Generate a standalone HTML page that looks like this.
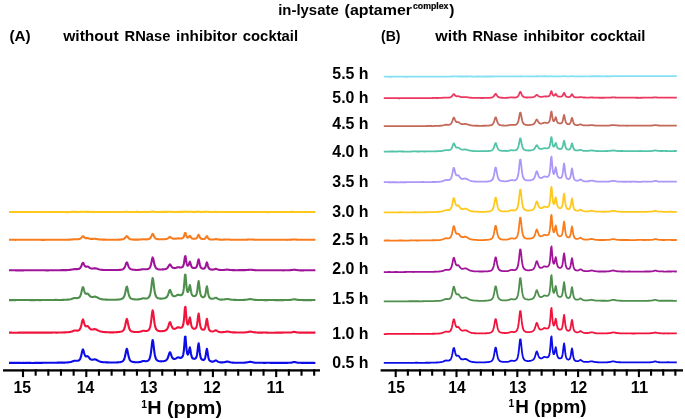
<!DOCTYPE html>
<html lang="en"><head><meta charset="utf-8"><title>in-lysate NMR</title>
<style>html,body{margin:0;padding:0;background:#fff}svg{display:block}</style></head>
<body>
<svg width="685" height="419" viewBox="0 0 685 419">
<rect width="685" height="419" fill="#fff"/>
<g fill="none" stroke-linejoin="round" stroke-linecap="butt">
<path stroke="#0c0ce6" stroke-width="2.1" d="M9.00,362.90 L9.55,362.89 L10.10,362.89 L10.64,362.87 L11.19,362.86 L11.74,362.84 L12.29,362.83 L12.84,362.83 L13.38,362.83 L13.93,362.84 L14.48,362.86 L15.03,362.87 L15.58,362.88 L16.13,362.88 L16.67,362.88 L17.22,362.88 L17.77,362.88 L18.32,362.88 L18.87,362.89 L19.41,362.90 L19.96,362.91 L20.51,362.92 L21.06,362.93 L21.61,362.93 L22.15,362.92 L22.70,362.92 L23.25,362.92 L23.80,362.92 L24.35,362.92 L24.90,362.93 L25.44,362.92 L25.99,362.92 L26.54,362.91 L27.09,362.90 L27.64,362.89 L28.18,362.88 L28.73,362.88 L29.28,362.89 L29.83,362.90 L30.38,362.91 L30.92,362.92 L31.47,362.93 L32.02,362.94 L32.57,362.94 L33.12,362.94 L33.67,362.93 L34.21,362.91 L34.76,362.89 L35.31,362.88 L35.86,362.86 L36.41,362.85 L36.95,362.85 L37.50,362.85 L38.05,362.86 L38.60,362.87 L39.15,362.88 L39.69,362.89 L40.24,362.89 L40.79,362.88 L41.34,362.87 L41.89,362.85 L42.44,362.83 L42.98,362.81 L43.53,362.79 L44.08,362.78 L44.63,362.77 L45.18,362.77 L45.72,362.77 L46.27,362.77 L46.82,362.77 L47.37,362.77 L47.92,362.76 L48.46,362.75 L49.01,362.74 L49.56,362.73 L50.11,362.73 L50.66,362.72 L51.21,362.73 L51.75,362.74 L52.30,362.75 L52.85,362.76 L53.40,362.77 L53.95,362.77 L54.49,362.77 L55.04,362.76 L55.59,362.74 L56.14,362.71 L56.69,362.68 L57.23,362.66 L57.78,362.64 L58.33,362.63 L58.88,362.63 L59.43,362.63 L59.98,362.63 L60.52,362.63 L61.07,362.63 L61.62,362.63 L62.17,362.62 L62.72,362.61 L63.26,362.61 L63.81,362.60 L64.36,362.59 L64.91,362.58 L65.46,362.55 L66.00,362.52 L66.55,362.49 L67.10,362.45 L67.65,362.41 L68.20,362.36 L68.75,362.30 L69.29,362.23 L69.84,362.15 L70.39,362.04 L70.94,361.91 L71.49,361.75 L72.03,361.56 L72.58,361.36 L73.13,361.16 L73.68,360.97 L74.23,360.82 L74.77,360.73 L75.32,360.71 L75.87,360.74 L76.42,360.78 L76.97,360.81 L77.52,360.80 L78.06,360.72 L78.61,360.55 L79.16,360.21 L79.71,359.63 L80.26,358.68 L80.80,357.21 L81.35,355.14 L81.90,352.59 L82.45,350.25 L83.00,349.44 L83.54,350.66 L84.09,352.78 L84.64,354.65 L85.19,355.84 L85.74,356.36 L86.29,356.39 L86.83,356.20 L87.38,356.11 L87.93,356.36 L88.48,356.96 L89.03,357.70 L89.57,358.40 L90.12,358.97 L90.67,359.37 L91.22,359.61 L91.77,359.72 L92.31,359.73 L92.86,359.66 L93.41,359.55 L93.96,359.44 L94.51,359.37 L95.06,359.37 L95.60,359.48 L96.15,359.68 L96.70,359.95 L97.25,360.26 L97.80,360.57 L98.34,360.87 L98.89,361.13 L99.44,361.36 L99.99,361.56 L100.54,361.72 L101.08,361.86 L101.63,361.97 L102.18,362.07 L102.73,362.15 L103.28,362.21 L103.83,362.25 L104.37,362.28 L104.92,362.30 L105.47,362.32 L106.02,362.33 L106.57,362.34 L107.11,362.36 L107.66,362.39 L108.21,362.42 L108.76,362.45 L109.31,362.48 L109.85,362.51 L110.40,362.52 L110.95,362.53 L111.50,362.53 L112.05,362.53 L112.59,362.52 L113.14,362.51 L113.69,362.50 L114.24,362.50 L114.79,362.49 L115.34,362.47 L115.88,362.45 L116.43,362.43 L116.98,362.40 L117.53,362.37 L118.08,362.33 L118.62,362.30 L119.17,362.25 L119.72,362.19 L120.27,362.11 L120.82,362.00 L121.36,361.85 L121.91,361.65 L122.46,361.38 L123.01,360.97 L123.56,360.35 L124.11,359.35 L124.65,357.82 L125.20,355.60 L125.75,352.75 L126.30,349.93 L126.85,348.76 L127.39,350.21 L127.94,353.08 L128.49,355.86 L129.04,357.99 L129.59,359.44 L130.13,360.38 L130.68,360.97 L131.23,361.35 L131.78,361.61 L132.33,361.79 L132.88,361.92 L133.42,362.02 L133.97,362.10 L134.52,362.15 L135.07,362.19 L135.62,362.21 L136.16,362.23 L136.71,362.24 L137.26,362.23 L137.81,362.22 L138.36,362.20 L138.90,362.15 L139.45,362.09 L140.00,361.99 L140.55,361.86 L141.10,361.69 L141.65,361.49 L142.19,361.28 L142.74,361.11 L143.29,361.01 L143.84,361.00 L144.39,361.05 L144.93,361.13 L145.48,361.19 L146.03,361.21 L146.58,361.17 L147.13,361.06 L147.67,360.86 L148.22,360.54 L148.77,360.04 L149.32,359.24 L149.87,357.93 L150.42,355.82 L150.96,352.57 L151.51,348.06 L152.06,343.01 L152.61,339.96 L153.16,341.54 L153.70,346.25 L154.25,351.08 L154.80,354.74 L155.35,357.18 L155.90,358.70 L156.44,359.64 L156.99,360.22 L157.54,360.60 L158.09,360.86 L158.64,361.05 L159.19,361.17 L159.73,361.26 L160.28,361.31 L160.83,361.34 L161.38,361.34 L161.93,361.32 L162.47,361.29 L163.02,361.23 L163.57,361.16 L164.12,361.05 L164.67,360.92 L165.21,360.74 L165.76,360.48 L166.31,360.11 L166.86,359.57 L167.41,358.75 L167.96,357.56 L168.50,355.95 L169.05,354.07 L169.60,352.53 L170.15,352.31 L170.70,353.51 L171.24,355.21 L171.79,356.70 L172.34,357.76 L172.89,358.44 L173.44,358.81 L173.98,358.98 L174.53,358.98 L175.08,358.86 L175.63,358.64 L176.18,358.34 L176.73,357.97 L177.27,357.62 L177.82,357.39 L178.37,357.36 L178.92,357.50 L179.47,357.69 L180.01,357.85 L180.56,357.90 L181.11,357.82 L181.66,357.56 L182.21,357.06 L182.75,356.12 L183.30,354.26 L183.85,350.57 L184.40,344.22 L184.95,336.89 L185.50,336.50 L186.04,343.53 L186.59,349.82 L187.14,353.30 L187.69,354.59 L188.24,354.27 L188.78,352.39 L189.33,349.18 L189.88,347.36 L190.43,349.97 L190.98,353.69 L191.52,356.20 L192.07,357.56 L192.62,358.25 L193.17,358.61 L193.72,358.79 L194.27,358.83 L194.81,358.76 L195.36,358.52 L195.91,358.00 L196.46,356.91 L197.01,354.74 L197.55,350.87 L198.10,345.72 L198.65,343.26 L199.20,346.96 L199.75,352.20 L200.29,355.86 L200.84,357.92 L201.39,358.98 L201.94,359.54 L202.49,359.84 L203.04,359.97 L203.58,359.94 L204.13,359.68 L204.68,359.02 L205.23,357.58 L205.78,354.91 L206.32,351.09 L206.87,348.75 L207.42,351.07 L207.97,355.09 L208.52,358.02 L209.06,359.69 L209.61,360.57 L210.16,361.04 L210.71,361.32 L211.26,361.50 L211.81,361.61 L212.35,361.65 L212.90,361.62 L213.45,361.51 L214.00,361.30 L214.55,360.99 L215.09,360.65 L215.64,360.42 L216.19,360.48 L216.74,360.79 L217.29,361.21 L217.83,361.58 L218.38,361.87 L218.93,362.07 L219.48,362.21 L220.03,362.30 L220.57,362.36 L221.12,362.40 L221.67,362.41 L222.22,362.41 L222.77,362.38 L223.32,362.33 L223.86,362.26 L224.41,362.16 L224.96,362.03 L225.51,361.90 L226.06,361.76 L226.60,361.65 L227.15,361.60 L227.70,361.61 L228.25,361.70 L228.80,361.84 L229.34,362.00 L229.89,362.16 L230.44,362.30 L230.99,362.41 L231.54,362.51 L232.09,362.58 L232.63,362.63 L233.18,362.66 L233.73,362.69 L234.28,362.70 L234.83,362.71 L235.37,362.70 L235.92,362.70 L236.47,362.70 L237.02,362.71 L237.57,362.71 L238.11,362.72 L238.66,362.73 L239.21,362.74 L239.76,362.74 L240.31,362.74 L240.86,362.74 L241.40,362.74 L241.95,362.74 L242.50,362.73 L243.05,362.72 L243.60,362.71 L244.14,362.68 L244.69,362.64 L245.24,362.59 L245.79,362.53 L246.34,362.45 L246.88,362.37 L247.43,362.28 L247.98,362.18 L248.53,362.07 L249.08,361.96 L249.63,361.86 L250.17,361.82 L250.72,361.84 L251.27,361.92 L251.82,362.04 L252.37,362.18 L252.91,362.31 L253.46,362.44 L254.01,362.54 L254.56,362.63 L255.11,362.70 L255.65,362.73 L256.20,362.75 L256.75,362.75 L257.30,362.73 L257.85,362.72 L258.40,362.71 L258.94,362.71 L259.49,362.71 L260.04,362.72 L260.59,362.74 L261.14,362.77 L261.68,362.79 L262.23,362.80 L262.78,362.82 L263.33,362.83 L263.88,362.84 L264.42,362.84 L264.97,362.84 L265.52,362.83 L266.07,362.82 L266.62,362.80 L267.17,362.79 L267.71,362.78 L268.26,362.79 L268.81,362.79 L269.36,362.81 L269.91,362.82 L270.45,362.84 L271.00,362.85 L271.55,362.86 L272.10,362.86 L272.65,362.87 L273.19,362.87 L273.74,362.89 L274.29,362.90 L274.84,362.91 L275.39,362.92 L275.94,362.91 L276.48,362.90 L277.03,362.90 L277.58,362.89 L278.13,362.88 L278.68,362.88 L279.22,362.87 L279.77,362.87 L280.32,362.85 L280.87,362.84 L281.42,362.83 L281.96,362.83 L282.51,362.84 L283.06,362.85 L283.61,362.87 L284.16,362.88 L284.71,362.88 L285.25,362.88 L285.80,362.87 L286.35,362.86 L286.90,362.85 L287.45,362.83 L287.99,362.82 L288.54,362.81 L289.09,362.79 L289.64,362.77 L290.19,362.73 L290.73,362.68 L291.28,362.60 L291.83,362.51 L292.38,362.39 L292.93,362.24 L293.48,362.10 L294.02,362.01 L294.57,362.01 L295.12,362.11 L295.67,362.25 L296.22,362.39 L296.76,362.51 L297.31,362.60 L297.86,362.67 L298.41,362.72 L298.96,362.76 L299.50,362.78 L300.05,362.79 L300.60,362.81 L301.15,362.83 L301.70,362.85 L302.25,362.87 L302.79,362.88 L303.34,362.89 L303.89,362.89 L304.44,362.89 L304.99,362.89 L305.53,362.89 L306.08,362.88 L306.63,362.88 L307.18,362.88 L307.73,362.88 L308.27,362.87 L308.82,362.87 L309.37,362.86 L309.92,362.86 L310.47,362.87 L311.02,362.87 L311.56,362.88 L312.11,362.89 L312.66,362.90 L313.21,362.90 L313.76,362.91 L314.30,362.92 L314.85,362.93 L315.40,362.94"/>
<path stroke="#f0143c" stroke-width="2.1" d="M9.00,332.66 L9.55,332.65 L10.10,332.64 L10.64,332.65 L11.19,332.65 L11.74,332.67 L12.29,332.68 L12.84,332.70 L13.38,332.71 L13.93,332.72 L14.48,332.73 L15.03,332.73 L15.58,332.73 L16.13,332.73 L16.67,332.72 L17.22,332.70 L17.77,332.69 L18.32,332.67 L18.87,332.66 L19.41,332.65 L19.96,332.65 L20.51,332.65 L21.06,332.65 L21.61,332.64 L22.15,332.64 L22.70,332.63 L23.25,332.62 L23.80,332.62 L24.35,332.62 L24.90,332.64 L25.44,332.65 L25.99,332.66 L26.54,332.66 L27.09,332.66 L27.64,332.65 L28.18,332.64 L28.73,332.62 L29.28,332.61 L29.83,332.60 L30.38,332.60 L30.92,332.60 L31.47,332.61 L32.02,332.60 L32.57,332.60 L33.12,332.59 L33.67,332.59 L34.21,332.59 L34.76,332.60 L35.31,332.61 L35.86,332.63 L36.41,332.64 L36.95,332.66 L37.50,332.67 L38.05,332.67 L38.60,332.67 L39.15,332.66 L39.69,332.65 L40.24,332.64 L40.79,332.63 L41.34,332.63 L41.89,332.62 L42.44,332.62 L42.98,332.62 L43.53,332.62 L44.08,332.62 L44.63,332.61 L45.18,332.60 L45.72,332.59 L46.27,332.59 L46.82,332.58 L47.37,332.58 L47.92,332.59 L48.46,332.59 L49.01,332.60 L49.56,332.61 L50.11,332.62 L50.66,332.61 L51.21,332.60 L51.75,332.59 L52.30,332.58 L52.85,332.57 L53.40,332.57 L53.95,332.56 L54.49,332.56 L55.04,332.57 L55.59,332.58 L56.14,332.58 L56.69,332.59 L57.23,332.59 L57.78,332.58 L58.33,332.57 L58.88,332.57 L59.43,332.56 L59.98,332.56 L60.52,332.55 L61.07,332.54 L61.62,332.53 L62.17,332.51 L62.72,332.48 L63.26,332.45 L63.81,332.42 L64.36,332.39 L64.91,332.36 L65.46,332.33 L66.00,332.30 L66.55,332.27 L67.10,332.25 L67.65,332.22 L68.20,332.19 L68.75,332.14 L69.29,332.07 L69.84,331.99 L70.39,331.88 L70.94,331.74 L71.49,331.58 L72.03,331.39 L72.58,331.19 L73.13,330.98 L73.68,330.79 L74.23,330.64 L74.77,330.55 L75.32,330.54 L75.87,330.57 L76.42,330.62 L76.97,330.65 L77.52,330.64 L78.06,330.57 L78.61,330.40 L79.16,330.06 L79.71,329.48 L80.26,328.53 L80.80,327.09 L81.35,325.05 L81.90,322.55 L82.45,320.25 L83.00,319.46 L83.54,320.66 L84.09,322.77 L84.64,324.62 L85.19,325.81 L85.74,326.33 L86.29,326.36 L86.83,326.16 L87.38,326.06 L87.93,326.28 L88.48,326.85 L89.03,327.57 L89.57,328.25 L90.12,328.81 L90.67,329.21 L91.22,329.45 L91.77,329.56 L92.31,329.55 L92.86,329.47 L93.41,329.35 L93.96,329.23 L94.51,329.16 L95.06,329.17 L95.60,329.27 L96.15,329.45 L96.70,329.71 L97.25,330.00 L97.80,330.30 L98.34,330.58 L98.89,330.84 L99.44,331.07 L99.99,331.27 L100.54,331.44 L101.08,331.58 L101.63,331.69 L102.18,331.78 L102.73,331.86 L103.28,331.93 L103.83,332.00 L104.37,332.05 L104.92,332.10 L105.47,332.14 L106.02,332.17 L106.57,332.20 L107.11,332.22 L107.66,332.24 L108.21,332.27 L108.76,332.31 L109.31,332.35 L109.85,332.38 L110.40,332.40 L110.95,332.41 L111.50,332.41 L112.05,332.40 L112.59,332.38 L113.14,332.36 L113.69,332.34 L114.24,332.33 L114.79,332.31 L115.34,332.28 L115.88,332.25 L116.43,332.21 L116.98,332.17 L117.53,332.12 L118.08,332.07 L118.62,332.02 L119.17,331.96 L119.72,331.90 L120.27,331.83 L120.82,331.73 L121.36,331.60 L121.91,331.42 L122.46,331.16 L123.01,330.76 L123.56,330.13 L124.11,329.15 L124.65,327.65 L125.20,325.49 L125.75,322.71 L126.30,319.99 L126.85,318.87 L127.39,320.31 L127.94,323.14 L128.49,325.87 L129.04,327.94 L129.59,329.35 L130.13,330.26 L130.68,330.83 L131.23,331.19 L131.78,331.43 L132.33,331.60 L132.88,331.73 L133.42,331.82 L133.97,331.90 L134.52,331.96 L135.07,332.01 L135.62,332.04 L136.16,332.05 L136.71,332.04 L137.26,332.01 L137.81,331.98 L138.36,331.93 L138.90,331.88 L139.45,331.81 L140.00,331.72 L140.55,331.59 L141.10,331.43 L141.65,331.24 L142.19,331.05 L142.74,330.88 L143.29,330.78 L143.84,330.77 L144.39,330.82 L144.93,330.90 L145.48,330.95 L146.03,330.98 L146.58,330.94 L147.13,330.85 L147.67,330.66 L148.22,330.36 L148.77,329.89 L149.32,329.11 L149.87,327.84 L150.42,325.78 L150.96,322.60 L151.51,318.18 L152.06,313.23 L152.61,310.25 L153.16,311.80 L153.70,316.43 L154.25,321.16 L154.80,324.75 L155.35,327.15 L155.90,328.65 L156.44,329.57 L156.99,330.14 L157.54,330.51 L158.09,330.76 L158.64,330.93 L159.19,331.04 L159.73,331.12 L160.28,331.16 L160.83,331.18 L161.38,331.18 L161.93,331.16 L162.47,331.13 L163.02,331.07 L163.57,330.99 L164.12,330.88 L164.67,330.74 L165.21,330.55 L165.76,330.28 L166.31,329.91 L166.86,329.36 L167.41,328.55 L167.96,327.38 L168.50,325.79 L169.05,323.93 L169.60,322.42 L170.15,322.20 L170.70,323.39 L171.24,325.08 L171.79,326.57 L172.34,327.63 L172.89,328.31 L173.44,328.68 L173.98,328.83 L174.53,328.83 L175.08,328.71 L175.63,328.49 L176.18,328.19 L176.73,327.84 L177.27,327.50 L177.82,327.27 L178.37,327.24 L178.92,327.36 L179.47,327.54 L180.01,327.69 L180.56,327.76 L181.11,327.71 L181.66,327.50 L182.21,327.05 L182.75,326.17 L183.30,324.35 L183.85,320.74 L184.40,314.49 L184.95,307.26 L185.50,306.85 L186.04,313.70 L186.59,319.86 L187.14,323.26 L187.69,324.53 L188.24,324.22 L188.78,322.37 L189.33,319.23 L189.88,317.44 L190.43,319.98 L190.98,323.62 L191.52,326.07 L192.07,327.40 L192.62,328.09 L193.17,328.46 L193.72,328.66 L194.27,328.73 L194.81,328.68 L195.36,328.46 L195.91,327.96 L196.46,326.90 L197.01,324.76 L197.55,320.96 L198.10,315.89 L198.65,313.46 L199.20,317.08 L199.75,322.20 L200.29,325.78 L200.84,327.78 L201.39,328.81 L201.94,329.35 L202.49,329.64 L203.04,329.76 L203.58,329.73 L204.13,329.48 L204.68,328.84 L205.23,327.43 L205.78,324.81 L206.32,321.07 L206.87,318.76 L207.42,321.03 L207.97,324.96 L208.52,327.84 L209.06,329.50 L209.61,330.39 L210.16,330.87 L210.71,331.16 L211.26,331.34 L211.81,331.44 L212.35,331.48 L212.90,331.45 L213.45,331.33 L214.00,331.13 L214.55,330.84 L215.09,330.52 L215.64,330.30 L216.19,330.35 L216.74,330.65 L217.29,331.04 L217.83,331.40 L218.38,331.68 L218.93,331.88 L219.48,332.03 L220.03,332.12 L220.57,332.17 L221.12,332.19 L221.67,332.18 L222.22,332.17 L222.77,332.14 L223.32,332.11 L223.86,332.06 L224.41,332.01 L224.96,331.94 L225.51,331.84 L226.06,331.74 L226.60,331.63 L227.15,331.56 L227.70,331.54 L228.25,331.59 L228.80,331.69 L229.34,331.82 L229.89,331.94 L230.44,332.05 L230.99,332.15 L231.54,332.23 L232.09,332.29 L232.63,332.33 L233.18,332.36 L233.73,332.39 L234.28,332.40 L234.83,332.41 L235.37,332.42 L235.92,332.43 L236.47,332.43 L237.02,332.44 L237.57,332.46 L238.11,332.47 L238.66,332.49 L239.21,332.51 L239.76,332.52 L240.31,332.53 L240.86,332.54 L241.40,332.53 L241.95,332.52 L242.50,332.50 L243.05,332.48 L243.60,332.45 L244.14,332.43 L244.69,332.40 L245.24,332.36 L245.79,332.32 L246.34,332.27 L246.88,332.20 L247.43,332.12 L247.98,332.01 L248.53,331.89 L249.08,331.77 L249.63,331.67 L250.17,331.62 L250.72,331.63 L251.27,331.71 L251.82,331.81 L252.37,331.93 L252.91,332.04 L253.46,332.14 L254.01,332.22 L254.56,332.30 L255.11,332.36 L255.65,332.41 L256.20,332.46 L256.75,332.50 L257.30,332.55 L257.85,332.58 L258.40,332.61 L258.94,332.64 L259.49,332.66 L260.04,332.66 L260.59,332.66 L261.14,332.65 L261.68,332.63 L262.23,332.60 L262.78,332.58 L263.33,332.56 L263.88,332.55 L264.42,332.54 L264.97,332.55 L265.52,332.57 L266.07,332.59 L266.62,332.62 L267.17,332.64 L267.71,332.67 L268.26,332.69 L268.81,332.71 L269.36,332.73 L269.91,332.74 L270.45,332.75 L271.00,332.76 L271.55,332.75 L272.10,332.74 L272.65,332.73 L273.19,332.72 L273.74,332.71 L274.29,332.70 L274.84,332.68 L275.39,332.67 L275.94,332.65 L276.48,332.64 L277.03,332.63 L277.58,332.63 L278.13,332.64 L278.68,332.64 L279.22,332.65 L279.77,332.66 L280.32,332.66 L280.87,332.65 L281.42,332.63 L281.96,332.61 L282.51,332.60 L283.06,332.58 L283.61,332.56 L284.16,332.55 L284.71,332.55 L285.25,332.54 L285.80,332.53 L286.35,332.53 L286.90,332.53 L287.45,332.53 L287.99,332.53 L288.54,332.53 L289.09,332.53 L289.64,332.51 L290.19,332.49 L290.73,332.46 L291.28,332.40 L291.83,332.31 L292.38,332.20 L292.93,332.07 L293.48,331.95 L294.02,331.89 L294.57,331.91 L295.12,332.00 L295.67,332.14 L296.22,332.26 L296.76,332.37 L297.31,332.44 L297.86,332.50 L298.41,332.54 L298.96,332.58 L299.50,332.60 L300.05,332.62 L300.60,332.63 L301.15,332.64 L301.70,332.64 L302.25,332.63 L302.79,332.62 L303.34,332.61 L303.89,332.61 L304.44,332.61 L304.99,332.60 L305.53,332.60 L306.08,332.59 L306.63,332.59 L307.18,332.59 L307.73,332.60 L308.27,332.61 L308.82,332.63 L309.37,332.64 L309.92,332.64 L310.47,332.64 L311.02,332.64 L311.56,332.63 L312.11,332.62 L312.66,332.62 L313.21,332.62 L313.76,332.62 L314.30,332.64 L314.85,332.65 L315.40,332.66"/>
<path stroke="#4e8f4e" stroke-width="2.1" d="M9.00,300.11 L9.55,300.11 L10.10,300.12 L10.64,300.13 L11.19,300.14 L11.74,300.15 L12.29,300.15 L12.84,300.14 L13.38,300.14 L13.93,300.13 L14.48,300.11 L15.03,300.09 L15.58,300.08 L16.13,300.06 L16.67,300.06 L17.22,300.05 L17.77,300.05 L18.32,300.05 L18.87,300.05 L19.41,300.05 L19.96,300.05 L20.51,300.05 L21.06,300.04 L21.61,300.03 L22.15,300.03 L22.70,300.03 L23.25,300.04 L23.80,300.04 L24.35,300.05 L24.90,300.06 L25.44,300.06 L25.99,300.06 L26.54,300.05 L27.09,300.05 L27.64,300.05 L28.18,300.05 L28.73,300.06 L29.28,300.07 L29.83,300.08 L30.38,300.09 L30.92,300.10 L31.47,300.11 L32.02,300.12 L32.57,300.12 L33.12,300.12 L33.67,300.11 L34.21,300.11 L34.76,300.09 L35.31,300.08 L35.86,300.07 L36.41,300.06 L36.95,300.06 L37.50,300.06 L38.05,300.07 L38.60,300.08 L39.15,300.09 L39.69,300.10 L40.24,300.10 L40.79,300.09 L41.34,300.08 L41.89,300.07 L42.44,300.05 L42.98,300.03 L43.53,300.02 L44.08,300.01 L44.63,300.00 L45.18,299.99 L45.72,299.99 L46.27,299.98 L46.82,299.98 L47.37,299.98 L47.92,299.98 L48.46,299.98 L49.01,299.98 L49.56,299.98 L50.11,299.99 L50.66,299.99 L51.21,300.00 L51.75,300.00 L52.30,300.00 L52.85,299.99 L53.40,299.98 L53.95,299.96 L54.49,299.94 L55.04,299.92 L55.59,299.91 L56.14,299.91 L56.69,299.92 L57.23,299.94 L57.78,299.96 L58.33,299.98 L58.88,300.00 L59.43,300.00 L59.98,299.99 L60.52,299.98 L61.07,299.96 L61.62,299.94 L62.17,299.92 L62.72,299.90 L63.26,299.88 L63.81,299.85 L64.36,299.82 L64.91,299.79 L65.46,299.76 L66.00,299.73 L66.55,299.70 L67.10,299.67 L67.65,299.65 L68.20,299.62 L68.75,299.57 L69.29,299.51 L69.84,299.42 L70.39,299.31 L70.94,299.16 L71.49,299.00 L72.03,298.81 L72.58,298.61 L73.13,298.42 L73.68,298.25 L74.23,298.12 L74.77,298.05 L75.32,298.03 L75.87,298.06 L76.42,298.09 L76.97,298.10 L77.52,298.06 L78.06,297.96 L78.61,297.78 L79.16,297.45 L79.71,296.90 L80.26,295.99 L80.80,294.58 L81.35,292.59 L81.90,290.13 L82.45,287.86 L83.00,287.06 L83.54,288.23 L84.09,290.28 L84.64,292.09 L85.19,293.26 L85.74,293.79 L86.29,293.83 L86.83,293.65 L87.38,293.55 L87.93,293.76 L88.48,294.30 L89.03,294.99 L89.57,295.65 L90.12,296.20 L90.67,296.60 L91.22,296.86 L91.77,296.99 L92.31,297.02 L92.86,296.96 L93.41,296.86 L93.96,296.74 L94.51,296.65 L95.06,296.63 L95.60,296.71 L96.15,296.88 L96.70,297.12 L97.25,297.41 L97.80,297.71 L98.34,298.00 L98.89,298.27 L99.44,298.51 L99.99,298.71 L100.54,298.89 L101.08,299.03 L101.63,299.16 L102.18,299.26 L102.73,299.35 L103.28,299.42 L103.83,299.47 L104.37,299.52 L104.92,299.55 L105.47,299.58 L106.02,299.61 L106.57,299.63 L107.11,299.66 L107.66,299.68 L108.21,299.69 L108.76,299.70 L109.31,299.71 L109.85,299.71 L110.40,299.72 L110.95,299.73 L111.50,299.75 L112.05,299.77 L112.59,299.79 L113.14,299.79 L113.69,299.79 L114.24,299.79 L114.79,299.77 L115.34,299.75 L115.88,299.72 L116.43,299.68 L116.98,299.64 L117.53,299.60 L118.08,299.55 L118.62,299.50 L119.17,299.45 L119.72,299.38 L120.27,299.29 L120.82,299.18 L121.36,299.02 L121.91,298.82 L122.46,298.54 L123.01,298.14 L123.56,297.53 L124.11,296.58 L124.65,295.12 L125.20,293.01 L125.75,290.29 L126.30,287.61 L126.85,286.51 L127.39,287.93 L127.94,290.71 L128.49,293.40 L129.04,295.44 L129.59,296.83 L130.13,297.72 L130.68,298.28 L131.23,298.63 L131.78,298.86 L132.33,299.02 L132.88,299.14 L133.42,299.23 L133.97,299.30 L134.52,299.35 L135.07,299.40 L135.62,299.44 L136.16,299.46 L136.71,299.47 L137.26,299.46 L137.81,299.42 L138.36,299.37 L138.90,299.31 L139.45,299.22 L140.00,299.11 L140.55,298.99 L141.10,298.85 L141.65,298.68 L142.19,298.52 L142.74,298.38 L143.29,298.31 L143.84,298.32 L144.39,298.40 L144.93,298.48 L145.48,298.55 L146.03,298.57 L146.58,298.52 L147.13,298.40 L147.67,298.18 L148.22,297.84 L148.77,297.33 L149.32,296.54 L149.87,295.28 L150.42,293.25 L150.96,290.14 L151.51,285.82 L152.06,280.97 L152.61,278.05 L153.16,279.59 L153.70,284.15 L154.25,288.80 L154.80,292.32 L155.35,294.66 L155.90,296.11 L156.44,297.00 L156.99,297.55 L157.54,297.92 L158.09,298.17 L158.64,298.35 L159.19,298.49 L159.73,298.58 L160.28,298.63 L160.83,298.65 L161.38,298.64 L161.93,298.62 L162.47,298.57 L163.02,298.51 L163.57,298.43 L164.12,298.32 L164.67,298.18 L165.21,297.99 L165.76,297.74 L166.31,297.39 L166.86,296.87 L167.41,296.09 L167.96,294.96 L168.50,293.43 L169.05,291.62 L169.60,290.14 L170.15,289.93 L170.70,291.08 L171.24,292.71 L171.79,294.13 L172.34,295.14 L172.89,295.77 L173.44,296.11 L173.98,296.24 L174.53,296.24 L175.08,296.13 L175.63,295.92 L176.18,295.64 L176.73,295.31 L177.27,294.99 L177.82,294.77 L178.37,294.74 L178.92,294.86 L179.47,295.03 L180.01,295.16 L180.56,295.19 L181.11,295.10 L181.66,294.86 L182.21,294.39 L182.75,293.49 L183.30,291.71 L183.85,288.17 L184.40,282.03 L184.95,274.94 L185.50,274.54 L186.04,281.30 L186.59,287.36 L187.14,290.71 L187.69,291.96 L188.24,291.66 L188.78,289.86 L189.33,286.77 L189.88,285.02 L190.43,287.54 L190.98,291.13 L191.52,293.55 L192.07,294.86 L192.62,295.53 L193.17,295.89 L193.72,296.08 L194.27,296.14 L194.81,296.09 L195.36,295.87 L195.91,295.38 L196.46,294.33 L197.01,292.23 L197.55,288.49 L198.10,283.50 L198.65,281.11 L199.20,284.66 L199.75,289.72 L200.29,293.25 L200.84,295.23 L201.39,296.27 L201.94,296.82 L202.49,297.11 L203.04,297.23 L203.58,297.18 L204.13,296.92 L204.68,296.27 L205.23,294.86 L205.78,292.26 L206.32,288.57 L206.87,286.29 L207.42,288.54 L207.97,292.42 L208.52,295.27 L209.06,296.90 L209.61,297.76 L210.16,298.22 L210.71,298.49 L211.26,298.64 L211.81,298.73 L212.35,298.75 L212.90,298.71 L213.45,298.61 L214.00,298.42 L214.55,298.16 L215.09,297.87 L215.64,297.68 L216.19,297.76 L216.74,298.07 L217.29,298.47 L217.83,298.83 L218.38,299.10 L218.93,299.31 L219.48,299.45 L220.03,299.54 L220.57,299.60 L221.12,299.62 L221.67,299.62 L222.22,299.60 L222.77,299.57 L223.32,299.52 L223.86,299.47 L224.41,299.40 L224.96,299.31 L225.51,299.21 L226.06,299.10 L226.60,299.01 L227.15,298.96 L227.70,298.97 L228.25,299.05 L228.80,299.17 L229.34,299.30 L229.89,299.42 L230.44,299.54 L230.99,299.62 L231.54,299.69 L232.09,299.74 L232.63,299.77 L233.18,299.80 L233.73,299.83 L234.28,299.85 L234.83,299.88 L235.37,299.90 L235.92,299.92 L236.47,299.94 L237.02,299.94 L237.57,299.94 L238.11,299.94 L238.66,299.93 L239.21,299.93 L239.76,299.94 L240.31,299.96 L240.86,299.97 L241.40,299.99 L241.95,299.99 L242.50,299.97 L243.05,299.95 L243.60,299.91 L244.14,299.87 L244.69,299.83 L245.24,299.79 L245.79,299.74 L246.34,299.69 L246.88,299.63 L247.43,299.55 L247.98,299.46 L248.53,299.34 L249.08,299.23 L249.63,299.13 L250.17,299.08 L250.72,299.10 L251.27,299.17 L251.82,299.28 L252.37,299.41 L252.91,299.52 L253.46,299.62 L254.01,299.71 L254.56,299.78 L255.11,299.83 L255.65,299.87 L256.20,299.90 L256.75,299.93 L257.30,299.97 L257.85,300.00 L258.40,300.02 L258.94,300.04 L259.49,300.06 L260.04,300.07 L260.59,300.07 L261.14,300.07 L261.68,300.07 L262.23,300.06 L262.78,300.07 L263.33,300.07 L263.88,300.08 L264.42,300.09 L264.97,300.10 L265.52,300.11 L266.07,300.11 L266.62,300.11 L267.17,300.09 L267.71,300.08 L268.26,300.06 L268.81,300.04 L269.36,300.02 L269.91,300.01 L270.45,300.00 L271.00,300.00 L271.55,300.01 L272.10,300.03 L272.65,300.04 L273.19,300.05 L273.74,300.06 L274.29,300.07 L274.84,300.08 L275.39,300.08 L275.94,300.08 L276.48,300.08 L277.03,300.08 L277.58,300.09 L278.13,300.09 L278.68,300.10 L279.22,300.12 L279.77,300.13 L280.32,300.14 L280.87,300.15 L281.42,300.16 L281.96,300.16 L282.51,300.14 L283.06,300.12 L283.61,300.09 L284.16,300.06 L284.71,300.04 L285.25,300.02 L285.80,300.02 L286.35,300.02 L286.90,300.02 L287.45,300.03 L287.99,300.04 L288.54,300.03 L289.09,300.01 L289.64,299.97 L290.19,299.92 L290.73,299.86 L291.28,299.79 L291.83,299.70 L292.38,299.59 L292.93,299.47 L293.48,299.36 L294.02,299.29 L294.57,299.30 L295.12,299.38 L295.67,299.49 L296.22,299.60 L296.76,299.70 L297.31,299.78 L297.86,299.85 L298.41,299.91 L298.96,299.96 L299.50,300.00 L300.05,300.02 L300.60,300.04 L301.15,300.05 L301.70,300.06 L302.25,300.07 L302.79,300.08 L303.34,300.09 L303.89,300.10 L304.44,300.10 L304.99,300.10 L305.53,300.10 L306.08,300.09 L306.63,300.09 L307.18,300.09 L307.73,300.09 L308.27,300.10 L308.82,300.10 L309.37,300.11 L309.92,300.11 L310.47,300.10 L311.02,300.09 L311.56,300.08 L312.11,300.07 L312.66,300.06 L313.21,300.06 L313.76,300.06 L314.30,300.06 L314.85,300.06 L315.40,300.07"/>
<path stroke="#a0149a" stroke-width="2.1" d="M9.00,270.32 L9.55,270.32 L10.10,270.31 L10.64,270.30 L11.19,270.30 L11.74,270.30 L12.29,270.30 L12.84,270.29 L13.38,270.29 L13.93,270.29 L14.48,270.29 L15.03,270.31 L15.58,270.33 L16.13,270.35 L16.67,270.36 L17.22,270.37 L17.77,270.38 L18.32,270.37 L18.87,270.36 L19.41,270.35 L19.96,270.35 L20.51,270.35 L21.06,270.35 L21.61,270.36 L22.15,270.37 L22.70,270.37 L23.25,270.36 L23.80,270.35 L24.35,270.32 L24.90,270.29 L25.44,270.26 L25.99,270.23 L26.54,270.22 L27.09,270.22 L27.64,270.24 L28.18,270.26 L28.73,270.29 L29.28,270.30 L29.83,270.30 L30.38,270.30 L30.92,270.28 L31.47,270.26 L32.02,270.25 L32.57,270.24 L33.12,270.24 L33.67,270.24 L34.21,270.25 L34.76,270.25 L35.31,270.24 L35.86,270.23 L36.41,270.22 L36.95,270.21 L37.50,270.20 L38.05,270.20 L38.60,270.20 L39.15,270.21 L39.69,270.22 L40.24,270.24 L40.79,270.25 L41.34,270.26 L41.89,270.27 L42.44,270.27 L42.98,270.27 L43.53,270.27 L44.08,270.28 L44.63,270.30 L45.18,270.32 L45.72,270.34 L46.27,270.35 L46.82,270.36 L47.37,270.36 L47.92,270.34 L48.46,270.33 L49.01,270.30 L49.56,270.28 L50.11,270.26 L50.66,270.24 L51.21,270.23 L51.75,270.22 L52.30,270.21 L52.85,270.20 L53.40,270.20 L53.95,270.20 L54.49,270.20 L55.04,270.21 L55.59,270.21 L56.14,270.22 L56.69,270.22 L57.23,270.22 L57.78,270.22 L58.33,270.22 L58.88,270.21 L59.43,270.20 L59.98,270.19 L60.52,270.18 L61.07,270.17 L61.62,270.16 L62.17,270.15 L62.72,270.15 L63.26,270.16 L63.81,270.16 L64.36,270.16 L64.91,270.16 L65.46,270.15 L66.00,270.14 L66.55,270.12 L67.10,270.09 L67.65,270.06 L68.20,270.02 L68.75,269.97 L69.29,269.92 L69.84,269.86 L70.39,269.79 L70.94,269.72 L71.49,269.64 L72.03,269.55 L72.58,269.45 L73.13,269.35 L73.68,269.25 L74.23,269.17 L74.77,269.12 L75.32,269.11 L75.87,269.11 L76.42,269.13 L76.97,269.14 L77.52,269.12 L78.06,269.07 L78.61,268.97 L79.16,268.78 L79.71,268.45 L80.26,267.92 L80.80,267.10 L81.35,265.95 L81.90,264.52 L82.45,263.21 L83.00,262.75 L83.54,263.43 L84.09,264.62 L84.64,265.67 L85.19,266.34 L85.74,266.64 L86.29,266.66 L86.83,266.55 L87.38,266.49 L87.93,266.63 L88.48,266.96 L89.03,267.37 L89.57,267.77 L90.12,268.10 L90.67,268.34 L91.22,268.49 L91.77,268.57 L92.31,268.58 L92.86,268.54 L93.41,268.47 L93.96,268.39 L94.51,268.33 L95.06,268.30 L95.60,268.33 L96.15,268.42 L96.70,268.57 L97.25,268.75 L97.80,268.94 L98.34,269.13 L98.89,269.30 L99.44,269.45 L99.99,269.57 L100.54,269.67 L101.08,269.75 L101.63,269.81 L102.18,269.86 L102.73,269.90 L103.28,269.93 L103.83,269.94 L104.37,269.95 L104.92,269.96 L105.47,269.97 L106.02,269.99 L106.57,270.01 L107.11,270.02 L107.66,270.03 L108.21,270.04 L108.76,270.03 L109.31,270.03 L109.85,270.02 L110.40,270.02 L110.95,270.03 L111.50,270.03 L112.05,270.04 L112.59,270.04 L113.14,270.04 L113.69,270.03 L114.24,270.02 L114.79,270.01 L115.34,270.00 L115.88,270.00 L116.43,270.00 L116.98,270.00 L117.53,269.99 L118.08,269.98 L118.62,269.95 L119.17,269.92 L119.72,269.88 L120.27,269.83 L120.82,269.77 L121.36,269.69 L121.91,269.57 L122.46,269.42 L123.01,269.18 L123.56,268.81 L124.11,268.24 L124.65,267.37 L125.20,266.11 L125.75,264.52 L126.30,262.96 L126.85,262.32 L127.39,263.14 L127.94,264.76 L128.49,266.32 L129.04,267.50 L129.59,268.29 L130.13,268.79 L130.68,269.10 L131.23,269.29 L131.78,269.42 L132.33,269.51 L132.88,269.60 L133.42,269.67 L133.97,269.74 L134.52,269.80 L135.07,269.86 L135.62,269.91 L136.16,269.94 L136.71,269.95 L137.26,269.94 L137.81,269.92 L138.36,269.88 L138.90,269.82 L139.45,269.76 L140.00,269.68 L140.55,269.59 L141.10,269.50 L141.65,269.40 L142.19,269.30 L142.74,269.22 L143.29,269.18 L143.84,269.19 L144.39,269.23 L144.93,269.28 L145.48,269.31 L146.03,269.32 L146.58,269.29 L147.13,269.22 L147.67,269.11 L148.22,268.94 L148.77,268.67 L149.32,268.24 L149.87,267.52 L150.42,266.35 L150.96,264.54 L151.51,262.01 L152.06,259.17 L152.61,257.44 L153.16,258.31 L153.70,260.94 L154.25,263.63 L154.80,265.67 L155.35,267.04 L155.90,267.91 L156.44,268.46 L156.99,268.81 L157.54,269.06 L158.09,269.23 L158.64,269.34 L159.19,269.42 L159.73,269.47 L160.28,269.48 L160.83,269.48 L161.38,269.47 L161.93,269.45 L162.47,269.42 L163.02,269.39 L163.57,269.35 L164.12,269.29 L164.67,269.21 L165.21,269.10 L165.76,268.94 L166.31,268.72 L166.86,268.41 L167.41,267.95 L167.96,267.29 L168.50,266.40 L169.05,265.37 L169.60,264.53 L170.15,264.42 L170.70,265.10 L171.24,266.06 L171.79,266.87 L172.34,267.45 L172.89,267.80 L173.44,267.99 L173.98,268.07 L174.53,268.08 L175.08,268.03 L175.63,267.92 L176.18,267.76 L176.73,267.57 L177.27,267.38 L177.82,267.24 L178.37,267.21 L178.92,267.27 L179.47,267.37 L180.01,267.46 L180.56,267.50 L181.11,267.47 L181.66,267.35 L182.21,267.11 L182.75,266.62 L183.30,265.64 L183.85,263.67 L184.40,260.28 L184.95,256.36 L185.50,256.14 L186.04,259.87 L186.59,263.22 L187.14,265.07 L187.69,265.76 L188.24,265.56 L188.78,264.50 L189.33,262.69 L189.88,261.65 L190.43,263.08 L190.98,265.15 L191.52,266.54 L192.07,267.31 L192.62,267.70 L193.17,267.91 L193.72,268.02 L194.27,268.05 L194.81,268.01 L195.36,267.87 L195.91,267.58 L196.46,266.97 L197.01,265.74 L197.55,263.57 L198.10,260.67 L198.65,259.27 L199.20,261.33 L199.75,264.26 L200.29,266.30 L200.84,267.45 L201.39,268.06 L201.94,268.38 L202.49,268.56 L203.04,268.65 L203.58,268.64 L204.13,268.51 L204.68,268.15 L205.23,267.35 L205.78,265.86 L206.32,263.73 L206.87,262.42 L207.42,263.72 L207.97,265.96 L208.52,267.60 L209.06,268.53 L209.61,269.03 L210.16,269.30 L210.71,269.47 L211.26,269.57 L211.81,269.63 L212.35,269.65 L212.90,269.61 L213.45,269.53 L214.00,269.39 L214.55,269.21 L215.09,269.01 L215.64,268.88 L216.19,268.91 L216.74,269.10 L217.29,269.33 L217.83,269.53 L218.38,269.68 L218.93,269.78 L219.48,269.86 L220.03,269.91 L220.57,269.95 L221.12,269.98 L221.67,270.00 L222.22,270.00 L222.77,269.99 L223.32,269.96 L223.86,269.92 L224.41,269.86 L224.96,269.80 L225.51,269.73 L226.06,269.67 L226.60,269.62 L227.15,269.60 L227.70,269.62 L228.25,269.68 L228.80,269.77 L229.34,269.86 L229.89,269.94 L230.44,270.00 L230.99,270.04 L231.54,270.07 L232.09,270.08 L232.63,270.09 L233.18,270.10 L233.73,270.12 L234.28,270.14 L234.83,270.16 L235.37,270.19 L235.92,270.20 L236.47,270.20 L237.02,270.19 L237.57,270.18 L238.11,270.16 L238.66,270.14 L239.21,270.13 L239.76,270.13 L240.31,270.13 L240.86,270.15 L241.40,270.16 L241.95,270.16 L242.50,270.17 L243.05,270.16 L243.60,270.15 L244.14,270.13 L244.69,270.11 L245.24,270.09 L245.79,270.06 L246.34,270.04 L246.88,270.00 L247.43,269.96 L247.98,269.91 L248.53,269.85 L249.08,269.78 L249.63,269.73 L250.17,269.71 L250.72,269.72 L251.27,269.76 L251.82,269.82 L252.37,269.89 L252.91,269.95 L253.46,270.02 L254.01,270.07 L254.56,270.12 L255.11,270.17 L255.65,270.20 L256.20,270.23 L256.75,270.24 L257.30,270.25 L257.85,270.25 L258.40,270.25 L258.94,270.25 L259.49,270.26 L260.04,270.26 L260.59,270.26 L261.14,270.26 L261.68,270.26 L262.23,270.26 L262.78,270.25 L263.33,270.25 L263.88,270.26 L264.42,270.26 L264.97,270.26 L265.52,270.26 L266.07,270.25 L266.62,270.25 L267.17,270.25 L267.71,270.25 L268.26,270.25 L268.81,270.25 L269.36,270.26 L269.91,270.26 L270.45,270.27 L271.00,270.27 L271.55,270.27 L272.10,270.27 L272.65,270.27 L273.19,270.27 L273.74,270.26 L274.29,270.26 L274.84,270.27 L275.39,270.28 L275.94,270.29 L276.48,270.30 L277.03,270.30 L277.58,270.31 L278.13,270.30 L278.68,270.29 L279.22,270.29 L279.77,270.29 L280.32,270.29 L280.87,270.30 L281.42,270.31 L281.96,270.32 L282.51,270.32 L283.06,270.33 L283.61,270.33 L284.16,270.32 L284.71,270.30 L285.25,270.29 L285.80,270.27 L286.35,270.26 L286.90,270.24 L287.45,270.22 L287.99,270.21 L288.54,270.20 L289.09,270.19 L289.64,270.18 L290.19,270.15 L290.73,270.12 L291.28,270.07 L291.83,270.01 L292.38,269.94 L292.93,269.86 L293.48,269.79 L294.02,269.75 L294.57,269.77 L295.12,269.83 L295.67,269.91 L296.22,269.99 L296.76,270.07 L297.31,270.14 L297.86,270.20 L298.41,270.25 L298.96,270.30 L299.50,270.32 L300.05,270.34 L300.60,270.34 L301.15,270.34 L301.70,270.34 L302.25,270.34 L302.79,270.33 L303.34,270.33 L303.89,270.33 L304.44,270.32 L304.99,270.31 L305.53,270.30 L306.08,270.29 L306.63,270.28 L307.18,270.27 L307.73,270.27 L308.27,270.27 L308.82,270.27 L309.37,270.27 L309.92,270.27 L310.47,270.26 L311.02,270.26 L311.56,270.26 L312.11,270.26 L312.66,270.27 L313.21,270.28 L313.76,270.29 L314.30,270.30 L314.85,270.30 L315.40,270.30"/>
<path stroke="#f87c1c" stroke-width="2.1" d="M9.00,239.78 L9.55,239.77 L10.10,239.77 L10.64,239.76 L11.19,239.75 L11.74,239.75 L12.29,239.75 L12.84,239.76 L13.38,239.78 L13.93,239.80 L14.48,239.82 L15.03,239.83 L15.58,239.83 L16.13,239.82 L16.67,239.80 L17.22,239.78 L17.77,239.77 L18.32,239.76 L18.87,239.76 L19.41,239.77 L19.96,239.79 L20.51,239.80 L21.06,239.80 L21.61,239.80 L22.15,239.79 L22.70,239.78 L23.25,239.77 L23.80,239.76 L24.35,239.77 L24.90,239.77 L25.44,239.79 L25.99,239.80 L26.54,239.82 L27.09,239.82 L27.64,239.82 L28.18,239.81 L28.73,239.79 L29.28,239.77 L29.83,239.75 L30.38,239.74 L30.92,239.74 L31.47,239.74 L32.02,239.75 L32.57,239.76 L33.12,239.77 L33.67,239.77 L34.21,239.76 L34.76,239.74 L35.31,239.72 L35.86,239.71 L36.41,239.70 L36.95,239.70 L37.50,239.71 L38.05,239.72 L38.60,239.74 L39.15,239.75 L39.69,239.77 L40.24,239.79 L40.79,239.81 L41.34,239.84 L41.89,239.85 L42.44,239.86 L42.98,239.86 L43.53,239.86 L44.08,239.85 L44.63,239.83 L45.18,239.81 L45.72,239.80 L46.27,239.79 L46.82,239.78 L47.37,239.77 L47.92,239.77 L48.46,239.76 L49.01,239.76 L49.56,239.76 L50.11,239.77 L50.66,239.77 L51.21,239.77 L51.75,239.76 L52.30,239.75 L52.85,239.74 L53.40,239.73 L53.95,239.72 L54.49,239.72 L55.04,239.72 L55.59,239.73 L56.14,239.73 L56.69,239.74 L57.23,239.74 L57.78,239.75 L58.33,239.76 L58.88,239.76 L59.43,239.76 L59.98,239.76 L60.52,239.76 L61.07,239.75 L61.62,239.73 L62.17,239.72 L62.72,239.70 L63.26,239.70 L63.81,239.69 L64.36,239.69 L64.91,239.69 L65.46,239.68 L66.00,239.68 L66.55,239.68 L67.10,239.68 L67.65,239.68 L68.20,239.68 L68.75,239.68 L69.29,239.67 L69.84,239.65 L70.39,239.61 L70.94,239.57 L71.49,239.51 L72.03,239.46 L72.58,239.41 L73.13,239.37 L73.68,239.33 L74.23,239.31 L74.77,239.30 L75.32,239.31 L75.87,239.32 L76.42,239.31 L76.97,239.30 L77.52,239.27 L78.06,239.22 L78.61,239.15 L79.16,239.04 L79.71,238.88 L80.26,238.63 L80.80,238.25 L81.35,237.71 L81.90,237.06 L82.45,236.46 L83.00,236.26 L83.54,236.58 L84.09,237.14 L84.64,237.64 L85.19,237.97 L85.74,238.12 L86.29,238.14 L86.83,238.11 L87.38,238.09 L87.93,238.16 L88.48,238.32 L89.03,238.52 L89.57,238.69 L90.12,238.82 L90.67,238.90 L91.22,238.93 L91.77,238.92 L92.31,238.89 L92.86,238.85 L93.41,238.82 L93.96,238.80 L94.51,238.79 L95.06,238.82 L95.60,238.87 L96.15,238.93 L96.70,239.02 L97.25,239.11 L97.80,239.20 L98.34,239.28 L98.89,239.36 L99.44,239.43 L99.99,239.49 L100.54,239.54 L101.08,239.57 L101.63,239.60 L102.18,239.61 L102.73,239.62 L103.28,239.63 L103.83,239.64 L104.37,239.65 L104.92,239.66 L105.47,239.67 L106.02,239.68 L106.57,239.69 L107.11,239.69 L107.66,239.69 L108.21,239.69 L108.76,239.69 L109.31,239.69 L109.85,239.69 L110.40,239.69 L110.95,239.69 L111.50,239.68 L112.05,239.68 L112.59,239.68 L113.14,239.68 L113.69,239.68 L114.24,239.69 L114.79,239.70 L115.34,239.70 L115.88,239.70 L116.43,239.69 L116.98,239.68 L117.53,239.68 L118.08,239.67 L118.62,239.66 L119.17,239.64 L119.72,239.61 L120.27,239.58 L120.82,239.53 L121.36,239.48 L121.91,239.41 L122.46,239.33 L123.01,239.20 L123.56,239.03 L124.11,238.77 L124.65,238.38 L125.20,237.81 L125.75,237.09 L126.30,236.38 L126.85,236.10 L127.39,236.49 L127.94,237.25 L128.49,237.97 L129.04,238.51 L129.59,238.88 L130.13,239.12 L130.68,239.27 L131.23,239.38 L131.78,239.46 L132.33,239.52 L132.88,239.56 L133.42,239.58 L133.97,239.60 L134.52,239.60 L135.07,239.61 L135.62,239.61 L136.16,239.62 L136.71,239.62 L137.26,239.62 L137.81,239.62 L138.36,239.61 L138.90,239.60 L139.45,239.57 L140.00,239.54 L140.55,239.49 L141.10,239.45 L141.65,239.40 L142.19,239.34 L142.74,239.30 L143.29,239.27 L143.84,239.28 L144.39,239.30 L144.93,239.32 L145.48,239.34 L146.03,239.35 L146.58,239.34 L147.13,239.32 L147.67,239.27 L148.22,239.18 L148.77,239.05 L149.32,238.84 L149.87,238.51 L150.42,237.96 L150.96,237.12 L151.51,235.95 L152.06,234.64 L152.61,233.85 L153.16,234.25 L153.70,235.47 L154.25,236.72 L154.80,237.65 L155.35,238.27 L155.90,238.65 L156.44,238.87 L156.99,239.01 L157.54,239.10 L158.09,239.17 L158.64,239.22 L159.19,239.26 L159.73,239.29 L160.28,239.31 L160.83,239.32 L161.38,239.32 L161.93,239.31 L162.47,239.30 L163.02,239.28 L163.57,239.25 L164.12,239.22 L164.67,239.18 L165.21,239.13 L165.76,239.07 L166.31,238.98 L166.86,238.85 L167.41,238.65 L167.96,238.36 L168.50,237.96 L169.05,237.48 L169.60,237.09 L170.15,237.03 L170.70,237.33 L171.24,237.75 L171.79,238.12 L172.34,238.37 L172.89,238.53 L173.44,238.62 L173.98,238.67 L174.53,238.68 L175.08,238.67 L175.63,238.64 L176.18,238.59 L176.73,238.52 L177.27,238.44 L177.82,238.39 L178.37,238.39 L178.92,238.42 L179.47,238.46 L180.01,238.50 L180.56,238.51 L181.11,238.48 L181.66,238.41 L182.21,238.28 L182.75,238.03 L183.30,237.55 L183.85,236.59 L184.40,234.93 L184.95,233.02 L185.50,232.91 L186.04,234.73 L186.59,236.36 L187.14,237.26 L187.69,237.59 L188.24,237.52 L188.78,237.04 L189.33,236.22 L189.88,235.76 L190.43,236.45 L190.98,237.41 L191.52,238.06 L192.07,238.41 L192.62,238.59 L193.17,238.68 L193.72,238.73 L194.27,238.75 L194.81,238.74 L195.36,238.68 L195.91,238.54 L196.46,238.26 L197.01,237.69 L197.55,236.68 L198.10,235.33 L198.65,234.68 L199.20,235.64 L199.75,236.99 L200.29,237.93 L200.84,238.46 L201.39,238.73 L201.94,238.88 L202.49,238.95 L203.04,238.99 L203.58,238.98 L204.13,238.92 L204.68,238.76 L205.23,238.40 L205.78,237.72 L206.32,236.74 L206.87,236.14 L207.42,236.75 L207.97,237.81 L208.52,238.58 L209.06,239.03 L209.61,239.27 L210.16,239.41 L210.71,239.49 L211.26,239.53 L211.81,239.55 L212.35,239.54 L212.90,239.51 L213.45,239.45 L214.00,239.38 L214.55,239.29 L215.09,239.19 L215.64,239.13 L216.19,239.14 L216.74,239.22 L217.29,239.32 L217.83,239.42 L218.38,239.50 L218.93,239.55 L219.48,239.60 L220.03,239.63 L220.57,239.66 L221.12,239.68 L221.67,239.69 L222.22,239.69 L222.77,239.68 L223.32,239.66 L223.86,239.63 L224.41,239.60 L224.96,239.56 L225.51,239.53 L226.06,239.49 L226.60,239.47 L227.15,239.45 L227.70,239.46 L228.25,239.48 L228.80,239.52 L229.34,239.57 L229.89,239.61 L230.44,239.66 L230.99,239.69 L231.54,239.72 L232.09,239.74 L232.63,239.75 L233.18,239.75 L233.73,239.75 L234.28,239.75 L234.83,239.75 L235.37,239.75 L235.92,239.75 L236.47,239.75 L237.02,239.75 L237.57,239.75 L238.11,239.75 L238.66,239.75 L239.21,239.75 L239.76,239.74 L240.31,239.74 L240.86,239.73 L241.40,239.72 L241.95,239.72 L242.50,239.71 L243.05,239.72 L243.60,239.72 L244.14,239.73 L244.69,239.73 L245.24,239.72 L245.79,239.70 L246.34,239.68 L246.88,239.64 L247.43,239.61 L247.98,239.57 L248.53,239.53 L249.08,239.49 L249.63,239.46 L250.17,239.44 L250.72,239.44 L251.27,239.45 L251.82,239.48 L252.37,239.51 L252.91,239.56 L253.46,239.60 L254.01,239.65 L254.56,239.69 L255.11,239.73 L255.65,239.75 L256.20,239.77 L256.75,239.78 L257.30,239.78 L257.85,239.78 L258.40,239.78 L258.94,239.79 L259.49,239.79 L260.04,239.80 L260.59,239.81 L261.14,239.81 L261.68,239.81 L262.23,239.81 L262.78,239.80 L263.33,239.80 L263.88,239.79 L264.42,239.78 L264.97,239.78 L265.52,239.79 L266.07,239.79 L266.62,239.80 L267.17,239.81 L267.71,239.81 L268.26,239.81 L268.81,239.81 L269.36,239.82 L269.91,239.82 L270.45,239.81 L271.00,239.81 L271.55,239.80 L272.10,239.79 L272.65,239.79 L273.19,239.78 L273.74,239.79 L274.29,239.79 L274.84,239.80 L275.39,239.80 L275.94,239.80 L276.48,239.79 L277.03,239.78 L277.58,239.76 L278.13,239.74 L278.68,239.72 L279.22,239.71 L279.77,239.71 L280.32,239.72 L280.87,239.73 L281.42,239.74 L281.96,239.74 L282.51,239.75 L283.06,239.75 L283.61,239.75 L284.16,239.75 L284.71,239.76 L285.25,239.77 L285.80,239.79 L286.35,239.81 L286.90,239.82 L287.45,239.83 L287.99,239.82 L288.54,239.80 L289.09,239.77 L289.64,239.73 L290.19,239.69 L290.73,239.66 L291.28,239.63 L291.83,239.60 L292.38,239.57 L292.93,239.54 L293.48,239.52 L294.02,239.50 L294.57,239.51 L295.12,239.54 L295.67,239.57 L296.22,239.62 L296.76,239.65 L297.31,239.69 L297.86,239.72 L298.41,239.74 L298.96,239.76 L299.50,239.78 L300.05,239.78 L300.60,239.78 L301.15,239.78 L301.70,239.77 L302.25,239.76 L302.79,239.75 L303.34,239.74 L303.89,239.74 L304.44,239.74 L304.99,239.75 L305.53,239.76 L306.08,239.76 L306.63,239.76 L307.18,239.75 L307.73,239.75 L308.27,239.75 L308.82,239.75 L309.37,239.75 L309.92,239.75 L310.47,239.75 L311.02,239.75 L311.56,239.74 L312.11,239.74 L312.66,239.73 L313.21,239.73 L313.76,239.75 L314.30,239.77 L314.85,239.79 L315.40,239.81"/>
<path stroke="#ffc81e" stroke-width="2.1" d="M9.00,212.03 L9.55,212.03 L10.10,212.03 L10.64,212.02 L11.19,212.01 L11.74,212.00 L12.29,211.99 L12.84,211.99 L13.38,211.99 L13.93,211.99 L14.48,212.00 L15.03,212.00 L15.58,211.99 L16.13,211.99 L16.67,211.98 L17.22,211.97 L17.77,211.96 L18.32,211.95 L18.87,211.95 L19.41,211.95 L19.96,211.96 L20.51,211.96 L21.06,211.95 L21.61,211.95 L22.15,211.94 L22.70,211.94 L23.25,211.94 L23.80,211.94 L24.35,211.95 L24.90,211.97 L25.44,211.99 L25.99,212.00 L26.54,212.00 L27.09,211.99 L27.64,211.98 L28.18,211.97 L28.73,211.95 L29.28,211.94 L29.83,211.94 L30.38,211.95 L30.92,211.96 L31.47,211.97 L32.02,211.98 L32.57,211.99 L33.12,212.00 L33.67,212.01 L34.21,212.02 L34.76,212.02 L35.31,212.02 L35.86,212.02 L36.41,212.02 L36.95,212.02 L37.50,212.01 L38.05,212.01 L38.60,212.01 L39.15,212.01 L39.69,212.01 L40.24,212.00 L40.79,211.98 L41.34,211.96 L41.89,211.94 L42.44,211.92 L42.98,211.92 L43.53,211.93 L44.08,211.94 L44.63,211.96 L45.18,211.98 L45.72,211.99 L46.27,212.01 L46.82,212.02 L47.37,212.02 L47.92,212.02 L48.46,212.02 L49.01,212.02 L49.56,212.02 L50.11,212.01 L50.66,212.00 L51.21,211.99 L51.75,211.99 L52.30,211.99 L52.85,211.98 L53.40,211.98 L53.95,211.98 L54.49,211.97 L55.04,211.97 L55.59,211.96 L56.14,211.96 L56.69,211.96 L57.23,211.96 L57.78,211.98 L58.33,212.00 L58.88,212.01 L59.43,212.03 L59.98,212.03 L60.52,212.03 L61.07,212.03 L61.62,212.01 L62.17,212.00 L62.72,211.99 L63.26,211.99 L63.81,211.99 L64.36,212.01 L64.91,212.04 L65.46,212.07 L66.00,212.10 L66.55,212.11 L67.10,212.12 L67.65,212.12 L68.20,212.11 L68.75,212.09 L69.29,212.06 L69.84,212.03 L70.39,211.99 L70.94,211.95 L71.49,211.91 L72.03,211.88 L72.58,211.84 L73.13,211.82 L73.68,211.81 L74.23,211.81 L74.77,211.83 L75.32,211.85 L75.87,211.88 L76.42,211.91 L76.97,211.94 L77.52,211.97 L78.06,211.98 L78.61,211.98 L79.16,211.97 L79.71,211.95 L80.26,211.92 L80.80,211.88 L81.35,211.82 L81.90,211.76 L82.45,211.71 L83.00,211.69 L83.54,211.72 L84.09,211.77 L84.64,211.82 L85.19,211.85 L85.74,211.87 L86.29,211.87 L86.83,211.87 L87.38,211.87 L87.93,211.87 L88.48,211.89 L89.03,211.91 L89.57,211.92 L90.12,211.93 L90.67,211.93 L91.22,211.93 L91.77,211.92 L92.31,211.92 L92.86,211.92 L93.41,211.92 L93.96,211.93 L94.51,211.94 L95.06,211.94 L95.60,211.95 L96.15,211.96 L96.70,211.97 L97.25,211.97 L97.80,211.98 L98.34,211.99 L98.89,212.00 L99.44,212.01 L99.99,212.01 L100.54,212.01 L101.08,212.00 L101.63,211.99 L102.18,211.98 L102.73,211.97 L103.28,211.96 L103.83,211.96 L104.37,211.95 L104.92,211.95 L105.47,211.96 L106.02,211.97 L106.57,211.98 L107.11,211.99 L107.66,212.00 L108.21,212.02 L108.76,212.02 L109.31,212.02 L109.85,212.01 L110.40,212.00 L110.95,211.99 L111.50,211.98 L112.05,211.98 L112.59,211.99 L113.14,212.00 L113.69,212.02 L114.24,212.02 L114.79,212.03 L115.34,212.03 L115.88,212.03 L116.43,212.03 L116.98,212.03 L117.53,212.03 L118.08,212.02 L118.62,212.02 L119.17,212.01 L119.72,212.00 L120.27,212.00 L120.82,211.98 L121.36,211.98 L121.91,211.97 L122.46,211.96 L123.01,211.96 L123.56,211.95 L124.11,211.93 L124.65,211.90 L125.20,211.86 L125.75,211.82 L126.30,211.77 L126.85,211.76 L127.39,211.80 L127.94,211.86 L128.49,211.93 L129.04,211.97 L129.59,212.00 L130.13,212.02 L130.68,212.03 L131.23,212.04 L131.78,212.04 L132.33,212.05 L132.88,212.04 L133.42,212.03 L133.97,212.01 L134.52,211.99 L135.07,211.96 L135.62,211.94 L136.16,211.92 L136.71,211.91 L137.26,211.91 L137.81,211.91 L138.36,211.92 L138.90,211.94 L139.45,211.95 L140.00,211.96 L140.55,211.96 L141.10,211.96 L141.65,211.96 L142.19,211.95 L142.74,211.94 L143.29,211.93 L143.84,211.92 L144.39,211.92 L144.93,211.92 L145.48,211.93 L146.03,211.94 L146.58,211.95 L147.13,211.96 L147.67,211.96 L148.22,211.96 L148.77,211.95 L149.32,211.94 L149.87,211.92 L150.42,211.88 L150.96,211.82 L151.51,211.74 L152.06,211.64 L152.61,211.58 L153.16,211.61 L153.70,211.71 L154.25,211.81 L154.80,211.89 L155.35,211.95 L155.90,211.99 L156.44,212.01 L156.99,212.02 L157.54,212.02 L158.09,212.02 L158.64,212.00 L159.19,211.99 L159.73,211.98 L160.28,211.96 L160.83,211.94 L161.38,211.92 L161.93,211.91 L162.47,211.90 L163.02,211.89 L163.57,211.89 L164.12,211.89 L164.67,211.90 L165.21,211.91 L165.76,211.92 L166.31,211.92 L166.86,211.90 L167.41,211.88 L167.96,211.84 L168.50,211.80 L169.05,211.75 L169.60,211.72 L170.15,211.72 L170.70,211.75 L171.24,211.80 L171.79,211.85 L172.34,211.89 L172.89,211.93 L173.44,211.96 L173.98,211.98 L174.53,211.99 L175.08,211.99 L175.63,211.98 L176.18,211.97 L176.73,211.95 L177.27,211.93 L177.82,211.90 L178.37,211.89 L178.92,211.88 L179.47,211.87 L180.01,211.87 L180.56,211.87 L181.11,211.87 L181.66,211.88 L182.21,211.88 L182.75,211.87 L183.30,211.84 L183.85,211.78 L184.40,211.66 L184.95,211.52 L185.50,211.52 L186.04,211.66 L186.59,211.78 L187.14,211.84 L187.69,211.85 L188.24,211.83 L188.78,211.77 L189.33,211.69 L189.88,211.64 L190.43,211.68 L190.98,211.75 L191.52,211.81 L192.07,211.85 L192.62,211.88 L193.17,211.90 L193.72,211.92 L194.27,211.93 L194.81,211.93 L195.36,211.92 L195.91,211.90 L196.46,211.87 L197.01,211.82 L197.55,211.73 L198.10,211.63 L198.65,211.59 L199.20,211.67 L199.75,211.79 L200.29,211.87 L200.84,211.92 L201.39,211.93 L201.94,211.94 L202.49,211.93 L203.04,211.93 L203.58,211.92 L204.13,211.92 L204.68,211.90 L205.23,211.87 L205.78,211.80 L206.32,211.71 L206.87,211.65 L207.42,211.69 L207.97,211.77 L208.52,211.83 L209.06,211.88 L209.61,211.92 L210.16,211.94 L210.71,211.96 L211.26,211.97 L211.81,211.98 L212.35,211.97 L212.90,211.96 L213.45,211.95 L214.00,211.94 L214.55,211.93 L215.09,211.92 L215.64,211.91 L216.19,211.91 L216.74,211.92 L217.29,211.93 L217.83,211.95 L218.38,211.96 L218.93,211.98 L219.48,212.00 L220.03,212.01 L220.57,212.03 L221.12,212.04 L221.67,212.05 L222.22,212.06 L222.77,212.07 L223.32,212.06 L223.86,212.05 L224.41,212.03 L224.96,212.01 L225.51,211.99 L226.06,211.97 L226.60,211.96 L227.15,211.95 L227.70,211.95 L228.25,211.95 L228.80,211.95 L229.34,211.95 L229.89,211.95 L230.44,211.95 L230.99,211.95 L231.54,211.95 L232.09,211.96 L232.63,211.97 L233.18,211.98 L233.73,211.99 L234.28,212.00 L234.83,212.01 L235.37,212.01 L235.92,212.00 L236.47,212.00 L237.02,212.00 L237.57,212.00 L238.11,212.01 L238.66,212.01 L239.21,212.01 L239.76,212.01 L240.31,212.00 L240.86,211.99 L241.40,211.98 L241.95,211.97 L242.50,211.96 L243.05,211.96 L243.60,211.96 L244.14,211.96 L244.69,211.96 L245.24,211.97 L245.79,211.98 L246.34,211.99 L246.88,212.01 L247.43,212.02 L247.98,212.03 L248.53,212.03 L249.08,212.03 L249.63,212.02 L250.17,212.01 L250.72,212.00 L251.27,211.99 L251.82,211.99 L252.37,212.00 L252.91,212.00 L253.46,212.01 L254.01,212.01 L254.56,212.01 L255.11,212.00 L255.65,212.00 L256.20,211.99 L256.75,211.98 L257.30,211.97 L257.85,211.96 L258.40,211.96 L258.94,211.97 L259.49,211.97 L260.04,211.97 L260.59,211.97 L261.14,211.97 L261.68,211.97 L262.23,211.97 L262.78,211.98 L263.33,211.98 L263.88,211.99 L264.42,212.01 L264.97,212.03 L265.52,212.05 L266.07,212.06 L266.62,212.08 L267.17,212.08 L267.71,212.08 L268.26,212.08 L268.81,212.06 L269.36,212.04 L269.91,212.01 L270.45,211.98 L271.00,211.96 L271.55,211.94 L272.10,211.94 L272.65,211.95 L273.19,211.96 L273.74,211.98 L274.29,212.00 L274.84,212.01 L275.39,212.02 L275.94,212.02 L276.48,212.01 L277.03,212.00 L277.58,212.00 L278.13,212.00 L278.68,212.00 L279.22,212.01 L279.77,212.02 L280.32,212.03 L280.87,212.03 L281.42,212.04 L281.96,212.04 L282.51,212.03 L283.06,212.03 L283.61,212.03 L284.16,212.03 L284.71,212.02 L285.25,212.02 L285.80,212.02 L286.35,212.01 L286.90,212.01 L287.45,212.00 L287.99,211.98 L288.54,211.97 L289.09,211.95 L289.64,211.93 L290.19,211.92 L290.73,211.91 L291.28,211.90 L291.83,211.90 L292.38,211.91 L292.93,211.92 L293.48,211.93 L294.02,211.94 L294.57,211.95 L295.12,211.96 L295.67,211.96 L296.22,211.96 L296.76,211.96 L297.31,211.96 L297.86,211.97 L298.41,211.98 L298.96,212.00 L299.50,212.02 L300.05,212.04 L300.60,212.05 L301.15,212.05 L301.70,212.05 L302.25,212.04 L302.79,212.04 L303.34,212.03 L303.89,212.03 L304.44,212.02 L304.99,212.02 L305.53,212.01 L306.08,212.00 L306.63,211.99 L307.18,211.98 L307.73,211.97 L308.27,211.97 L308.82,211.97 L309.37,211.96 L309.92,211.96 L310.47,211.97 L311.02,211.98 L311.56,211.99 L312.11,211.99 L312.66,212.00 L313.21,212.00 L313.76,211.99 L314.30,211.98 L314.85,211.97 L315.40,211.96"/>
<path stroke="#0c0ce6" stroke-width="1.8" d="M383.80,362.91 L384.32,362.92 L384.85,362.92 L385.37,362.92 L385.90,362.91 L386.42,362.91 L386.94,362.92 L387.47,362.92 L387.99,362.93 L388.52,362.94 L389.04,362.94 L389.57,362.94 L390.09,362.94 L390.61,362.94 L391.14,362.94 L391.66,362.94 L392.19,362.95 L392.71,362.95 L393.23,362.95 L393.76,362.94 L394.28,362.92 L394.81,362.89 L395.33,362.87 L395.86,362.84 L396.38,362.81 L396.90,362.80 L397.43,362.79 L397.95,362.80 L398.48,362.82 L399.00,362.84 L399.52,362.85 L400.05,362.86 L400.57,362.87 L401.10,362.86 L401.62,362.86 L402.15,362.86 L402.67,362.86 L403.19,362.86 L403.72,362.87 L404.24,362.87 L404.77,362.87 L405.29,362.86 L405.81,362.85 L406.34,362.83 L406.86,362.81 L407.39,362.80 L407.91,362.80 L408.44,362.82 L408.96,362.83 L409.48,362.85 L410.01,362.87 L410.53,362.88 L411.06,362.89 L411.58,362.89 L412.10,362.88 L412.63,362.86 L413.15,362.84 L413.68,362.82 L414.20,362.80 L414.72,362.78 L415.25,362.77 L415.77,362.76 L416.30,362.76 L416.82,362.76 L417.35,362.76 L417.87,362.77 L418.39,362.78 L418.92,362.80 L419.44,362.82 L419.97,362.84 L420.49,362.86 L421.01,362.88 L421.54,362.90 L422.06,362.90 L422.59,362.90 L423.11,362.88 L423.64,362.86 L424.16,362.83 L424.68,362.80 L425.21,362.77 L425.73,362.75 L426.26,362.74 L426.78,362.74 L427.30,362.75 L427.83,362.75 L428.35,362.76 L428.88,362.76 L429.40,362.76 L429.93,362.74 L430.45,362.72 L430.97,362.69 L431.50,362.66 L432.02,362.64 L432.55,362.62 L433.07,362.60 L433.59,362.59 L434.12,362.58 L434.64,362.56 L435.17,362.55 L435.69,362.53 L436.22,362.52 L436.74,362.50 L437.26,362.48 L437.79,362.46 L438.31,362.43 L438.84,362.38 L439.36,362.33 L439.88,362.28 L440.41,362.21 L440.93,362.13 L441.46,362.03 L441.98,361.91 L442.50,361.75 L443.03,361.56 L443.55,361.34 L444.08,361.11 L444.60,360.87 L445.13,360.67 L445.65,360.53 L446.17,360.48 L446.70,360.50 L447.22,360.55 L447.75,360.61 L448.27,360.63 L448.79,360.58 L449.32,360.44 L449.84,360.17 L450.37,359.71 L450.89,358.95 L451.42,357.74 L451.94,355.92 L452.46,353.43 L452.99,350.52 L453.51,348.22 L454.04,347.97 L454.56,349.80 L455.08,352.22 L455.61,354.15 L456.13,355.31 L456.66,355.77 L457.18,355.75 L457.71,355.59 L458.23,355.61 L458.75,356.02 L459.28,356.73 L459.80,357.53 L460.33,358.25 L460.85,358.81 L461.37,359.19 L461.90,359.39 L462.42,359.46 L462.95,359.42 L463.47,359.31 L463.99,359.16 L464.52,359.03 L465.04,358.96 L465.57,358.98 L466.09,359.11 L466.62,359.34 L467.14,359.64 L467.66,359.96 L468.19,360.30 L468.71,360.61 L469.24,360.90 L469.76,361.15 L470.28,361.36 L470.81,361.54 L471.33,361.70 L471.86,361.82 L472.38,361.92 L472.91,362.01 L473.43,362.08 L473.95,362.15 L474.48,362.20 L475.00,362.25 L475.53,362.30 L476.05,362.33 L476.57,362.35 L477.10,362.36 L477.62,362.36 L478.15,362.34 L478.67,362.33 L479.20,362.31 L479.72,362.30 L480.24,362.29 L480.77,362.29 L481.29,362.29 L481.82,362.31 L482.34,362.32 L482.86,362.34 L483.39,362.35 L483.91,362.35 L484.44,362.34 L484.96,362.32 L485.49,362.28 L486.01,362.24 L486.53,362.20 L487.06,362.16 L487.58,362.11 L488.11,362.06 L488.63,362.00 L489.15,361.92 L489.68,361.82 L490.20,361.68 L490.73,361.49 L491.25,361.23 L491.77,360.86 L492.30,360.30 L492.82,359.43 L493.35,358.06 L493.87,356.02 L494.40,353.21 L494.92,349.97 L495.44,347.61 L495.97,347.88 L496.49,350.54 L497.02,353.76 L497.54,356.43 L498.06,358.33 L498.59,359.59 L499.11,360.38 L499.64,360.88 L500.16,361.21 L500.69,361.43 L501.21,361.58 L501.73,361.68 L502.26,361.75 L502.78,361.80 L503.31,361.83 L503.83,361.86 L504.35,361.88 L504.88,361.90 L505.40,361.92 L505.93,361.93 L506.45,361.93 L506.98,361.91 L507.50,361.85 L508.02,361.77 L508.55,361.64 L509.07,361.47 L509.60,361.28 L510.12,361.06 L510.64,360.87 L511.17,360.73 L511.69,360.68 L512.22,360.71 L512.74,360.78 L513.27,360.84 L513.79,360.87 L514.31,360.85 L514.84,360.76 L515.36,360.59 L515.89,360.31 L516.41,359.87 L516.93,359.17 L517.46,358.02 L517.98,356.14 L518.51,353.18 L519.03,348.89 L519.55,343.60 L520.08,339.33 L520.60,339.37 L521.13,343.67 L521.65,348.93 L522.18,353.19 L522.70,356.12 L523.22,357.97 L523.75,359.10 L524.27,359.79 L524.80,360.23 L525.32,360.51 L525.84,360.71 L526.37,360.84 L526.89,360.94 L527.42,361.00 L527.94,361.03 L528.47,361.03 L528.99,361.00 L529.51,360.95 L530.04,360.87 L530.56,360.76 L531.09,360.63 L531.61,360.48 L532.13,360.28 L532.66,360.03 L533.18,359.69 L533.71,359.19 L534.23,358.44 L534.76,357.32 L535.28,355.75 L535.80,353.81 L536.33,352.03 L536.85,351.41 L537.38,352.39 L537.90,354.13 L538.42,355.75 L538.95,356.95 L539.47,357.73 L540.00,358.18 L540.52,358.39 L541.05,358.43 L541.57,358.34 L542.09,358.14 L542.62,357.86 L543.14,357.51 L543.67,357.17 L544.19,356.92 L544.71,356.87 L545.24,357.00 L545.76,357.21 L546.29,357.39 L546.81,357.47 L547.33,357.42 L547.86,357.21 L548.38,356.78 L548.91,355.97 L549.43,354.35 L549.96,351.10 L550.48,345.33 L551.00,338.03 L551.53,336.34 L552.05,342.68 L552.58,349.07 L553.10,352.74 L553.62,354.21 L554.15,354.08 L554.67,352.43 L555.20,349.39 L555.72,347.24 L556.25,349.40 L556.77,353.07 L557.29,355.64 L557.82,357.04 L558.34,357.77 L558.87,358.16 L559.39,358.38 L559.91,358.47 L560.44,358.43 L560.96,358.24 L561.49,357.78 L562.01,356.78 L562.54,354.74 L563.06,351.07 L563.58,346.04 L564.11,343.33 L564.63,346.69 L565.16,351.84 L565.68,355.50 L566.20,357.56 L566.73,358.63 L567.25,359.18 L567.78,359.47 L568.30,359.58 L568.83,359.54 L569.35,359.29 L569.87,358.64 L570.40,357.23 L570.92,354.59 L571.45,350.81 L571.97,348.44 L572.49,350.74 L573.02,354.73 L573.54,357.65 L574.07,359.31 L574.59,360.18 L575.11,360.65 L575.64,360.92 L576.16,361.08 L576.69,361.17 L577.21,361.20 L577.74,361.17 L578.26,361.05 L578.78,360.84 L579.31,360.54 L579.83,360.21 L580.36,360.00 L580.88,360.08 L581.40,360.42 L581.93,360.85 L582.45,361.22 L582.98,361.50 L583.50,361.70 L584.03,361.82 L584.55,361.89 L585.07,361.92 L585.60,361.94 L586.12,361.94 L586.65,361.94 L587.17,361.93 L587.69,361.91 L588.22,361.87 L588.74,361.81 L589.27,361.72 L589.79,361.61 L590.32,361.49 L590.84,361.39 L591.36,361.33 L591.89,361.34 L592.41,361.42 L592.94,361.54 L593.46,361.68 L593.98,361.81 L594.51,361.92 L595.03,362.01 L595.56,362.09 L596.08,362.15 L596.61,362.20 L597.13,362.23 L597.65,362.25 L598.18,362.27 L598.70,362.28 L599.23,362.30 L599.75,362.31 L600.27,362.33 L600.80,362.34 L601.32,362.34 L601.85,362.35 L602.37,362.35 L602.89,362.34 L603.42,362.33 L603.94,362.32 L604.47,362.32 L604.99,362.32 L605.52,362.32 L606.04,362.32 L606.56,362.32 L607.09,362.30 L607.61,362.27 L608.14,362.23 L608.66,362.17 L609.18,362.10 L609.71,362.01 L610.23,361.92 L610.76,361.80 L611.28,361.68 L611.81,361.55 L612.33,361.44 L612.85,361.36 L613.38,361.34 L613.90,361.40 L614.43,361.51 L614.95,361.65 L615.47,361.79 L616.00,361.92 L616.52,362.02 L617.05,362.10 L617.57,362.17 L618.10,362.21 L618.62,362.24 L619.14,362.26 L619.67,362.27 L620.19,362.27 L620.72,362.28 L621.24,362.30 L621.76,362.31 L622.29,362.33 L622.81,362.34 L623.34,362.35 L623.86,362.36 L624.38,362.37 L624.91,362.37 L625.43,362.38 L625.96,362.39 L626.48,362.40 L627.01,362.42 L627.53,362.42 L628.05,362.42 L628.58,362.41 L629.10,362.39 L629.63,362.37 L630.15,362.36 L630.67,362.35 L631.20,362.35 L631.72,362.36 L632.25,362.36 L632.77,362.36 L633.30,362.36 L633.82,362.36 L634.34,362.37 L634.87,362.37 L635.39,362.39 L635.92,362.40 L636.44,362.40 L636.96,362.41 L637.49,362.40 L638.01,362.39 L638.54,362.38 L639.06,362.37 L639.59,362.36 L640.11,362.36 L640.63,362.37 L641.16,362.38 L641.68,362.38 L642.21,362.38 L642.73,362.38 L643.25,362.37 L643.78,362.36 L644.30,362.35 L644.83,362.34 L645.35,362.33 L645.88,362.32 L646.40,362.32 L646.92,362.32 L647.45,362.33 L647.97,362.33 L648.50,362.33 L649.02,362.32 L649.54,362.31 L650.07,362.30 L650.59,362.27 L651.12,362.24 L651.64,362.18 L652.16,362.11 L652.69,362.01 L653.21,361.88 L653.74,361.73 L654.26,361.57 L654.79,361.46 L655.31,361.43 L655.83,361.52 L656.36,361.68 L656.88,361.85 L657.41,362.01 L657.93,362.13 L658.45,362.20 L658.98,362.25 L659.50,362.27 L660.03,362.28 L660.55,362.28 L661.08,362.29 L661.60,362.30 L662.12,362.32 L662.65,362.34 L663.17,362.35 L663.70,362.35 L664.22,362.35 L664.74,362.34 L665.27,362.33 L665.79,362.31 L666.32,362.29 L666.84,362.28 L667.37,362.27 L667.89,362.27 L668.41,362.27 L668.94,362.27 L669.46,362.28 L669.99,362.29 L670.51,362.30 L671.03,362.31 L671.56,362.31 L672.08,362.32 L672.61,362.32 L673.13,362.32 L673.66,362.33 L674.18,362.33 L674.70,362.33 L675.23,362.32 L675.75,362.32 L676.28,362.32 L676.80,362.32"/>
<path stroke="#f0143c" stroke-width="1.8" d="M383.80,334.07 L384.32,334.07 L384.85,334.07 L385.37,334.06 L385.90,334.03 L386.42,334.01 L386.94,333.97 L387.47,333.95 L387.99,333.93 L388.52,333.92 L389.04,333.93 L389.57,333.93 L390.09,333.94 L390.61,333.94 L391.14,333.94 L391.66,333.93 L392.19,333.92 L392.71,333.91 L393.23,333.90 L393.76,333.90 L394.28,333.89 L394.81,333.90 L395.33,333.90 L395.86,333.91 L396.38,333.92 L396.90,333.93 L397.43,333.95 L397.95,333.95 L398.48,333.96 L399.00,333.96 L399.52,333.95 L400.05,333.93 L400.57,333.92 L401.10,333.91 L401.62,333.89 L402.15,333.88 L402.67,333.87 L403.19,333.86 L403.72,333.86 L404.24,333.86 L404.77,333.86 L405.29,333.87 L405.81,333.88 L406.34,333.89 L406.86,333.89 L407.39,333.89 L407.91,333.88 L408.44,333.88 L408.96,333.88 L409.48,333.89 L410.01,333.89 L410.53,333.88 L411.06,333.86 L411.58,333.84 L412.10,333.81 L412.63,333.78 L413.15,333.77 L413.68,333.77 L414.20,333.79 L414.72,333.81 L415.25,333.84 L415.77,333.86 L416.30,333.87 L416.82,333.86 L417.35,333.84 L417.87,333.82 L418.39,333.81 L418.92,333.81 L419.44,333.82 L419.97,333.83 L420.49,333.83 L421.01,333.83 L421.54,333.82 L422.06,333.81 L422.59,333.80 L423.11,333.79 L423.64,333.80 L424.16,333.80 L424.68,333.81 L425.21,333.82 L425.73,333.81 L426.26,333.80 L426.78,333.79 L427.30,333.78 L427.83,333.78 L428.35,333.77 L428.88,333.78 L429.40,333.78 L429.93,333.79 L430.45,333.79 L430.97,333.79 L431.50,333.79 L432.02,333.78 L432.55,333.77 L433.07,333.76 L433.59,333.75 L434.12,333.74 L434.64,333.73 L435.17,333.71 L435.69,333.70 L436.22,333.68 L436.74,333.66 L437.26,333.64 L437.79,333.61 L438.31,333.57 L438.84,333.53 L439.36,333.48 L439.88,333.42 L440.41,333.34 L440.93,333.25 L441.46,333.13 L441.98,333.00 L442.50,332.83 L443.03,332.65 L443.55,332.44 L444.08,332.22 L444.60,332.00 L445.13,331.81 L445.65,331.69 L446.17,331.63 L446.70,331.64 L447.22,331.69 L447.75,331.73 L448.27,331.75 L448.79,331.70 L449.32,331.57 L449.84,331.32 L450.37,330.87 L450.89,330.12 L451.42,328.93 L451.94,327.14 L452.46,324.69 L452.99,321.85 L453.51,319.60 L454.04,319.37 L454.56,321.17 L455.08,323.55 L455.61,325.47 L456.13,326.63 L456.66,327.10 L457.18,327.10 L457.71,326.94 L458.23,326.96 L458.75,327.33 L459.28,328.00 L459.80,328.76 L460.33,329.43 L460.85,329.96 L461.37,330.32 L461.90,330.53 L462.42,330.62 L462.95,330.61 L463.47,330.53 L463.99,330.42 L464.52,330.31 L465.04,330.26 L465.57,330.29 L466.09,330.42 L466.62,330.63 L467.14,330.90 L467.66,331.20 L468.19,331.50 L468.71,331.78 L469.24,332.03 L469.76,332.26 L470.28,332.45 L470.81,332.62 L471.33,332.76 L471.86,332.88 L472.38,332.98 L472.91,333.06 L473.43,333.13 L473.95,333.19 L474.48,333.23 L475.00,333.26 L475.53,333.27 L476.05,333.28 L476.57,333.29 L477.10,333.30 L477.62,333.31 L478.15,333.34 L478.67,333.36 L479.20,333.39 L479.72,333.41 L480.24,333.41 L480.77,333.41 L481.29,333.41 L481.82,333.40 L482.34,333.38 L482.86,333.37 L483.39,333.35 L483.91,333.33 L484.44,333.31 L484.96,333.29 L485.49,333.28 L486.01,333.26 L486.53,333.24 L487.06,333.21 L487.58,333.18 L488.11,333.13 L488.63,333.06 L489.15,332.97 L489.68,332.85 L490.20,332.70 L490.73,332.52 L491.25,332.28 L491.77,331.94 L492.30,331.42 L492.82,330.59 L493.35,329.28 L493.87,327.31 L494.40,324.58 L494.92,321.44 L495.44,319.14 L495.97,319.40 L496.49,321.97 L497.02,325.08 L497.54,327.66 L498.06,329.49 L498.59,330.69 L499.11,331.46 L499.64,331.94 L500.16,332.26 L500.69,332.47 L501.21,332.63 L501.73,332.73 L502.26,332.82 L502.78,332.87 L503.31,332.92 L503.83,332.95 L504.35,332.99 L504.88,333.01 L505.40,333.03 L505.93,333.03 L506.45,333.02 L506.98,332.98 L507.50,332.92 L508.02,332.83 L508.55,332.70 L509.07,332.55 L509.60,332.36 L510.12,332.16 L510.64,331.98 L511.17,331.86 L511.69,331.83 L512.22,331.87 L512.74,331.94 L513.27,332.01 L513.79,332.04 L514.31,332.00 L514.84,331.91 L515.36,331.73 L515.89,331.45 L516.41,331.02 L516.93,330.34 L517.46,329.22 L517.98,327.40 L518.51,324.51 L519.03,320.34 L519.55,315.21 L520.08,311.07 L520.60,311.10 L521.13,315.27 L521.65,320.38 L522.18,324.51 L522.70,327.35 L523.22,329.15 L523.75,330.24 L524.27,330.90 L524.80,331.33 L525.32,331.61 L525.84,331.81 L526.37,331.94 L526.89,332.02 L527.42,332.08 L527.94,332.10 L528.47,332.11 L528.99,332.11 L529.51,332.08 L530.04,332.04 L530.56,331.97 L531.09,331.88 L531.61,331.74 L532.13,331.56 L532.66,331.31 L533.18,330.96 L533.71,330.45 L534.23,329.69 L534.76,328.57 L535.28,327.03 L535.80,325.14 L536.33,323.41 L536.85,322.82 L537.38,323.78 L537.90,325.47 L538.42,327.04 L538.95,328.20 L539.47,328.94 L540.00,329.35 L540.52,329.54 L541.05,329.57 L541.57,329.48 L542.09,329.29 L542.62,329.02 L543.14,328.68 L543.67,328.33 L544.19,328.08 L544.71,328.01 L545.24,328.12 L545.76,328.30 L546.29,328.46 L546.81,328.53 L547.33,328.50 L547.86,328.32 L548.38,327.92 L548.91,327.16 L549.43,325.60 L549.96,322.44 L550.48,316.79 L551.00,309.63 L551.53,307.97 L552.05,314.19 L552.58,320.45 L553.10,324.04 L553.62,325.47 L554.15,325.34 L554.67,323.74 L555.20,320.79 L555.72,318.72 L556.25,320.82 L556.77,324.40 L557.29,326.90 L557.82,328.28 L558.34,329.00 L558.87,329.40 L559.39,329.62 L559.91,329.72 L560.44,329.69 L560.96,329.50 L561.49,329.05 L562.01,328.07 L562.54,326.08 L563.06,322.51 L563.58,317.63 L564.11,315.00 L564.63,318.26 L565.16,323.26 L565.68,326.80 L566.20,328.80 L566.73,329.84 L567.25,330.37 L567.78,330.65 L568.30,330.76 L568.83,330.72 L569.35,330.47 L569.87,329.83 L570.40,328.45 L570.92,325.87 L571.45,322.18 L571.97,319.86 L572.49,322.08 L573.02,325.95 L573.54,328.78 L574.07,330.39 L574.59,331.24 L575.11,331.70 L575.64,331.98 L576.16,332.16 L576.69,332.27 L577.21,332.31 L577.74,332.29 L578.26,332.18 L578.78,331.98 L579.31,331.68 L579.83,331.35 L580.36,331.13 L580.88,331.18 L581.40,331.49 L581.93,331.88 L582.45,332.22 L582.98,332.49 L583.50,332.69 L584.03,332.82 L584.55,332.92 L585.07,332.98 L585.60,333.02 L586.12,333.04 L586.65,333.04 L587.17,333.02 L587.69,332.99 L588.22,332.93 L588.74,332.86 L589.27,332.75 L589.79,332.63 L590.32,332.49 L590.84,332.37 L591.36,332.29 L591.89,332.28 L592.41,332.35 L592.94,332.46 L593.46,332.60 L593.98,332.75 L594.51,332.88 L595.03,333.00 L595.56,333.11 L596.08,333.20 L596.61,333.27 L597.13,333.33 L597.65,333.36 L598.18,333.38 L598.70,333.39 L599.23,333.39 L599.75,333.39 L600.27,333.38 L600.80,333.37 L601.32,333.37 L601.85,333.36 L602.37,333.36 L602.89,333.36 L603.42,333.35 L603.94,333.35 L604.47,333.35 L604.99,333.35 L605.52,333.34 L606.04,333.33 L606.56,333.32 L607.09,333.30 L607.61,333.27 L608.14,333.24 L608.66,333.20 L609.18,333.15 L609.71,333.08 L610.23,333.00 L610.76,332.90 L611.28,332.79 L611.81,332.66 L612.33,332.54 L612.85,332.46 L613.38,332.43 L613.90,332.46 L614.43,332.55 L614.95,332.65 L615.47,332.75 L616.00,332.84 L616.52,332.92 L617.05,332.99 L617.57,333.06 L618.10,333.13 L618.62,333.20 L619.14,333.26 L619.67,333.31 L620.19,333.34 L620.72,333.36 L621.24,333.37 L621.76,333.37 L622.29,333.38 L622.81,333.39 L623.34,333.39 L623.86,333.40 L624.38,333.41 L624.91,333.42 L625.43,333.43 L625.96,333.44 L626.48,333.44 L627.01,333.45 L627.53,333.45 L628.05,333.45 L628.58,333.45 L629.10,333.45 L629.63,333.45 L630.15,333.45 L630.67,333.46 L631.20,333.47 L631.72,333.48 L632.25,333.49 L632.77,333.50 L633.30,333.50 L633.82,333.50 L634.34,333.49 L634.87,333.48 L635.39,333.47 L635.92,333.46 L636.44,333.45 L636.96,333.45 L637.49,333.45 L638.01,333.45 L638.54,333.45 L639.06,333.44 L639.59,333.44 L640.11,333.45 L640.63,333.45 L641.16,333.45 L641.68,333.45 L642.21,333.45 L642.73,333.46 L643.25,333.45 L643.78,333.45 L644.30,333.45 L644.83,333.44 L645.35,333.44 L645.88,333.44 L646.40,333.44 L646.92,333.43 L647.45,333.42 L647.97,333.39 L648.50,333.37 L649.02,333.34 L649.54,333.31 L650.07,333.27 L650.59,333.23 L651.12,333.19 L651.64,333.15 L652.16,333.09 L652.69,333.02 L653.21,332.91 L653.74,332.79 L654.26,332.65 L654.79,332.55 L655.31,332.51 L655.83,332.58 L656.36,332.70 L656.88,332.83 L657.41,332.95 L657.93,333.04 L658.45,333.12 L658.98,333.17 L659.50,333.22 L660.03,333.26 L660.55,333.31 L661.08,333.35 L661.60,333.39 L662.12,333.43 L662.65,333.46 L663.17,333.47 L663.70,333.48 L664.22,333.48 L664.74,333.47 L665.27,333.46 L665.79,333.46 L666.32,333.46 L666.84,333.47 L667.37,333.47 L667.89,333.48 L668.41,333.48 L668.94,333.47 L669.46,333.46 L669.99,333.45 L670.51,333.43 L671.03,333.42 L671.56,333.41 L672.08,333.40 L672.61,333.40 L673.13,333.41 L673.66,333.43 L674.18,333.45 L674.70,333.47 L675.23,333.47 L675.75,333.47 L676.28,333.46 L676.80,333.45"/>
<path stroke="#4e8f4e" stroke-width="1.8" d="M383.80,301.35 L384.32,301.35 L384.85,301.35 L385.37,301.35 L385.90,301.34 L386.42,301.34 L386.94,301.33 L387.47,301.34 L387.99,301.35 L388.52,301.36 L389.04,301.37 L389.57,301.38 L390.09,301.39 L390.61,301.39 L391.14,301.40 L391.66,301.39 L392.19,301.39 L392.71,301.39 L393.23,301.38 L393.76,301.37 L394.28,301.37 L394.81,301.37 L395.33,301.37 L395.86,301.37 L396.38,301.38 L396.90,301.38 L397.43,301.39 L397.95,301.38 L398.48,301.38 L399.00,301.36 L399.52,301.35 L400.05,301.34 L400.57,301.33 L401.10,301.33 L401.62,301.33 L402.15,301.34 L402.67,301.34 L403.19,301.35 L403.72,301.35 L404.24,301.36 L404.77,301.35 L405.29,301.35 L405.81,301.34 L406.34,301.33 L406.86,301.32 L407.39,301.30 L407.91,301.29 L408.44,301.28 L408.96,301.27 L409.48,301.27 L410.01,301.27 L410.53,301.27 L411.06,301.27 L411.58,301.27 L412.10,301.27 L412.63,301.27 L413.15,301.27 L413.68,301.27 L414.20,301.26 L414.72,301.25 L415.25,301.25 L415.77,301.25 L416.30,301.24 L416.82,301.24 L417.35,301.23 L417.87,301.24 L418.39,301.25 L418.92,301.26 L419.44,301.27 L419.97,301.28 L420.49,301.29 L421.01,301.29 L421.54,301.28 L422.06,301.27 L422.59,301.25 L423.11,301.23 L423.64,301.21 L424.16,301.20 L424.68,301.18 L425.21,301.18 L425.73,301.17 L426.26,301.17 L426.78,301.17 L427.30,301.16 L427.83,301.15 L428.35,301.15 L428.88,301.14 L429.40,301.12 L429.93,301.11 L430.45,301.10 L430.97,301.09 L431.50,301.09 L432.02,301.08 L432.55,301.08 L433.07,301.07 L433.59,301.06 L434.12,301.05 L434.64,301.03 L435.17,301.00 L435.69,300.97 L436.22,300.95 L436.74,300.93 L437.26,300.92 L437.79,300.91 L438.31,300.89 L438.84,300.88 L439.36,300.85 L439.88,300.80 L440.41,300.73 L440.93,300.64 L441.46,300.52 L441.98,300.38 L442.50,300.21 L443.03,300.02 L443.55,299.82 L444.08,299.60 L444.60,299.38 L445.13,299.20 L445.65,299.06 L446.17,298.99 L446.70,298.99 L447.22,299.02 L447.75,299.06 L448.27,299.07 L448.79,299.04 L449.32,298.92 L449.84,298.67 L450.37,298.22 L450.89,297.47 L451.42,296.27 L451.94,294.47 L452.46,292.01 L452.99,289.14 L453.51,286.87 L454.04,286.64 L454.56,288.44 L455.08,290.83 L455.61,292.74 L456.13,293.89 L456.66,294.35 L457.18,294.34 L457.71,294.17 L458.23,294.19 L458.75,294.58 L459.28,295.27 L459.80,296.05 L460.33,296.76 L460.85,297.31 L461.37,297.69 L461.90,297.91 L462.42,297.98 L462.95,297.95 L463.47,297.83 L463.99,297.69 L464.52,297.55 L465.04,297.48 L465.57,297.50 L466.09,297.64 L466.62,297.87 L467.14,298.17 L467.66,298.49 L468.19,298.81 L468.71,299.11 L469.24,299.37 L469.76,299.59 L470.28,299.78 L470.81,299.94 L471.33,300.07 L471.86,300.19 L472.38,300.30 L472.91,300.39 L473.43,300.47 L473.95,300.54 L474.48,300.59 L475.00,300.62 L475.53,300.65 L476.05,300.67 L476.57,300.70 L477.10,300.72 L477.62,300.75 L478.15,300.78 L478.67,300.81 L479.20,300.83 L479.72,300.84 L480.24,300.85 L480.77,300.85 L481.29,300.85 L481.82,300.85 L482.34,300.85 L482.86,300.84 L483.39,300.83 L483.91,300.82 L484.44,300.80 L484.96,300.77 L485.49,300.74 L486.01,300.69 L486.53,300.64 L487.06,300.59 L487.58,300.53 L488.11,300.48 L488.63,300.41 L489.15,300.33 L489.68,300.22 L490.20,300.08 L490.73,299.89 L491.25,299.63 L491.77,299.27 L492.30,298.73 L492.82,297.88 L493.35,296.55 L493.87,294.55 L494.40,291.80 L494.92,288.62 L495.44,286.29 L495.97,286.55 L496.49,289.15 L497.02,292.30 L497.54,294.92 L498.06,296.79 L498.59,298.03 L499.11,298.83 L499.64,299.34 L500.16,299.69 L500.69,299.93 L501.21,300.11 L501.73,300.24 L502.26,300.32 L502.78,300.38 L503.31,300.41 L503.83,300.42 L504.35,300.42 L504.88,300.42 L505.40,300.40 L505.93,300.37 L506.45,300.33 L506.98,300.28 L507.50,300.20 L508.02,300.10 L508.55,299.96 L509.07,299.79 L509.60,299.59 L510.12,299.38 L510.64,299.20 L511.17,299.08 L511.69,299.07 L512.22,299.14 L512.74,299.26 L513.27,299.38 L513.79,299.45 L514.31,299.46 L514.84,299.39 L515.36,299.22 L515.89,298.93 L516.41,298.48 L516.93,297.77 L517.46,296.62 L517.98,294.76 L518.51,291.83 L519.03,287.59 L519.55,282.40 L520.08,278.21 L520.60,278.25 L521.13,282.47 L521.65,287.64 L522.18,291.83 L522.70,294.70 L523.22,296.52 L523.75,297.63 L524.27,298.30 L524.80,298.73 L525.32,299.01 L525.84,299.19 L526.37,299.32 L526.89,299.41 L527.42,299.47 L527.94,299.51 L528.47,299.53 L528.99,299.53 L529.51,299.50 L530.04,299.44 L530.56,299.35 L531.09,299.23 L531.61,299.07 L532.13,298.87 L532.66,298.62 L533.18,298.27 L533.71,297.77 L534.23,297.01 L534.76,295.89 L535.28,294.35 L535.80,292.45 L536.33,290.71 L536.85,290.12 L537.38,291.10 L537.90,292.83 L538.42,294.44 L538.95,295.63 L539.47,296.40 L540.00,296.84 L540.52,297.05 L541.05,297.10 L541.57,297.01 L542.09,296.82 L542.62,296.53 L543.14,296.16 L543.67,295.79 L544.19,295.51 L544.71,295.41 L545.24,295.51 L545.76,295.68 L546.29,295.84 L546.81,295.92 L547.33,295.88 L547.86,295.70 L548.38,295.30 L548.91,294.51 L549.43,292.92 L549.96,289.72 L550.48,283.99 L551.00,276.76 L551.53,275.09 L552.05,281.37 L552.58,287.70 L553.10,291.34 L553.62,292.79 L554.15,292.67 L554.67,291.06 L555.20,288.09 L555.72,285.99 L556.25,288.11 L556.77,291.71 L557.29,294.22 L557.82,295.59 L558.34,296.28 L558.87,296.65 L559.39,296.84 L559.91,296.92 L560.44,296.89 L560.96,296.71 L561.49,296.27 L562.01,295.31 L562.54,293.33 L563.06,289.74 L563.58,284.81 L564.11,282.13 L564.63,285.40 L565.16,290.43 L565.68,294.00 L566.20,296.02 L566.73,297.08 L567.25,297.65 L567.78,297.95 L568.30,298.08 L568.83,298.06 L569.35,297.81 L569.87,297.15 L570.40,295.75 L570.92,293.13 L571.45,289.40 L571.97,287.07 L572.49,289.32 L573.02,293.24 L573.54,296.10 L574.07,297.74 L574.59,298.60 L575.11,299.07 L575.64,299.35 L576.16,299.52 L576.69,299.62 L577.21,299.66 L577.74,299.62 L578.26,299.50 L578.78,299.28 L579.31,298.98 L579.83,298.65 L580.36,298.44 L580.88,298.53 L581.40,298.89 L581.93,299.32 L582.45,299.71 L582.98,300.00 L583.50,300.19 L584.03,300.31 L584.55,300.38 L585.07,300.41 L585.60,300.42 L586.12,300.42 L586.65,300.41 L587.17,300.39 L587.69,300.35 L588.22,300.30 L588.74,300.23 L589.27,300.13 L589.79,300.02 L590.32,299.90 L590.84,299.81 L591.36,299.77 L591.89,299.80 L592.41,299.89 L592.94,300.02 L593.46,300.17 L593.98,300.29 L594.51,300.39 L595.03,300.46 L595.56,300.52 L596.08,300.55 L596.61,300.58 L597.13,300.60 L597.65,300.63 L598.18,300.65 L598.70,300.67 L599.23,300.69 L599.75,300.70 L600.27,300.72 L600.80,300.73 L601.32,300.74 L601.85,300.75 L602.37,300.76 L602.89,300.76 L603.42,300.76 L603.94,300.76 L604.47,300.75 L604.99,300.75 L605.52,300.76 L606.04,300.77 L606.56,300.78 L607.09,300.79 L607.61,300.78 L608.14,300.76 L608.66,300.72 L609.18,300.66 L609.71,300.58 L610.23,300.48 L610.76,300.36 L611.28,300.22 L611.81,300.07 L612.33,299.93 L612.85,299.82 L613.38,299.78 L613.90,299.81 L614.43,299.90 L614.95,300.03 L615.47,300.16 L616.00,300.29 L616.52,300.40 L617.05,300.48 L617.57,300.56 L618.10,300.61 L618.62,300.65 L619.14,300.69 L619.67,300.71 L620.19,300.73 L620.72,300.75 L621.24,300.77 L621.76,300.79 L622.29,300.81 L622.81,300.83 L623.34,300.84 L623.86,300.85 L624.38,300.85 L624.91,300.84 L625.43,300.82 L625.96,300.80 L626.48,300.79 L627.01,300.78 L627.53,300.79 L628.05,300.80 L628.58,300.81 L629.10,300.82 L629.63,300.82 L630.15,300.82 L630.67,300.81 L631.20,300.80 L631.72,300.80 L632.25,300.80 L632.77,300.81 L633.30,300.81 L633.82,300.82 L634.34,300.84 L634.87,300.85 L635.39,300.86 L635.92,300.86 L636.44,300.87 L636.96,300.87 L637.49,300.87 L638.01,300.85 L638.54,300.84 L639.06,300.81 L639.59,300.80 L640.11,300.79 L640.63,300.79 L641.16,300.79 L641.68,300.79 L642.21,300.80 L642.73,300.81 L643.25,300.82 L643.78,300.83 L644.30,300.83 L644.83,300.83 L645.35,300.83 L645.88,300.82 L646.40,300.82 L646.92,300.80 L647.45,300.79 L647.97,300.77 L648.50,300.75 L649.02,300.74 L649.54,300.72 L650.07,300.70 L650.59,300.66 L651.12,300.62 L651.64,300.56 L652.16,300.48 L652.69,300.39 L653.21,300.27 L653.74,300.13 L654.26,299.99 L654.79,299.89 L655.31,299.87 L655.83,299.95 L656.36,300.10 L656.88,300.27 L657.41,300.42 L657.93,300.55 L658.45,300.65 L658.98,300.71 L659.50,300.75 L660.03,300.77 L660.55,300.78 L661.08,300.77 L661.60,300.77 L662.12,300.76 L662.65,300.76 L663.17,300.76 L663.70,300.76 L664.22,300.76 L664.74,300.76 L665.27,300.75 L665.79,300.75 L666.32,300.75 L666.84,300.75 L667.37,300.75 L667.89,300.75 L668.41,300.75 L668.94,300.75 L669.46,300.75 L669.99,300.75 L670.51,300.75 L671.03,300.74 L671.56,300.75 L672.08,300.76 L672.61,300.77 L673.13,300.79 L673.66,300.81 L674.18,300.82 L674.70,300.83 L675.23,300.84 L675.75,300.85 L676.28,300.85 L676.80,300.85"/>
<path stroke="#a0149a" stroke-width="1.8" d="M383.80,272.08 L384.32,272.07 L384.85,272.06 L385.37,272.05 L385.90,272.04 L386.42,272.04 L386.94,272.04 L387.47,272.04 L387.99,272.03 L388.52,272.02 L389.04,272.01 L389.57,272.01 L390.09,272.02 L390.61,272.04 L391.14,272.05 L391.66,272.07 L392.19,272.07 L392.71,272.07 L393.23,272.06 L393.76,272.05 L394.28,272.03 L394.81,272.01 L395.33,272.00 L395.86,272.00 L396.38,272.01 L396.90,272.02 L397.43,272.02 L397.95,272.03 L398.48,272.03 L399.00,272.04 L399.52,272.04 L400.05,272.04 L400.57,272.05 L401.10,272.05 L401.62,272.05 L402.15,272.05 L402.67,272.04 L403.19,272.04 L403.72,272.03 L404.24,272.02 L404.77,272.01 L405.29,272.00 L405.81,271.98 L406.34,271.97 L406.86,271.95 L407.39,271.94 L407.91,271.93 L408.44,271.92 L408.96,271.92 L409.48,271.92 L410.01,271.92 L410.53,271.93 L411.06,271.94 L411.58,271.95 L412.10,271.96 L412.63,271.97 L413.15,271.98 L413.68,271.98 L414.20,271.97 L414.72,271.96 L415.25,271.94 L415.77,271.93 L416.30,271.91 L416.82,271.90 L417.35,271.90 L417.87,271.90 L418.39,271.90 L418.92,271.91 L419.44,271.91 L419.97,271.91 L420.49,271.91 L421.01,271.92 L421.54,271.93 L422.06,271.93 L422.59,271.94 L423.11,271.94 L423.64,271.93 L424.16,271.93 L424.68,271.93 L425.21,271.92 L425.73,271.92 L426.26,271.91 L426.78,271.92 L427.30,271.93 L427.83,271.94 L428.35,271.95 L428.88,271.96 L429.40,271.96 L429.93,271.95 L430.45,271.94 L430.97,271.92 L431.50,271.89 L432.02,271.86 L432.55,271.83 L433.07,271.81 L433.59,271.79 L434.12,271.77 L434.64,271.75 L435.17,271.74 L435.69,271.72 L436.22,271.70 L436.74,271.68 L437.26,271.65 L437.79,271.61 L438.31,271.57 L438.84,271.53 L439.36,271.48 L439.88,271.43 L440.41,271.37 L440.93,271.29 L441.46,271.21 L441.98,271.10 L442.50,270.96 L443.03,270.79 L443.55,270.60 L444.08,270.39 L444.60,270.17 L445.13,269.98 L445.65,269.84 L446.17,269.77 L446.70,269.77 L447.22,269.82 L447.75,269.87 L448.27,269.88 L448.79,269.85 L449.32,269.72 L449.84,269.48 L450.37,269.03 L450.89,268.30 L451.42,267.13 L451.94,265.38 L452.46,262.99 L452.99,260.20 L453.51,258.00 L454.04,257.78 L454.56,259.54 L455.08,261.86 L455.61,263.72 L456.13,264.83 L456.66,265.28 L457.18,265.27 L457.71,265.11 L458.23,265.14 L458.75,265.52 L459.28,266.20 L459.80,266.97 L460.33,267.66 L460.85,268.20 L461.37,268.56 L461.90,268.77 L462.42,268.83 L462.95,268.80 L463.47,268.69 L463.99,268.54 L464.52,268.41 L465.04,268.33 L465.57,268.35 L466.09,268.47 L466.62,268.69 L467.14,268.97 L467.66,269.28 L468.19,269.59 L468.71,269.89 L469.24,270.15 L469.76,270.38 L470.28,270.57 L470.81,270.73 L471.33,270.87 L471.86,270.98 L472.38,271.08 L472.91,271.16 L473.43,271.23 L473.95,271.28 L474.48,271.32 L475.00,271.35 L475.53,271.37 L476.05,271.39 L476.57,271.40 L477.10,271.42 L477.62,271.43 L478.15,271.44 L478.67,271.46 L479.20,271.48 L479.72,271.50 L480.24,271.51 L480.77,271.52 L481.29,271.52 L481.82,271.52 L482.34,271.51 L482.86,271.50 L483.39,271.48 L483.91,271.46 L484.44,271.44 L484.96,271.43 L485.49,271.42 L486.01,271.40 L486.53,271.38 L487.06,271.34 L487.58,271.30 L488.11,271.25 L488.63,271.19 L489.15,271.11 L489.68,271.01 L490.20,270.88 L490.73,270.70 L491.25,270.45 L491.77,270.10 L492.30,269.56 L492.82,268.71 L493.35,267.39 L493.87,265.42 L494.40,262.72 L494.92,259.61 L495.44,257.36 L495.97,257.63 L496.49,260.18 L497.02,263.27 L497.54,265.83 L498.06,267.66 L498.59,268.86 L499.11,269.63 L499.64,270.12 L500.16,270.45 L500.69,270.67 L501.21,270.83 L501.73,270.94 L502.26,271.02 L502.78,271.08 L503.31,271.11 L503.83,271.14 L504.35,271.16 L504.88,271.18 L505.40,271.19 L505.93,271.19 L506.45,271.17 L506.98,271.13 L507.50,271.06 L508.02,270.96 L508.55,270.82 L509.07,270.65 L509.60,270.45 L510.12,270.23 L510.64,270.04 L511.17,269.91 L511.69,269.87 L512.22,269.91 L512.74,269.99 L513.27,270.07 L513.79,270.12 L514.31,270.12 L514.84,270.04 L515.36,269.89 L515.89,269.61 L516.41,269.19 L516.93,268.51 L517.46,267.40 L517.98,265.59 L518.51,262.75 L519.03,258.65 L519.55,253.60 L520.08,249.52 L520.60,249.55 L521.13,253.65 L521.65,258.67 L522.18,262.72 L522.70,265.50 L523.22,267.26 L523.75,268.32 L524.27,268.98 L524.80,269.41 L525.32,269.70 L525.84,269.92 L526.37,270.08 L526.89,270.19 L527.42,270.26 L527.94,270.30 L528.47,270.31 L528.99,270.30 L529.51,270.26 L530.04,270.21 L530.56,270.15 L531.09,270.06 L531.61,269.94 L532.13,269.77 L532.66,269.54 L533.18,269.20 L533.71,268.69 L534.23,267.93 L534.76,266.81 L535.28,265.28 L535.80,263.41 L536.33,261.69 L536.85,261.10 L537.38,262.05 L537.90,263.73 L538.42,265.29 L538.95,266.44 L539.47,267.18 L540.00,267.60 L540.52,267.80 L541.05,267.84 L541.57,267.76 L542.09,267.58 L542.62,267.30 L543.14,266.96 L543.67,266.61 L544.19,266.35 L544.71,266.27 L545.24,266.37 L545.76,266.55 L546.29,266.70 L546.81,266.77 L547.33,266.72 L547.86,266.52 L548.38,266.10 L548.91,265.32 L549.43,263.76 L549.96,260.64 L550.48,255.07 L551.00,248.04 L551.53,246.42 L552.05,252.56 L552.58,258.74 L553.10,262.28 L553.62,263.69 L554.15,263.57 L554.67,262.00 L555.20,259.11 L555.72,257.08 L556.25,259.17 L556.77,262.71 L557.29,265.18 L557.82,266.53 L558.34,267.22 L558.87,267.57 L559.39,267.76 L559.91,267.82 L560.44,267.77 L560.96,267.58 L561.49,267.13 L562.01,266.18 L562.54,264.23 L563.06,260.72 L563.58,255.90 L564.11,253.29 L564.63,256.49 L565.16,261.41 L565.68,264.92 L566.20,266.91 L566.73,267.96 L567.25,268.51 L567.78,268.80 L568.30,268.92 L568.83,268.87 L569.35,268.60 L569.87,267.95 L570.40,266.56 L570.92,264.01 L571.45,260.37 L571.97,258.09 L572.49,260.28 L573.02,264.12 L573.54,266.93 L574.07,268.54 L574.59,269.40 L575.11,269.87 L575.64,270.16 L576.16,270.34 L576.69,270.45 L577.21,270.49 L577.74,270.45 L578.26,270.34 L578.78,270.13 L579.31,269.84 L579.83,269.51 L580.36,269.30 L580.88,269.37 L581.40,269.68 L581.93,270.07 L582.45,270.42 L582.98,270.68 L583.50,270.87 L584.03,271.00 L584.55,271.08 L585.07,271.14 L585.60,271.18 L586.12,271.20 L586.65,271.21 L587.17,271.20 L587.69,271.17 L588.22,271.11 L588.74,271.02 L589.27,270.90 L589.79,270.78 L590.32,270.65 L590.84,270.55 L591.36,270.50 L591.89,270.51 L592.41,270.60 L592.94,270.72 L593.46,270.85 L593.98,270.97 L594.51,271.07 L595.03,271.16 L595.56,271.23 L596.08,271.29 L596.61,271.35 L597.13,271.40 L597.65,271.44 L598.18,271.48 L598.70,271.50 L599.23,271.52 L599.75,271.52 L600.27,271.52 L600.80,271.52 L601.32,271.51 L601.85,271.51 L602.37,271.50 L602.89,271.50 L603.42,271.51 L603.94,271.52 L604.47,271.52 L604.99,271.52 L605.52,271.51 L606.04,271.49 L606.56,271.46 L607.09,271.43 L607.61,271.40 L608.14,271.36 L608.66,271.31 L609.18,271.25 L609.71,271.18 L610.23,271.10 L610.76,270.99 L611.28,270.86 L611.81,270.73 L612.33,270.60 L612.85,270.52 L613.38,270.51 L613.90,270.57 L614.43,270.69 L614.95,270.83 L615.47,270.97 L616.00,271.08 L616.52,271.18 L617.05,271.25 L617.57,271.31 L618.10,271.35 L618.62,271.38 L619.14,271.42 L619.67,271.44 L620.19,271.47 L620.72,271.49 L621.24,271.50 L621.76,271.50 L622.29,271.50 L622.81,271.49 L623.34,271.49 L623.86,271.50 L624.38,271.51 L624.91,271.53 L625.43,271.55 L625.96,271.57 L626.48,271.57 L627.01,271.57 L627.53,271.55 L628.05,271.52 L628.58,271.51 L629.10,271.50 L629.63,271.51 L630.15,271.52 L630.67,271.54 L631.20,271.56 L631.72,271.58 L632.25,271.59 L632.77,271.59 L633.30,271.60 L633.82,271.60 L634.34,271.60 L634.87,271.61 L635.39,271.61 L635.92,271.61 L636.44,271.61 L636.96,271.60 L637.49,271.59 L638.01,271.58 L638.54,271.57 L639.06,271.56 L639.59,271.56 L640.11,271.56 L640.63,271.57 L641.16,271.58 L641.68,271.59 L642.21,271.60 L642.73,271.61 L643.25,271.59 L643.78,271.57 L644.30,271.54 L644.83,271.51 L645.35,271.49 L645.88,271.48 L646.40,271.48 L646.92,271.48 L647.45,271.48 L647.97,271.49 L648.50,271.49 L649.02,271.49 L649.54,271.49 L650.07,271.48 L650.59,271.47 L651.12,271.45 L651.64,271.41 L652.16,271.36 L652.69,271.27 L653.21,271.14 L653.74,270.99 L654.26,270.83 L654.79,270.69 L655.31,270.64 L655.83,270.69 L656.36,270.81 L656.88,270.96 L657.41,271.10 L657.93,271.21 L658.45,271.30 L658.98,271.35 L659.50,271.39 L660.03,271.40 L660.55,271.41 L661.08,271.42 L661.60,271.43 L662.12,271.45 L662.65,271.47 L663.17,271.50 L663.70,271.52 L664.22,271.54 L664.74,271.56 L665.27,271.56 L665.79,271.55 L666.32,271.54 L666.84,271.52 L667.37,271.51 L667.89,271.51 L668.41,271.51 L668.94,271.51 L669.46,271.51 L669.99,271.51 L670.51,271.51 L671.03,271.49 L671.56,271.48 L672.08,271.46 L672.61,271.45 L673.13,271.45 L673.66,271.46 L674.18,271.47 L674.70,271.48 L675.23,271.48 L675.75,271.48 L676.28,271.48 L676.80,271.47"/>
<path stroke="#f87c1c" stroke-width="1.8" d="M383.80,240.53 L384.32,240.53 L384.85,240.52 L385.37,240.52 L385.90,240.50 L386.42,240.49 L386.94,240.49 L387.47,240.49 L387.99,240.49 L388.52,240.49 L389.04,240.50 L389.57,240.51 L390.09,240.53 L390.61,240.54 L391.14,240.55 L391.66,240.56 L392.19,240.56 L392.71,240.56 L393.23,240.55 L393.76,240.54 L394.28,240.53 L394.81,240.53 L395.33,240.53 L395.86,240.53 L396.38,240.53 L396.90,240.54 L397.43,240.53 L397.95,240.53 L398.48,240.52 L399.00,240.51 L399.52,240.50 L400.05,240.50 L400.57,240.49 L401.10,240.49 L401.62,240.50 L402.15,240.50 L402.67,240.51 L403.19,240.52 L403.72,240.53 L404.24,240.53 L404.77,240.54 L405.29,240.55 L405.81,240.57 L406.34,240.59 L406.86,240.60 L407.39,240.60 L407.91,240.59 L408.44,240.57 L408.96,240.54 L409.48,240.51 L410.01,240.48 L410.53,240.45 L411.06,240.43 L411.58,240.43 L412.10,240.43 L412.63,240.43 L413.15,240.44 L413.68,240.45 L414.20,240.46 L414.72,240.46 L415.25,240.47 L415.77,240.47 L416.30,240.48 L416.82,240.48 L417.35,240.48 L417.87,240.48 L418.39,240.48 L418.92,240.48 L419.44,240.47 L419.97,240.46 L420.49,240.45 L421.01,240.43 L421.54,240.40 L422.06,240.38 L422.59,240.37 L423.11,240.36 L423.64,240.36 L424.16,240.36 L424.68,240.35 L425.21,240.35 L425.73,240.35 L426.26,240.35 L426.78,240.35 L427.30,240.34 L427.83,240.34 L428.35,240.34 L428.88,240.34 L429.40,240.33 L429.93,240.32 L430.45,240.31 L430.97,240.30 L431.50,240.29 L432.02,240.27 L432.55,240.26 L433.07,240.25 L433.59,240.25 L434.12,240.24 L434.64,240.23 L435.17,240.23 L435.69,240.22 L436.22,240.21 L436.74,240.21 L437.26,240.20 L437.79,240.19 L438.31,240.17 L438.84,240.15 L439.36,240.11 L439.88,240.06 L440.41,239.98 L440.93,239.88 L441.46,239.75 L441.98,239.59 L442.50,239.42 L443.03,239.22 L443.55,239.02 L444.08,238.81 L444.60,238.60 L445.13,238.43 L445.65,238.31 L446.17,238.26 L446.70,238.27 L447.22,238.31 L447.75,238.35 L448.27,238.36 L448.79,238.32 L449.32,238.19 L449.84,237.93 L450.37,237.48 L450.89,236.74 L451.42,235.56 L451.94,233.80 L452.46,231.39 L452.99,228.59 L453.51,226.38 L454.04,226.16 L454.56,227.95 L455.08,230.31 L455.61,232.19 L456.13,233.32 L456.66,233.76 L457.18,233.73 L457.71,233.56 L458.23,233.56 L458.75,233.94 L459.28,234.61 L459.80,235.38 L460.33,236.07 L460.85,236.60 L461.37,236.95 L461.90,237.14 L462.42,237.19 L462.95,237.14 L463.47,237.02 L463.99,236.87 L464.52,236.75 L465.04,236.70 L465.57,236.75 L466.09,236.90 L466.62,237.13 L467.14,237.43 L467.66,237.75 L468.19,238.06 L468.71,238.36 L469.24,238.62 L469.76,238.86 L470.28,239.07 L470.81,239.24 L471.33,239.39 L471.86,239.50 L472.38,239.59 L472.91,239.65 L473.43,239.70 L473.95,239.74 L474.48,239.78 L475.00,239.82 L475.53,239.87 L476.05,239.91 L476.57,239.96 L477.10,240.00 L477.62,240.03 L478.15,240.06 L478.67,240.08 L479.20,240.09 L479.72,240.09 L480.24,240.10 L480.77,240.10 L481.29,240.10 L481.82,240.09 L482.34,240.08 L482.86,240.06 L483.39,240.04 L483.91,240.02 L484.44,239.99 L484.96,239.98 L485.49,239.96 L486.01,239.94 L486.53,239.92 L487.06,239.89 L487.58,239.85 L488.11,239.79 L488.63,239.71 L489.15,239.61 L489.68,239.49 L490.20,239.34 L490.73,239.15 L491.25,238.90 L491.77,238.55 L492.30,238.02 L492.82,237.18 L493.35,235.87 L493.87,233.91 L494.40,231.20 L494.92,228.07 L495.44,225.80 L495.97,226.06 L496.49,228.62 L497.02,231.72 L497.54,234.28 L498.06,236.11 L498.59,237.31 L499.11,238.08 L499.64,238.58 L500.16,238.91 L500.69,239.14 L501.21,239.31 L501.73,239.43 L502.26,239.51 L502.78,239.57 L503.31,239.60 L503.83,239.61 L504.35,239.62 L504.88,239.61 L505.40,239.61 L505.93,239.59 L506.45,239.56 L506.98,239.51 L507.50,239.43 L508.02,239.34 L508.55,239.21 L509.07,239.05 L509.60,238.86 L510.12,238.65 L510.64,238.47 L511.17,238.35 L511.69,238.33 L512.22,238.39 L512.74,238.49 L513.27,238.58 L513.79,238.65 L514.31,238.65 L514.84,238.57 L515.36,238.41 L515.89,238.13 L516.41,237.68 L516.93,236.99 L517.46,235.86 L517.98,234.02 L518.51,231.15 L519.03,226.99 L519.55,221.88 L520.08,217.76 L520.60,217.80 L521.13,221.94 L521.65,227.02 L522.18,231.14 L522.70,233.97 L523.22,235.76 L523.75,236.85 L524.27,237.51 L524.80,237.94 L525.32,238.22 L525.84,238.41 L526.37,238.54 L526.89,238.62 L527.42,238.67 L527.94,238.69 L528.47,238.70 L528.99,238.69 L529.51,238.66 L530.04,238.61 L530.56,238.54 L531.09,238.44 L531.61,238.32 L532.13,238.15 L532.66,237.91 L533.18,237.58 L533.71,237.09 L534.23,236.35 L534.76,235.26 L535.28,233.73 L535.80,231.86 L536.33,230.14 L536.85,229.55 L537.38,230.51 L537.90,232.20 L538.42,233.78 L538.95,234.94 L539.47,235.68 L540.00,236.10 L540.52,236.29 L541.05,236.32 L541.57,236.23 L542.09,236.05 L542.62,235.78 L543.14,235.45 L543.67,235.11 L544.19,234.86 L544.71,234.79 L545.24,234.89 L545.76,235.06 L546.29,235.21 L546.81,235.27 L547.33,235.21 L547.86,235.01 L548.38,234.61 L548.91,233.83 L549.43,232.28 L549.96,229.16 L550.48,223.58 L551.00,216.53 L551.53,214.90 L552.05,221.02 L552.58,227.18 L553.10,230.73 L553.62,232.16 L554.15,232.05 L554.67,230.48 L555.20,227.57 L555.72,225.52 L556.25,227.61 L556.77,231.15 L557.29,233.62 L557.82,234.96 L558.34,235.63 L558.87,235.99 L559.39,236.18 L559.91,236.25 L560.44,236.21 L560.96,236.02 L561.49,235.58 L562.01,234.62 L562.54,232.65 L563.06,229.12 L563.58,224.26 L564.11,221.64 L564.63,224.88 L565.16,229.86 L565.68,233.39 L566.20,235.38 L566.73,236.42 L567.25,236.96 L567.78,237.25 L568.30,237.37 L568.83,237.33 L569.35,237.08 L569.87,236.44 L570.40,235.05 L570.92,232.48 L571.45,228.80 L571.97,226.49 L572.49,228.70 L573.02,232.56 L573.54,235.39 L574.07,237.01 L574.59,237.88 L575.11,238.35 L575.64,238.63 L576.16,238.79 L576.69,238.88 L577.21,238.90 L577.74,238.85 L578.26,238.72 L578.78,238.50 L579.31,238.21 L579.83,237.89 L580.36,237.70 L580.88,237.79 L581.40,238.13 L581.93,238.54 L582.45,238.91 L582.98,239.18 L583.50,239.38 L584.03,239.51 L584.55,239.59 L585.07,239.65 L585.60,239.67 L586.12,239.68 L586.65,239.67 L587.17,239.63 L587.69,239.58 L588.22,239.51 L588.74,239.42 L589.27,239.32 L589.79,239.21 L590.32,239.10 L590.84,239.02 L591.36,238.98 L591.89,239.01 L592.41,239.10 L592.94,239.23 L593.46,239.36 L593.98,239.48 L594.51,239.59 L595.03,239.68 L595.56,239.75 L596.08,239.82 L596.61,239.88 L597.13,239.93 L597.65,239.96 L598.18,239.99 L598.70,239.99 L599.23,240.00 L599.75,239.99 L600.27,240.00 L600.80,240.00 L601.32,240.01 L601.85,240.02 L602.37,240.02 L602.89,240.02 L603.42,240.02 L603.94,240.01 L604.47,240.00 L604.99,239.99 L605.52,239.97 L606.04,239.95 L606.56,239.93 L607.09,239.91 L607.61,239.88 L608.14,239.85 L608.66,239.81 L609.18,239.76 L609.71,239.71 L610.23,239.63 L610.76,239.54 L611.28,239.43 L611.81,239.30 L612.33,239.19 L612.85,239.10 L613.38,239.08 L613.90,239.13 L614.43,239.23 L614.95,239.36 L615.47,239.49 L616.00,239.60 L616.52,239.70 L617.05,239.78 L617.57,239.83 L618.10,239.88 L618.62,239.92 L619.14,239.95 L619.67,239.97 L620.19,239.99 L620.72,240.00 L621.24,240.01 L621.76,240.01 L622.29,240.00 L622.81,239.99 L623.34,239.99 L623.86,239.98 L624.38,239.99 L624.91,239.99 L625.43,240.00 L625.96,240.01 L626.48,240.02 L627.01,240.02 L627.53,240.02 L628.05,240.02 L628.58,240.02 L629.10,240.02 L629.63,240.03 L630.15,240.04 L630.67,240.05 L631.20,240.06 L631.72,240.07 L632.25,240.07 L632.77,240.08 L633.30,240.08 L633.82,240.08 L634.34,240.07 L634.87,240.06 L635.39,240.04 L635.92,240.02 L636.44,240.00 L636.96,239.97 L637.49,239.96 L638.01,239.95 L638.54,239.94 L639.06,239.94 L639.59,239.95 L640.11,239.95 L640.63,239.95 L641.16,239.96 L641.68,239.97 L642.21,239.97 L642.73,239.98 L643.25,239.99 L643.78,239.99 L644.30,239.99 L644.83,239.99 L645.35,239.98 L645.88,239.98 L646.40,239.97 L646.92,239.97 L647.45,239.97 L647.97,239.98 L648.50,239.98 L649.02,239.97 L649.54,239.96 L650.07,239.95 L650.59,239.92 L651.12,239.89 L651.64,239.85 L652.16,239.79 L652.69,239.70 L653.21,239.58 L653.74,239.43 L654.26,239.27 L654.79,239.13 L655.31,239.07 L655.83,239.11 L656.36,239.22 L656.88,239.36 L657.41,239.49 L657.93,239.61 L658.45,239.71 L658.98,239.78 L659.50,239.84 L660.03,239.88 L660.55,239.91 L661.08,239.94 L661.60,239.96 L662.12,239.98 L662.65,239.99 L663.17,239.99 L663.70,239.99 L664.22,239.99 L664.74,239.98 L665.27,239.97 L665.79,239.95 L666.32,239.94 L666.84,239.93 L667.37,239.93 L667.89,239.94 L668.41,239.94 L668.94,239.95 L669.46,239.95 L669.99,239.96 L670.51,239.97 L671.03,239.98 L671.56,239.99 L672.08,240.01 L672.61,240.02 L673.13,240.03 L673.66,240.03 L674.18,240.02 L674.70,240.01 L675.23,240.00 L675.75,240.00 L676.28,239.99 L676.80,239.99"/>
<path stroke="#ffc81e" stroke-width="1.8" d="M383.80,212.35 L384.32,212.35 L384.85,212.36 L385.37,212.38 L385.90,212.38 L386.42,212.39 L386.94,212.39 L387.47,212.38 L387.99,212.37 L388.52,212.35 L389.04,212.34 L389.57,212.33 L390.09,212.32 L390.61,212.32 L391.14,212.33 L391.66,212.34 L392.19,212.36 L392.71,212.38 L393.23,212.40 L393.76,212.41 L394.28,212.42 L394.81,212.42 L395.33,212.41 L395.86,212.40 L396.38,212.38 L396.90,212.36 L397.43,212.33 L397.95,212.30 L398.48,212.28 L399.00,212.25 L399.52,212.24 L400.05,212.23 L400.57,212.23 L401.10,212.24 L401.62,212.26 L402.15,212.27 L402.67,212.28 L403.19,212.29 L403.72,212.30 L404.24,212.31 L404.77,212.31 L405.29,212.32 L405.81,212.32 L406.34,212.32 L406.86,212.32 L407.39,212.31 L407.91,212.31 L408.44,212.31 L408.96,212.31 L409.48,212.31 L410.01,212.31 L410.53,212.31 L411.06,212.30 L411.58,212.30 L412.10,212.29 L412.63,212.28 L413.15,212.27 L413.68,212.26 L414.20,212.26 L414.72,212.26 L415.25,212.26 L415.77,212.27 L416.30,212.28 L416.82,212.28 L417.35,212.28 L417.87,212.28 L418.39,212.28 L418.92,212.29 L419.44,212.29 L419.97,212.30 L420.49,212.30 L421.01,212.31 L421.54,212.31 L422.06,212.31 L422.59,212.30 L423.11,212.29 L423.64,212.28 L424.16,212.27 L424.68,212.26 L425.21,212.25 L425.73,212.24 L426.26,212.23 L426.78,212.22 L427.30,212.21 L427.83,212.19 L428.35,212.17 L428.88,212.15 L429.40,212.13 L429.93,212.12 L430.45,212.12 L430.97,212.12 L431.50,212.13 L432.02,212.13 L432.55,212.13 L433.07,212.13 L433.59,212.12 L434.12,212.10 L434.64,212.07 L435.17,212.04 L435.69,212.00 L436.22,211.96 L436.74,211.92 L437.26,211.88 L437.79,211.84 L438.31,211.80 L438.84,211.77 L439.36,211.74 L439.88,211.70 L440.41,211.66 L440.93,211.61 L441.46,211.53 L441.98,211.42 L442.50,211.29 L443.03,211.12 L443.55,210.93 L444.08,210.71 L444.60,210.49 L445.13,210.29 L445.65,210.14 L446.17,210.07 L446.70,210.07 L447.22,210.11 L447.75,210.16 L448.27,210.19 L448.79,210.16 L449.32,210.04 L449.84,209.78 L450.37,209.33 L450.89,208.59 L451.42,207.42 L451.94,205.67 L452.46,203.28 L452.99,200.51 L453.51,198.32 L454.04,198.11 L454.56,199.88 L455.08,202.22 L455.61,204.08 L456.13,205.19 L456.66,205.63 L457.18,205.61 L457.71,205.44 L458.23,205.46 L458.75,205.85 L459.28,206.54 L459.80,207.32 L460.33,208.03 L460.85,208.57 L461.37,208.94 L461.90,209.13 L462.42,209.17 L462.95,209.11 L463.47,208.97 L463.99,208.81 L464.52,208.67 L465.04,208.59 L465.57,208.60 L466.09,208.73 L466.62,208.94 L467.14,209.23 L467.66,209.55 L468.19,209.88 L468.71,210.18 L469.24,210.47 L469.76,210.72 L470.28,210.92 L470.81,211.10 L471.33,211.24 L471.86,211.35 L472.38,211.44 L472.91,211.51 L473.43,211.58 L473.95,211.62 L474.48,211.66 L475.00,211.68 L475.53,211.69 L476.05,211.69 L476.57,211.70 L477.10,211.71 L477.62,211.72 L478.15,211.74 L478.67,211.76 L479.20,211.79 L479.72,211.80 L480.24,211.81 L480.77,211.81 L481.29,211.80 L481.82,211.79 L482.34,211.78 L482.86,211.78 L483.39,211.78 L483.91,211.79 L484.44,211.79 L484.96,211.79 L485.49,211.78 L486.01,211.75 L486.53,211.71 L487.06,211.67 L487.58,211.61 L488.11,211.55 L488.63,211.49 L489.15,211.41 L489.68,211.31 L490.20,211.19 L490.73,211.01 L491.25,210.77 L491.77,210.41 L492.30,209.86 L492.82,209.00 L493.35,207.67 L493.87,205.69 L494.40,202.99 L494.92,199.89 L495.44,197.64 L495.97,197.92 L496.49,200.49 L497.02,203.59 L497.54,206.18 L498.06,208.02 L498.59,209.23 L499.11,209.99 L499.64,210.47 L500.16,210.77 L500.69,210.97 L501.21,211.11 L501.73,211.21 L502.26,211.28 L502.78,211.33 L503.31,211.37 L503.83,211.39 L504.35,211.40 L504.88,211.41 L505.40,211.40 L505.93,211.39 L506.45,211.37 L506.98,211.33 L507.50,211.27 L508.02,211.17 L508.55,211.04 L509.07,210.87 L509.60,210.68 L510.12,210.48 L510.64,210.30 L511.17,210.19 L511.69,210.17 L512.22,210.24 L512.74,210.35 L513.27,210.45 L513.79,210.50 L514.31,210.48 L514.84,210.39 L515.36,210.21 L515.89,209.92 L516.41,209.47 L516.93,208.78 L517.46,207.67 L517.98,205.86 L518.51,203.02 L519.03,198.90 L519.55,193.84 L520.08,189.75 L520.60,189.77 L521.13,193.86 L521.65,198.88 L522.18,202.94 L522.70,205.73 L523.22,207.51 L523.75,208.60 L524.27,209.28 L524.80,209.72 L525.32,210.03 L525.84,210.24 L526.37,210.39 L526.89,210.49 L527.42,210.55 L527.94,210.58 L528.47,210.58 L528.99,210.56 L529.51,210.52 L530.04,210.46 L530.56,210.39 L531.09,210.29 L531.61,210.17 L532.13,210.00 L532.66,209.77 L533.18,209.43 L533.71,208.92 L534.23,208.16 L534.76,207.05 L535.28,205.53 L535.80,203.66 L536.33,201.95 L536.85,201.37 L537.38,202.32 L537.90,204.00 L538.42,205.57 L538.95,206.73 L539.47,207.47 L540.00,207.90 L540.52,208.09 L541.05,208.13 L541.57,208.05 L542.09,207.86 L542.62,207.59 L543.14,207.25 L543.67,206.91 L544.19,206.67 L544.71,206.61 L545.24,206.72 L545.76,206.90 L546.29,207.06 L546.81,207.13 L547.33,207.08 L547.86,206.88 L548.38,206.48 L548.91,205.70 L549.43,204.16 L549.96,201.06 L550.48,195.54 L551.00,188.56 L551.53,186.94 L552.05,192.99 L552.58,199.09 L553.10,202.59 L553.62,203.99 L554.15,203.85 L554.67,202.27 L555.20,199.36 L555.72,197.31 L556.25,199.39 L556.77,202.91 L557.29,205.37 L557.82,206.72 L558.34,207.42 L558.87,207.81 L559.39,208.02 L559.91,208.11 L560.44,208.07 L560.96,207.88 L561.49,207.42 L562.01,206.44 L562.54,204.47 L563.06,200.95 L563.58,196.14 L564.11,193.55 L564.63,196.77 L565.16,201.71 L565.68,205.23 L566.20,207.22 L566.73,208.26 L567.25,208.79 L567.78,209.06 L568.30,209.16 L568.83,209.11 L569.35,208.86 L569.87,208.23 L570.40,206.87 L570.92,204.34 L571.45,200.71 L571.97,198.44 L572.49,200.64 L573.02,204.46 L573.54,207.25 L574.07,208.85 L574.59,209.69 L575.11,210.14 L575.64,210.41 L576.16,210.58 L576.69,210.68 L577.21,210.71 L577.74,210.67 L578.26,210.56 L578.78,210.36 L579.31,210.08 L579.83,209.78 L580.36,209.59 L580.88,209.69 L581.40,210.03 L581.93,210.44 L582.45,210.79 L582.98,211.06 L583.50,211.23 L584.03,211.34 L584.55,211.41 L585.07,211.45 L585.60,211.46 L586.12,211.47 L586.65,211.46 L587.17,211.43 L587.69,211.38 L588.22,211.32 L588.74,211.23 L589.27,211.12 L589.79,210.99 L590.32,210.87 L590.84,210.76 L591.36,210.71 L591.89,210.73 L592.41,210.82 L592.94,210.96 L593.46,211.12 L593.98,211.26 L594.51,211.39 L595.03,211.49 L595.56,211.56 L596.08,211.62 L596.61,211.66 L597.13,211.69 L597.65,211.71 L598.18,211.72 L598.70,211.72 L599.23,211.72 L599.75,211.72 L600.27,211.72 L600.80,211.72 L601.32,211.72 L601.85,211.72 L602.37,211.72 L602.89,211.73 L603.42,211.74 L603.94,211.74 L604.47,211.75 L604.99,211.74 L605.52,211.74 L606.04,211.72 L606.56,211.70 L607.09,211.67 L607.61,211.63 L608.14,211.59 L608.66,211.55 L609.18,211.50 L609.71,211.44 L610.23,211.37 L610.76,211.27 L611.28,211.16 L611.81,211.05 L612.33,210.94 L612.85,210.86 L613.38,210.83 L613.90,210.88 L614.43,210.97 L614.95,211.09 L615.47,211.21 L616.00,211.32 L616.52,211.40 L617.05,211.48 L617.57,211.53 L618.10,211.57 L618.62,211.61 L619.14,211.64 L619.67,211.67 L620.19,211.70 L620.72,211.74 L621.24,211.78 L621.76,211.81 L622.29,211.84 L622.81,211.86 L623.34,211.88 L623.86,211.89 L624.38,211.89 L624.91,211.90 L625.43,211.90 L625.96,211.90 L626.48,211.91 L627.01,211.91 L627.53,211.92 L628.05,211.93 L628.58,211.93 L629.10,211.94 L629.63,211.93 L630.15,211.93 L630.67,211.92 L631.20,211.90 L631.72,211.89 L632.25,211.88 L632.77,211.87 L633.30,211.87 L633.82,211.87 L634.34,211.87 L634.87,211.87 L635.39,211.86 L635.92,211.84 L636.44,211.83 L636.96,211.81 L637.49,211.80 L638.01,211.79 L638.54,211.78 L639.06,211.78 L639.59,211.78 L640.11,211.78 L640.63,211.78 L641.16,211.78 L641.68,211.79 L642.21,211.79 L642.73,211.80 L643.25,211.81 L643.78,211.83 L644.30,211.85 L644.83,211.87 L645.35,211.88 L645.88,211.88 L646.40,211.87 L646.92,211.85 L647.45,211.82 L647.97,211.79 L648.50,211.75 L649.02,211.72 L649.54,211.69 L650.07,211.67 L650.59,211.66 L651.12,211.64 L651.64,211.61 L652.16,211.56 L652.69,211.48 L653.21,211.38 L653.74,211.24 L654.26,211.10 L654.79,210.98 L655.31,210.93 L655.83,210.99 L656.36,211.11 L656.88,211.25 L657.41,211.38 L657.93,211.49 L658.45,211.56 L658.98,211.62 L659.50,211.66 L660.03,211.68 L660.55,211.69 L661.08,211.71 L661.60,211.72 L662.12,211.74 L662.65,211.77 L663.17,211.79 L663.70,211.81 L664.22,211.83 L664.74,211.84 L665.27,211.84 L665.79,211.84 L666.32,211.83 L666.84,211.82 L667.37,211.81 L667.89,211.80 L668.41,211.79 L668.94,211.78 L669.46,211.77 L669.99,211.76 L670.51,211.76 L671.03,211.76 L671.56,211.77 L672.08,211.78 L672.61,211.79 L673.13,211.81 L673.66,211.82 L674.18,211.83 L674.70,211.83 L675.23,211.82 L675.75,211.81 L676.28,211.79 L676.80,211.77"/>
<path stroke="#ab97f8" stroke-width="1.8" d="M383.80,182.19 L384.32,182.19 L384.85,182.20 L385.37,182.20 L385.90,182.20 L386.42,182.20 L386.94,182.20 L387.47,182.20 L387.99,182.22 L388.52,182.24 L389.04,182.26 L389.57,182.27 L390.09,182.27 L390.61,182.27 L391.14,182.27 L391.66,182.26 L392.19,182.25 L392.71,182.24 L393.23,182.24 L393.76,182.24 L394.28,182.24 L394.81,182.25 L395.33,182.26 L395.86,182.26 L396.38,182.27 L396.90,182.27 L397.43,182.28 L397.95,182.28 L398.48,182.29 L399.00,182.28 L399.52,182.28 L400.05,182.27 L400.57,182.26 L401.10,182.26 L401.62,182.25 L402.15,182.26 L402.67,182.26 L403.19,182.27 L403.72,182.27 L404.24,182.27 L404.77,182.26 L405.29,182.25 L405.81,182.24 L406.34,182.23 L406.86,182.21 L407.39,182.20 L407.91,182.19 L408.44,182.18 L408.96,182.17 L409.48,182.17 L410.01,182.16 L410.53,182.16 L411.06,182.17 L411.58,182.17 L412.10,182.17 L412.63,182.17 L413.15,182.17 L413.68,182.17 L414.20,182.17 L414.72,182.18 L415.25,182.18 L415.77,182.19 L416.30,182.20 L416.82,182.21 L417.35,182.21 L417.87,182.20 L418.39,182.19 L418.92,182.17 L419.44,182.14 L419.97,182.11 L420.49,182.08 L421.01,182.05 L421.54,182.02 L422.06,182.00 L422.59,182.00 L423.11,182.00 L423.64,182.02 L424.16,182.04 L424.68,182.07 L425.21,182.09 L425.73,182.12 L426.26,182.13 L426.78,182.14 L427.30,182.14 L427.83,182.14 L428.35,182.14 L428.88,182.13 L429.40,182.12 L429.93,182.11 L430.45,182.09 L430.97,182.08 L431.50,182.06 L432.02,182.04 L432.55,182.02 L433.07,182.01 L433.59,182.01 L434.12,182.01 L434.64,182.00 L435.17,182.00 L435.69,181.98 L436.22,181.95 L436.74,181.93 L437.26,181.90 L437.79,181.87 L438.31,181.83 L438.84,181.79 L439.36,181.75 L439.88,181.70 L440.41,181.63 L440.93,181.55 L441.46,181.44 L441.98,181.32 L442.50,181.18 L443.03,181.01 L443.55,180.82 L444.08,180.62 L444.60,180.40 L445.13,180.21 L445.65,180.06 L446.17,179.99 L446.70,179.98 L447.22,180.01 L447.75,180.05 L448.27,180.06 L448.79,180.02 L449.32,179.90 L449.84,179.64 L450.37,179.20 L450.89,178.46 L451.42,177.29 L451.94,175.53 L452.46,173.14 L452.99,170.35 L453.51,168.14 L454.04,167.92 L454.56,169.69 L455.08,172.03 L455.61,173.90 L456.13,175.01 L456.66,175.45 L457.18,175.43 L457.71,175.26 L458.23,175.27 L458.75,175.65 L459.28,176.32 L459.80,177.09 L460.33,177.78 L460.85,178.32 L461.37,178.69 L461.90,178.90 L462.42,178.97 L462.95,178.93 L463.47,178.82 L463.99,178.68 L464.52,178.56 L465.04,178.49 L465.57,178.51 L466.09,178.63 L466.62,178.84 L467.14,179.11 L467.66,179.41 L468.19,179.71 L468.71,180.00 L469.24,180.27 L469.76,180.51 L470.28,180.73 L470.81,180.91 L471.33,181.06 L471.86,181.18 L472.38,181.28 L472.91,181.36 L473.43,181.41 L473.95,181.45 L474.48,181.48 L475.00,181.51 L475.53,181.55 L476.05,181.58 L476.57,181.61 L477.10,181.65 L477.62,181.67 L478.15,181.69 L478.67,181.71 L479.20,181.71 L479.72,181.71 L480.24,181.70 L480.77,181.68 L481.29,181.67 L481.82,181.67 L482.34,181.67 L482.86,181.67 L483.39,181.67 L483.91,181.67 L484.44,181.67 L484.96,181.66 L485.49,181.65 L486.01,181.62 L486.53,181.59 L487.06,181.54 L487.58,181.49 L488.11,181.43 L488.63,181.35 L489.15,181.26 L489.68,181.15 L490.20,181.02 L490.73,180.86 L491.25,180.63 L491.77,180.29 L492.30,179.76 L492.82,178.93 L493.35,177.61 L493.87,175.64 L494.40,172.92 L494.92,169.80 L495.44,167.52 L495.97,167.78 L496.49,170.33 L497.02,173.43 L497.54,175.99 L498.06,177.81 L498.59,179.01 L499.11,179.77 L499.64,180.25 L500.16,180.56 L500.69,180.77 L501.21,180.91 L501.73,181.02 L502.26,181.11 L502.78,181.17 L503.31,181.22 L503.83,181.26 L504.35,181.28 L504.88,181.29 L505.40,181.28 L505.93,181.26 L506.45,181.22 L506.98,181.16 L507.50,181.09 L508.02,181.00 L508.55,180.88 L509.07,180.74 L509.60,180.57 L510.12,180.38 L510.64,180.22 L511.17,180.11 L511.69,180.09 L512.22,180.14 L512.74,180.23 L513.27,180.32 L513.79,180.36 L514.31,180.35 L514.84,180.28 L515.36,180.12 L515.89,179.85 L516.41,179.42 L516.93,178.74 L517.46,177.62 L517.98,175.79 L518.51,172.92 L519.03,168.77 L519.55,163.67 L520.08,159.56 L520.60,159.60 L521.13,163.74 L521.65,168.81 L522.18,172.91 L522.70,175.73 L523.22,177.52 L523.75,178.60 L524.27,179.26 L524.80,179.68 L525.32,179.96 L525.84,180.15 L526.37,180.28 L526.89,180.38 L527.42,180.43 L527.94,180.46 L528.47,180.46 L528.99,180.44 L529.51,180.40 L530.04,180.34 L530.56,180.25 L531.09,180.14 L531.61,180.00 L532.13,179.82 L532.66,179.59 L533.18,179.26 L533.71,178.77 L534.23,178.04 L534.76,176.95 L535.28,175.44 L535.80,173.58 L536.33,171.87 L536.85,171.30 L537.38,172.26 L537.90,173.95 L538.42,175.52 L538.95,176.68 L539.47,177.42 L540.00,177.83 L540.52,178.00 L541.05,178.01 L541.57,177.90 L542.09,177.69 L542.62,177.40 L543.14,177.06 L543.67,176.72 L544.19,176.48 L544.71,176.43 L545.24,176.55 L545.76,176.73 L546.29,176.89 L546.81,176.96 L547.33,176.92 L547.86,176.73 L548.38,176.32 L548.91,175.56 L549.43,174.01 L549.96,170.87 L550.48,165.27 L551.00,158.18 L551.53,156.53 L552.05,162.69 L552.58,168.89 L553.10,172.45 L553.62,173.87 L554.15,173.75 L554.67,172.17 L555.20,169.25 L555.72,167.18 L556.25,169.24 L556.77,172.76 L557.29,175.21 L557.82,176.55 L558.34,177.25 L558.87,177.63 L559.39,177.85 L559.91,177.95 L560.44,177.94 L560.96,177.78 L561.49,177.34 L562.01,176.38 L562.54,174.42 L563.06,170.88 L563.58,166.03 L564.11,163.40 L564.63,166.60 L565.16,171.54 L565.68,175.05 L566.20,177.04 L566.73,178.07 L567.25,178.62 L567.78,178.92 L568.30,179.04 L568.83,179.02 L569.35,178.79 L569.87,178.17 L570.40,176.81 L570.92,174.27 L571.45,170.62 L571.97,168.33 L572.49,170.51 L573.02,174.34 L573.54,177.13 L574.07,178.72 L574.59,179.56 L575.11,180.02 L575.64,180.31 L576.16,180.50 L576.69,180.62 L577.21,180.68 L577.74,180.66 L578.26,180.55 L578.78,180.34 L579.31,180.03 L579.83,179.69 L580.36,179.47 L580.88,179.54 L581.40,179.86 L581.93,180.26 L582.45,180.63 L582.98,180.91 L583.50,181.11 L584.03,181.25 L584.55,181.34 L585.07,181.40 L585.60,181.43 L586.12,181.43 L586.65,181.42 L587.17,181.39 L587.69,181.33 L588.22,181.24 L588.74,181.14 L589.27,181.02 L589.79,180.89 L590.32,180.76 L590.84,180.66 L591.36,180.60 L591.89,180.61 L592.41,180.69 L592.94,180.80 L593.46,180.93 L593.98,181.05 L594.51,181.16 L595.03,181.26 L595.56,181.35 L596.08,181.43 L596.61,181.49 L597.13,181.55 L597.65,181.60 L598.18,181.64 L598.70,181.67 L599.23,181.69 L599.75,181.71 L600.27,181.72 L600.80,181.71 L601.32,181.69 L601.85,181.67 L602.37,181.66 L602.89,181.65 L603.42,181.65 L603.94,181.66 L604.47,181.68 L604.99,181.69 L605.52,181.71 L606.04,181.71 L606.56,181.70 L607.09,181.67 L607.61,181.63 L608.14,181.58 L608.66,181.53 L609.18,181.48 L609.71,181.42 L610.23,181.34 L610.76,181.25 L611.28,181.15 L611.81,181.03 L612.33,180.91 L612.85,180.82 L613.38,180.78 L613.90,180.82 L614.43,180.91 L614.95,181.02 L615.47,181.15 L616.00,181.26 L616.52,181.36 L617.05,181.45 L617.57,181.52 L618.10,181.58 L618.62,181.62 L619.14,181.65 L619.67,181.67 L620.19,181.68 L620.72,181.68 L621.24,181.69 L621.76,181.70 L622.29,181.71 L622.81,181.73 L623.34,181.75 L623.86,181.76 L624.38,181.77 L624.91,181.77 L625.43,181.76 L625.96,181.74 L626.48,181.73 L627.01,181.71 L627.53,181.71 L628.05,181.71 L628.58,181.72 L629.10,181.73 L629.63,181.74 L630.15,181.75 L630.67,181.75 L631.20,181.74 L631.72,181.73 L632.25,181.71 L632.77,181.69 L633.30,181.67 L633.82,181.67 L634.34,181.68 L634.87,181.70 L635.39,181.72 L635.92,181.74 L636.44,181.76 L636.96,181.77 L637.49,181.78 L638.01,181.79 L638.54,181.80 L639.06,181.81 L639.59,181.82 L640.11,181.82 L640.63,181.81 L641.16,181.79 L641.68,181.76 L642.21,181.72 L642.73,181.68 L643.25,181.65 L643.78,181.62 L644.30,181.61 L644.83,181.61 L645.35,181.62 L645.88,181.64 L646.40,181.66 L646.92,181.68 L647.45,181.69 L647.97,181.69 L648.50,181.69 L649.02,181.68 L649.54,181.67 L650.07,181.66 L650.59,181.65 L651.12,181.62 L651.64,181.59 L652.16,181.54 L652.69,181.47 L653.21,181.36 L653.74,181.23 L654.26,181.08 L654.79,180.96 L655.31,180.90 L655.83,180.95 L656.36,181.07 L656.88,181.21 L657.41,181.35 L657.93,181.45 L658.45,181.53 L658.98,181.58 L659.50,181.61 L660.03,181.61 L660.55,181.60 L661.08,181.59 L661.60,181.58 L662.12,181.58 L662.65,181.58 L663.17,181.59 L663.70,181.61 L664.22,181.63 L664.74,181.64 L665.27,181.66 L665.79,181.67 L666.32,181.68 L666.84,181.68 L667.37,181.68 L667.89,181.69 L668.41,181.68 L668.94,181.68 L669.46,181.67 L669.99,181.67 L670.51,181.66 L671.03,181.66 L671.56,181.66 L672.08,181.66 L672.61,181.66 L673.13,181.67 L673.66,181.67 L674.18,181.66 L674.70,181.66 L675.23,181.65 L675.75,181.65 L676.28,181.65 L676.80,181.64"/>
<path stroke="#52c4a8" stroke-width="1.8" d="M383.80,151.61 L384.32,151.61 L384.85,151.61 L385.37,151.61 L385.90,151.62 L386.42,151.63 L386.94,151.63 L387.47,151.62 L387.99,151.60 L388.52,151.57 L389.04,151.54 L389.57,151.52 L390.09,151.51 L390.61,151.50 L391.14,151.50 L391.66,151.50 L392.19,151.51 L392.71,151.52 L393.23,151.52 L393.76,151.52 L394.28,151.52 L394.81,151.53 L395.33,151.53 L395.86,151.53 L396.38,151.53 L396.90,151.52 L397.43,151.50 L397.95,151.49 L398.48,151.47 L399.00,151.46 L399.52,151.46 L400.05,151.46 L400.57,151.47 L401.10,151.48 L401.62,151.49 L402.15,151.50 L402.67,151.50 L403.19,151.51 L403.72,151.52 L404.24,151.53 L404.77,151.53 L405.29,151.54 L405.81,151.55 L406.34,151.56 L406.86,151.56 L407.39,151.57 L407.91,151.58 L408.44,151.58 L408.96,151.59 L409.48,151.59 L410.01,151.58 L410.53,151.56 L411.06,151.53 L411.58,151.51 L412.10,151.48 L412.63,151.46 L413.15,151.44 L413.68,151.44 L414.20,151.44 L414.72,151.44 L415.25,151.45 L415.77,151.46 L416.30,151.47 L416.82,151.49 L417.35,151.50 L417.87,151.51 L418.39,151.52 L418.92,151.52 L419.44,151.51 L419.97,151.49 L420.49,151.47 L421.01,151.45 L421.54,151.44 L422.06,151.43 L422.59,151.44 L423.11,151.46 L423.64,151.48 L424.16,151.49 L424.68,151.49 L425.21,151.48 L425.73,151.46 L426.26,151.43 L426.78,151.40 L427.30,151.38 L427.83,151.37 L428.35,151.36 L428.88,151.37 L429.40,151.39 L429.93,151.41 L430.45,151.43 L430.97,151.44 L431.50,151.45 L432.02,151.44 L432.55,151.43 L433.07,151.42 L433.59,151.40 L434.12,151.37 L434.64,151.35 L435.17,151.33 L435.69,151.31 L436.22,151.29 L436.74,151.27 L437.26,151.24 L437.79,151.22 L438.31,151.20 L438.84,151.18 L439.36,151.16 L439.88,151.13 L440.41,151.10 L440.93,151.06 L441.46,151.01 L441.98,150.93 L442.50,150.83 L443.03,150.72 L443.55,150.61 L444.08,150.49 L444.60,150.37 L445.13,150.28 L445.65,150.21 L446.17,150.18 L446.70,150.18 L447.22,150.20 L447.75,150.22 L448.27,150.23 L448.79,150.21 L449.32,150.15 L449.84,150.02 L450.37,149.78 L450.89,149.37 L451.42,148.72 L451.94,147.73 L452.46,146.36 L452.99,144.77 L453.51,143.51 L454.04,143.38 L454.56,144.39 L455.08,145.72 L455.61,146.78 L456.13,147.42 L456.66,147.67 L457.18,147.66 L457.71,147.56 L458.23,147.56 L458.75,147.76 L459.28,148.14 L459.80,148.56 L460.33,148.94 L460.85,149.23 L461.37,149.42 L461.90,149.53 L462.42,149.57 L462.95,149.57 L463.47,149.54 L463.99,149.50 L464.52,149.46 L465.04,149.45 L465.57,149.49 L466.09,149.57 L466.62,149.69 L467.14,149.84 L467.66,150.00 L468.19,150.15 L468.71,150.30 L469.24,150.43 L469.76,150.55 L470.28,150.65 L470.81,150.73 L471.33,150.81 L471.86,150.88 L472.38,150.94 L472.91,150.99 L473.43,151.03 L473.95,151.06 L474.48,151.07 L475.00,151.07 L475.53,151.07 L476.05,151.08 L476.57,151.09 L477.10,151.11 L477.62,151.12 L478.15,151.14 L478.67,151.16 L479.20,151.18 L479.72,151.19 L480.24,151.20 L480.77,151.21 L481.29,151.22 L481.82,151.23 L482.34,151.22 L482.86,151.21 L483.39,151.19 L483.91,151.17 L484.44,151.14 L484.96,151.11 L485.49,151.09 L486.01,151.08 L486.53,151.06 L487.06,151.04 L487.58,151.03 L488.11,151.01 L488.63,150.98 L489.15,150.94 L489.68,150.88 L490.20,150.80 L490.73,150.70 L491.25,150.55 L491.77,150.34 L492.30,150.03 L492.82,149.55 L493.35,148.80 L493.87,147.68 L494.40,146.15 L494.92,144.37 L495.44,143.08 L495.97,143.23 L496.49,144.69 L497.02,146.44 L497.54,147.89 L498.06,148.93 L498.59,149.61 L499.11,150.05 L499.64,150.33 L500.16,150.51 L500.69,150.63 L501.21,150.72 L501.73,150.77 L502.26,150.81 L502.78,150.84 L503.31,150.86 L503.83,150.89 L504.35,150.92 L504.88,150.94 L505.40,150.97 L505.93,150.98 L506.45,150.98 L506.98,150.97 L507.50,150.93 L508.02,150.86 L508.55,150.77 L509.07,150.66 L509.60,150.53 L510.12,150.40 L510.64,150.29 L511.17,150.22 L511.69,150.20 L512.22,150.24 L512.74,150.29 L513.27,150.35 L513.79,150.37 L514.31,150.37 L514.84,150.33 L515.36,150.25 L515.89,150.11 L516.41,149.88 L516.93,149.50 L517.46,148.87 L517.98,147.82 L518.51,146.18 L519.03,143.79 L519.55,140.87 L520.08,138.51 L520.60,138.51 L521.13,140.86 L521.65,143.74 L522.18,146.07 L522.70,147.67 L523.22,148.68 L523.75,149.31 L524.27,149.70 L524.80,149.96 L525.32,150.13 L525.84,150.26 L526.37,150.35 L526.89,150.41 L527.42,150.46 L527.94,150.48 L528.47,150.49 L528.99,150.49 L529.51,150.48 L530.04,150.45 L530.56,150.40 L531.09,150.33 L531.61,150.24 L532.13,150.13 L532.66,149.98 L533.18,149.77 L533.71,149.47 L534.23,149.03 L534.76,148.39 L535.28,147.52 L535.80,146.45 L536.33,145.47 L536.85,145.14 L537.38,145.69 L537.90,146.65 L538.42,147.54 L538.95,148.19 L539.47,148.60 L540.00,148.83 L540.52,148.94 L541.05,148.97 L541.57,148.93 L542.09,148.83 L542.62,148.68 L543.14,148.48 L543.67,148.28 L544.19,148.13 L544.71,148.09 L545.24,148.16 L545.76,148.27 L546.29,148.37 L546.81,148.41 L547.33,148.39 L547.86,148.29 L548.38,148.07 L548.91,147.65 L549.43,146.79 L549.96,145.05 L550.48,141.93 L551.00,137.98 L551.53,137.07 L552.05,140.51 L552.58,143.96 L553.10,145.93 L553.62,146.71 L554.15,146.61 L554.67,145.69 L555.20,144.02 L555.72,142.84 L556.25,144.03 L556.77,146.05 L557.29,147.46 L557.82,148.23 L558.34,148.63 L558.87,148.84 L559.39,148.95 L559.91,149.00 L560.44,148.98 L560.96,148.87 L561.49,148.62 L562.01,148.07 L562.54,146.96 L563.06,144.96 L563.58,142.20 L564.11,140.71 L564.63,142.54 L565.16,145.35 L565.68,147.33 L566.20,148.45 L566.73,149.03 L567.25,149.34 L567.78,149.51 L568.30,149.58 L568.83,149.56 L569.35,149.42 L569.87,149.05 L570.40,148.27 L570.92,146.80 L571.45,144.71 L571.97,143.40 L572.49,144.66 L573.02,146.86 L573.54,148.47 L574.07,149.40 L574.59,149.89 L575.11,150.16 L575.64,150.32 L576.16,150.42 L576.69,150.47 L577.21,150.49 L577.74,150.46 L578.26,150.38 L578.78,150.26 L579.31,150.09 L579.83,149.90 L580.36,149.79 L580.88,149.84 L581.40,150.05 L581.93,150.31 L582.45,150.53 L582.98,150.70 L583.50,150.81 L584.03,150.87 L584.55,150.90 L585.07,150.91 L585.60,150.90 L586.12,150.89 L586.65,150.87 L587.17,150.84 L587.69,150.82 L588.22,150.79 L588.74,150.75 L589.27,150.70 L589.79,150.64 L590.32,150.57 L590.84,150.51 L591.36,150.47 L591.89,150.47 L592.41,150.49 L592.94,150.55 L593.46,150.62 L593.98,150.70 L594.51,150.77 L595.03,150.85 L595.56,150.91 L596.08,150.95 L596.61,150.99 L597.13,151.02 L597.65,151.04 L598.18,151.05 L598.70,151.05 L599.23,151.05 L599.75,151.04 L600.27,151.04 L600.80,151.03 L601.32,151.03 L601.85,151.03 L602.37,151.03 L602.89,151.03 L603.42,151.04 L603.94,151.04 L604.47,151.05 L604.99,151.05 L605.52,151.05 L606.04,151.04 L606.56,151.02 L607.09,151.00 L607.61,150.98 L608.14,150.95 L608.66,150.91 L609.18,150.87 L609.71,150.83 L610.23,150.79 L610.76,150.74 L611.28,150.68 L611.81,150.62 L612.33,150.55 L612.85,150.50 L613.38,150.48 L613.90,150.50 L614.43,150.55 L614.95,150.63 L615.47,150.71 L616.00,150.79 L616.52,150.87 L617.05,150.94 L617.57,150.99 L618.10,151.02 L618.62,151.04 L619.14,151.04 L619.67,151.03 L620.19,151.01 L620.72,151.00 L621.24,150.99 L621.76,150.99 L622.29,150.99 L622.81,151.00 L623.34,151.03 L623.86,151.05 L624.38,151.08 L624.91,151.10 L625.43,151.12 L625.96,151.13 L626.48,151.13 L627.01,151.13 L627.53,151.14 L628.05,151.15 L628.58,151.17 L629.10,151.18 L629.63,151.18 L630.15,151.18 L630.67,151.16 L631.20,151.13 L631.72,151.09 L632.25,151.06 L632.77,151.04 L633.30,151.03 L633.82,151.03 L634.34,151.05 L634.87,151.07 L635.39,151.08 L635.92,151.09 L636.44,151.10 L636.96,151.09 L637.49,151.08 L638.01,151.07 L638.54,151.05 L639.06,151.04 L639.59,151.02 L640.11,151.01 L640.63,151.01 L641.16,151.02 L641.68,151.04 L642.21,151.05 L642.73,151.07 L643.25,151.09 L643.78,151.10 L644.30,151.11 L644.83,151.12 L645.35,151.11 L645.88,151.10 L646.40,151.09 L646.92,151.08 L647.45,151.08 L647.97,151.08 L648.50,151.07 L649.02,151.06 L649.54,151.06 L650.07,151.05 L650.59,151.04 L651.12,151.01 L651.64,150.97 L652.16,150.91 L652.69,150.83 L653.21,150.74 L653.74,150.64 L654.26,150.55 L654.79,150.47 L655.31,150.45 L655.83,150.50 L656.36,150.58 L656.88,150.67 L657.41,150.75 L657.93,150.82 L658.45,150.88 L658.98,150.93 L659.50,150.96 L660.03,150.99 L660.55,151.01 L661.08,151.02 L661.60,151.02 L662.12,151.00 L662.65,150.99 L663.17,150.97 L663.70,150.96 L664.22,150.96 L664.74,150.97 L665.27,150.98 L665.79,151.00 L666.32,151.01 L666.84,151.02 L667.37,151.03 L667.89,151.03 L668.41,151.03 L668.94,151.03 L669.46,151.04 L669.99,151.05 L670.51,151.07 L671.03,151.07 L671.56,151.08 L672.08,151.07 L672.61,151.06 L673.13,151.04 L673.66,151.03 L674.18,151.02 L674.70,151.01 L675.23,150.99 L675.75,150.99 L676.28,150.99 L676.80,150.99"/>
<path stroke="#c4685a" stroke-width="1.8" d="M383.80,126.20 L384.32,126.19 L384.85,126.18 L385.37,126.18 L385.90,126.17 L386.42,126.17 L386.94,126.17 L387.47,126.17 L387.99,126.17 L388.52,126.17 L389.04,126.17 L389.57,126.16 L390.09,126.15 L390.61,126.15 L391.14,126.15 L391.66,126.15 L392.19,126.14 L392.71,126.14 L393.23,126.14 L393.76,126.14 L394.28,126.14 L394.81,126.14 L395.33,126.14 L395.86,126.13 L396.38,126.13 L396.90,126.12 L397.43,126.12 L397.95,126.11 L398.48,126.09 L399.00,126.08 L399.52,126.07 L400.05,126.07 L400.57,126.07 L401.10,126.09 L401.62,126.11 L402.15,126.14 L402.67,126.16 L403.19,126.18 L403.72,126.20 L404.24,126.20 L404.77,126.19 L405.29,126.18 L405.81,126.15 L406.34,126.13 L406.86,126.11 L407.39,126.09 L407.91,126.08 L408.44,126.08 L408.96,126.09 L409.48,126.11 L410.01,126.12 L410.53,126.13 L411.06,126.14 L411.58,126.14 L412.10,126.14 L412.63,126.13 L413.15,126.12 L413.68,126.12 L414.20,126.12 L414.72,126.12 L415.25,126.12 L415.77,126.13 L416.30,126.13 L416.82,126.14 L417.35,126.15 L417.87,126.15 L418.39,126.15 L418.92,126.14 L419.44,126.13 L419.97,126.12 L420.49,126.10 L421.01,126.09 L421.54,126.07 L422.06,126.06 L422.59,126.05 L423.11,126.05 L423.64,126.05 L424.16,126.04 L424.68,126.04 L425.21,126.04 L425.73,126.04 L426.26,126.03 L426.78,126.02 L427.30,126.00 L427.83,125.99 L428.35,125.98 L428.88,125.97 L429.40,125.97 L429.93,125.97 L430.45,125.98 L430.97,125.99 L431.50,126.01 L432.02,126.03 L432.55,126.04 L433.07,126.04 L433.59,126.03 L434.12,126.00 L434.64,125.96 L435.17,125.92 L435.69,125.89 L436.22,125.86 L436.74,125.84 L437.26,125.82 L437.79,125.81 L438.31,125.81 L438.84,125.80 L439.36,125.79 L439.88,125.77 L440.41,125.74 L440.93,125.70 L441.46,125.65 L441.98,125.58 L442.50,125.49 L443.03,125.38 L443.55,125.25 L444.08,125.12 L444.60,124.98 L445.13,124.86 L445.65,124.77 L446.17,124.73 L446.70,124.73 L447.22,124.75 L447.75,124.79 L448.27,124.80 L448.79,124.79 L449.32,124.73 L449.84,124.58 L450.37,124.32 L450.89,123.88 L451.42,123.18 L451.94,122.13 L452.46,120.70 L452.99,119.03 L453.51,117.72 L454.04,117.58 L454.56,118.64 L455.08,120.02 L455.61,121.14 L456.13,121.82 L456.66,122.09 L457.18,122.10 L457.71,122.02 L458.23,122.05 L458.75,122.28 L459.28,122.68 L459.80,123.12 L460.33,123.51 L460.85,123.80 L461.37,124.00 L461.90,124.11 L462.42,124.16 L462.95,124.15 L463.47,124.11 L463.99,124.04 L464.52,123.98 L465.04,123.95 L465.57,123.96 L466.09,124.01 L466.62,124.12 L467.14,124.27 L467.66,124.44 L468.19,124.64 L468.71,124.82 L469.24,124.99 L469.76,125.13 L470.28,125.25 L470.81,125.34 L471.33,125.42 L471.86,125.48 L472.38,125.53 L472.91,125.58 L473.43,125.63 L473.95,125.68 L474.48,125.72 L475.00,125.75 L475.53,125.76 L476.05,125.76 L476.57,125.75 L477.10,125.75 L477.62,125.76 L478.15,125.76 L478.67,125.78 L479.20,125.79 L479.72,125.81 L480.24,125.82 L480.77,125.83 L481.29,125.82 L481.82,125.81 L482.34,125.79 L482.86,125.77 L483.39,125.76 L483.91,125.75 L484.44,125.74 L484.96,125.74 L485.49,125.73 L486.01,125.72 L486.53,125.70 L487.06,125.67 L487.58,125.64 L488.11,125.59 L488.63,125.54 L489.15,125.49 L489.68,125.44 L490.20,125.37 L490.73,125.28 L491.25,125.15 L491.77,124.95 L492.30,124.63 L492.82,124.12 L493.35,123.32 L493.87,122.14 L494.40,120.52 L494.92,118.66 L495.44,117.32 L495.97,117.48 L496.49,119.01 L497.02,120.85 L497.54,122.38 L498.06,123.47 L498.59,124.18 L499.11,124.63 L499.64,124.91 L500.16,125.09 L500.69,125.22 L501.21,125.31 L501.73,125.38 L502.26,125.42 L502.78,125.46 L503.31,125.49 L503.83,125.51 L504.35,125.53 L504.88,125.54 L505.40,125.55 L505.93,125.54 L506.45,125.53 L506.98,125.50 L507.50,125.45 L508.02,125.38 L508.55,125.29 L509.07,125.19 L509.60,125.08 L510.12,124.96 L510.64,124.86 L511.17,124.79 L511.69,124.78 L512.22,124.81 L512.74,124.87 L513.27,124.92 L513.79,124.95 L514.31,124.93 L514.84,124.88 L515.36,124.78 L515.89,124.61 L516.41,124.35 L516.93,123.95 L517.46,123.29 L517.98,122.21 L518.51,120.51 L519.03,118.06 L519.55,115.05 L520.08,112.61 L520.60,112.63 L521.13,115.06 L521.65,118.04 L522.18,120.45 L522.70,122.11 L523.22,123.17 L523.75,123.82 L524.27,124.23 L524.80,124.50 L525.32,124.70 L525.84,124.84 L526.37,124.94 L526.89,125.00 L527.42,125.04 L527.94,125.04 L528.47,125.03 L528.99,125.01 L529.51,124.97 L530.04,124.93 L530.56,124.88 L531.09,124.81 L531.61,124.73 L532.13,124.62 L532.66,124.48 L533.18,124.27 L533.71,123.98 L534.23,123.53 L534.76,122.87 L535.28,121.97 L535.80,120.86 L536.33,119.84 L536.85,119.51 L537.38,120.08 L537.90,121.09 L538.42,122.04 L538.95,122.74 L539.47,123.20 L540.00,123.46 L540.52,123.58 L541.05,123.59 L541.57,123.53 L542.09,123.41 L542.62,123.25 L543.14,123.04 L543.67,122.84 L544.19,122.69 L544.71,122.64 L545.24,122.70 L545.76,122.80 L546.29,122.89 L546.81,122.92 L547.33,122.89 L547.86,122.78 L548.38,122.56 L548.91,122.12 L549.43,121.25 L549.96,119.49 L550.48,116.33 L551.00,112.33 L551.53,111.41 L552.05,114.90 L552.58,118.41 L553.10,120.42 L553.62,121.21 L554.15,121.11 L554.67,120.16 L555.20,118.42 L555.72,117.19 L556.25,118.40 L556.77,120.47 L557.29,121.91 L557.82,122.68 L558.34,123.07 L558.87,123.28 L559.39,123.40 L559.91,123.46 L560.44,123.46 L560.96,123.37 L561.49,123.13 L562.01,122.58 L562.54,121.44 L563.06,119.35 L563.58,116.48 L564.11,114.92 L564.63,116.81 L565.16,119.72 L565.68,121.80 L566.20,122.98 L566.73,123.61 L567.25,123.94 L567.78,124.13 L568.30,124.20 L568.83,124.18 L569.35,124.02 L569.87,123.62 L570.40,122.79 L570.92,121.26 L571.45,119.09 L571.97,117.72 L572.49,119.02 L573.02,121.29 L573.54,122.97 L574.07,123.94 L574.59,124.47 L575.11,124.77 L575.64,124.96 L576.16,125.07 L576.69,125.13 L577.21,125.14 L577.74,125.10 L578.26,125.01 L578.78,124.87 L579.31,124.69 L579.83,124.48 L580.36,124.35 L580.88,124.39 L581.40,124.58 L581.93,124.81 L582.45,125.02 L582.98,125.18 L583.50,125.29 L584.03,125.37 L584.55,125.42 L585.07,125.45 L585.60,125.47 L586.12,125.46 L586.65,125.46 L587.17,125.44 L587.69,125.43 L588.22,125.40 L588.74,125.36 L589.27,125.30 L589.79,125.24 L590.32,125.17 L590.84,125.11 L591.36,125.07 L591.89,125.08 L592.41,125.13 L592.94,125.22 L593.46,125.31 L593.98,125.39 L594.51,125.46 L595.03,125.51 L595.56,125.54 L596.08,125.57 L596.61,125.58 L597.13,125.59 L597.65,125.60 L598.18,125.61 L598.70,125.63 L599.23,125.66 L599.75,125.68 L600.27,125.69 L600.80,125.71 L601.32,125.72 L601.85,125.72 L602.37,125.72 L602.89,125.71 L603.42,125.70 L603.94,125.69 L604.47,125.68 L604.99,125.67 L605.52,125.66 L606.04,125.65 L606.56,125.65 L607.09,125.64 L607.61,125.62 L608.14,125.60 L608.66,125.57 L609.18,125.53 L609.71,125.47 L610.23,125.41 L610.76,125.34 L611.28,125.26 L611.81,125.19 L612.33,125.12 L612.85,125.07 L613.38,125.06 L613.90,125.09 L614.43,125.15 L614.95,125.22 L615.47,125.28 L616.00,125.34 L616.52,125.38 L617.05,125.42 L617.57,125.45 L618.10,125.48 L618.62,125.51 L619.14,125.54 L619.67,125.56 L620.19,125.58 L620.72,125.59 L621.24,125.59 L621.76,125.59 L622.29,125.58 L622.81,125.58 L623.34,125.58 L623.86,125.59 L624.38,125.61 L624.91,125.64 L625.43,125.68 L625.96,125.71 L626.48,125.73 L627.01,125.73 L627.53,125.73 L628.05,125.72 L628.58,125.70 L629.10,125.68 L629.63,125.67 L630.15,125.65 L630.67,125.65 L631.20,125.64 L631.72,125.63 L632.25,125.61 L632.77,125.60 L633.30,125.59 L633.82,125.58 L634.34,125.59 L634.87,125.60 L635.39,125.62 L635.92,125.64 L636.44,125.66 L636.96,125.68 L637.49,125.69 L638.01,125.69 L638.54,125.69 L639.06,125.68 L639.59,125.67 L640.11,125.66 L640.63,125.64 L641.16,125.63 L641.68,125.62 L642.21,125.61 L642.73,125.61 L643.25,125.61 L643.78,125.62 L644.30,125.62 L644.83,125.63 L645.35,125.64 L645.88,125.64 L646.40,125.64 L646.92,125.63 L647.45,125.62 L647.97,125.61 L648.50,125.59 L649.02,125.58 L649.54,125.57 L650.07,125.56 L650.59,125.55 L651.12,125.54 L651.64,125.53 L652.16,125.50 L652.69,125.46 L653.21,125.39 L653.74,125.31 L654.26,125.23 L654.79,125.16 L655.31,125.14 L655.83,125.16 L656.36,125.23 L656.88,125.31 L657.41,125.38 L657.93,125.43 L658.45,125.48 L658.98,125.51 L659.50,125.53 L660.03,125.55 L660.55,125.56 L661.08,125.57 L661.60,125.58 L662.12,125.58 L662.65,125.59 L663.17,125.60 L663.70,125.61 L664.22,125.62 L664.74,125.63 L665.27,125.63 L665.79,125.64 L666.32,125.64 L666.84,125.64 L667.37,125.64 L667.89,125.65 L668.41,125.65 L668.94,125.66 L669.46,125.66 L669.99,125.67 L670.51,125.67 L671.03,125.67 L671.56,125.66 L672.08,125.65 L672.61,125.64 L673.13,125.63 L673.66,125.62 L674.18,125.60 L674.70,125.59 L675.23,125.57 L675.75,125.57 L676.28,125.56 L676.80,125.57"/>
<path stroke="#ea3860" stroke-width="1.8" d="M383.80,98.12 L384.32,98.12 L384.85,98.12 L385.37,98.13 L385.90,98.13 L386.42,98.13 L386.94,98.14 L387.47,98.15 L387.99,98.16 L388.52,98.17 L389.04,98.18 L389.57,98.19 L390.09,98.19 L390.61,98.20 L391.14,98.19 L391.66,98.19 L392.19,98.18 L392.71,98.18 L393.23,98.18 L393.76,98.18 L394.28,98.19 L394.81,98.20 L395.33,98.20 L395.86,98.21 L396.38,98.21 L396.90,98.21 L397.43,98.21 L397.95,98.22 L398.48,98.23 L399.00,98.23 L399.52,98.23 L400.05,98.23 L400.57,98.22 L401.10,98.21 L401.62,98.19 L402.15,98.18 L402.67,98.16 L403.19,98.15 L403.72,98.14 L404.24,98.13 L404.77,98.13 L405.29,98.12 L405.81,98.12 L406.34,98.12 L406.86,98.13 L407.39,98.13 L407.91,98.14 L408.44,98.15 L408.96,98.16 L409.48,98.16 L410.01,98.16 L410.53,98.15 L411.06,98.14 L411.58,98.13 L412.10,98.11 L412.63,98.10 L413.15,98.09 L413.68,98.10 L414.20,98.10 L414.72,98.12 L415.25,98.13 L415.77,98.14 L416.30,98.15 L416.82,98.16 L417.35,98.15 L417.87,98.14 L418.39,98.12 L418.92,98.10 L419.44,98.08 L419.97,98.06 L420.49,98.05 L421.01,98.05 L421.54,98.06 L422.06,98.07 L422.59,98.08 L423.11,98.09 L423.64,98.09 L424.16,98.08 L424.68,98.07 L425.21,98.07 L425.73,98.06 L426.26,98.06 L426.78,98.06 L427.30,98.07 L427.83,98.06 L428.35,98.05 L428.88,98.05 L429.40,98.04 L429.93,98.05 L430.45,98.05 L430.97,98.05 L431.50,98.04 L432.02,98.03 L432.55,98.01 L433.07,97.99 L433.59,97.98 L434.12,97.97 L434.64,97.97 L435.17,97.97 L435.69,97.99 L436.22,98.00 L436.74,98.00 L437.26,98.00 L437.79,97.99 L438.31,97.98 L438.84,97.97 L439.36,97.95 L439.88,97.93 L440.41,97.92 L440.93,97.90 L441.46,97.87 L441.98,97.84 L442.50,97.80 L443.03,97.75 L443.55,97.70 L444.08,97.65 L444.60,97.60 L445.13,97.56 L445.65,97.54 L446.17,97.54 L446.70,97.55 L447.22,97.56 L447.75,97.57 L448.27,97.57 L448.79,97.55 L449.32,97.51 L449.84,97.43 L450.37,97.30 L450.89,97.09 L451.42,96.77 L451.94,96.28 L452.46,95.62 L452.99,94.85 L453.51,94.25 L454.04,94.19 L454.56,94.68 L455.08,95.33 L455.61,95.85 L456.13,96.16 L456.66,96.29 L457.18,96.28 L457.71,96.22 L458.23,96.21 L458.75,96.29 L459.28,96.45 L459.80,96.64 L460.33,96.82 L460.85,96.96 L461.37,97.06 L461.90,97.13 L462.42,97.16 L462.95,97.16 L463.47,97.13 L463.99,97.09 L464.52,97.05 L465.04,97.03 L465.57,97.03 L466.09,97.06 L466.62,97.12 L467.14,97.21 L467.66,97.31 L468.19,97.41 L468.71,97.51 L469.24,97.59 L469.76,97.66 L470.28,97.71 L470.81,97.75 L471.33,97.77 L471.86,97.78 L472.38,97.79 L472.91,97.79 L473.43,97.79 L473.95,97.80 L474.48,97.80 L475.00,97.80 L475.53,97.81 L476.05,97.81 L476.57,97.82 L477.10,97.82 L477.62,97.83 L478.15,97.84 L478.67,97.86 L479.20,97.89 L479.72,97.92 L480.24,97.95 L480.77,97.98 L481.29,98.00 L481.82,98.01 L482.34,98.01 L482.86,98.01 L483.39,97.99 L483.91,97.97 L484.44,97.95 L484.96,97.92 L485.49,97.90 L486.01,97.88 L486.53,97.87 L487.06,97.86 L487.58,97.85 L488.11,97.84 L488.63,97.83 L489.15,97.81 L489.68,97.78 L490.20,97.74 L490.73,97.68 L491.25,97.61 L491.77,97.50 L492.30,97.33 L492.82,97.08 L493.35,96.70 L493.87,96.14 L494.40,95.39 L494.92,94.53 L495.44,93.91 L495.97,94.00 L496.49,94.72 L497.02,95.58 L497.54,96.30 L498.06,96.81 L498.59,97.15 L499.11,97.36 L499.64,97.49 L500.16,97.58 L500.69,97.65 L501.21,97.70 L501.73,97.74 L502.26,97.77 L502.78,97.80 L503.31,97.81 L503.83,97.82 L504.35,97.82 L504.88,97.82 L505.40,97.81 L505.93,97.79 L506.45,97.78 L506.98,97.76 L507.50,97.74 L508.02,97.70 L508.55,97.65 L509.07,97.59 L509.60,97.52 L510.12,97.45 L510.64,97.39 L511.17,97.36 L511.69,97.37 L512.22,97.40 L512.74,97.44 L513.27,97.48 L513.79,97.52 L514.31,97.53 L514.84,97.52 L515.36,97.49 L515.89,97.43 L516.41,97.32 L516.93,97.14 L517.46,96.83 L517.98,96.32 L518.51,95.52 L519.03,94.37 L519.55,92.97 L520.08,91.84 L520.60,91.83 L521.13,92.95 L521.65,94.32 L522.18,95.42 L522.70,96.18 L523.22,96.66 L523.75,96.95 L524.27,97.15 L524.80,97.28 L525.32,97.38 L525.84,97.45 L526.37,97.49 L526.89,97.51 L527.42,97.50 L527.94,97.48 L528.47,97.45 L528.99,97.41 L529.51,97.38 L530.04,97.35 L530.56,97.34 L531.09,97.33 L531.61,97.31 L532.13,97.28 L532.66,97.23 L533.18,97.14 L533.71,97.00 L534.23,96.79 L534.76,96.47 L535.28,96.04 L535.80,95.52 L536.33,95.05 L536.85,94.88 L537.38,95.15 L537.90,95.61 L538.42,96.04 L538.95,96.36 L539.47,96.58 L540.00,96.71 L540.52,96.78 L541.05,96.81 L541.57,96.81 L542.09,96.77 L542.62,96.70 L543.14,96.61 L543.67,96.52 L544.19,96.46 L544.71,96.43 L545.24,96.45 L545.76,96.48 L546.29,96.50 L546.81,96.49 L547.33,96.47 L547.86,96.40 L548.38,96.29 L548.91,96.09 L549.43,95.68 L549.96,94.87 L550.48,93.42 L551.00,91.58 L551.53,91.16 L552.05,92.79 L552.58,94.42 L553.10,95.36 L553.62,95.73 L554.15,95.67 L554.67,95.22 L555.20,94.40 L555.72,93.82 L556.25,94.37 L556.77,95.33 L557.29,96.01 L557.82,96.38 L558.34,96.58 L558.87,96.67 L559.39,96.71 L559.91,96.71 L560.44,96.69 L560.96,96.63 L561.49,96.51 L562.01,96.24 L562.54,95.72 L563.06,94.76 L563.58,93.46 L564.11,92.76 L564.63,93.66 L565.16,95.02 L565.68,95.99 L566.20,96.54 L566.73,96.83 L567.25,96.97 L567.78,97.04 L568.30,97.06 L568.83,97.04 L569.35,96.96 L569.87,96.78 L570.40,96.40 L570.92,95.71 L571.45,94.73 L571.97,94.12 L572.49,94.73 L573.02,95.78 L573.54,96.54 L574.07,96.98 L574.59,97.21 L575.11,97.33 L575.64,97.40 L576.16,97.44 L576.69,97.47 L577.21,97.47 L577.74,97.46 L578.26,97.42 L578.78,97.35 L579.31,97.26 L579.83,97.17 L580.36,97.12 L580.88,97.14 L581.40,97.22 L581.93,97.32 L582.45,97.40 L582.98,97.46 L583.50,97.48 L584.03,97.50 L584.55,97.50 L585.07,97.52 L585.60,97.54 L586.12,97.57 L586.65,97.60 L587.17,97.63 L587.69,97.64 L588.22,97.65 L588.74,97.63 L589.27,97.60 L589.79,97.56 L590.32,97.51 L590.84,97.47 L591.36,97.45 L591.89,97.45 L592.41,97.48 L592.94,97.51 L593.46,97.55 L593.98,97.58 L594.51,97.61 L595.03,97.62 L595.56,97.63 L596.08,97.64 L596.61,97.65 L597.13,97.66 L597.65,97.69 L598.18,97.71 L598.70,97.73 L599.23,97.75 L599.75,97.76 L600.27,97.77 L600.80,97.77 L601.32,97.77 L601.85,97.76 L602.37,97.76 L602.89,97.76 L603.42,97.75 L603.94,97.74 L604.47,97.73 L604.99,97.72 L605.52,97.71 L606.04,97.71 L606.56,97.70 L607.09,97.70 L607.61,97.69 L608.14,97.67 L608.66,97.65 L609.18,97.62 L609.71,97.59 L610.23,97.57 L610.76,97.54 L611.28,97.52 L611.81,97.49 L612.33,97.46 L612.85,97.44 L613.38,97.43 L613.90,97.44 L614.43,97.45 L614.95,97.48 L615.47,97.51 L616.00,97.54 L616.52,97.56 L617.05,97.58 L617.57,97.59 L618.10,97.58 L618.62,97.58 L619.14,97.57 L619.67,97.56 L620.19,97.55 L620.72,97.54 L621.24,97.54 L621.76,97.55 L622.29,97.56 L622.81,97.57 L623.34,97.58 L623.86,97.59 L624.38,97.61 L624.91,97.62 L625.43,97.63 L625.96,97.64 L626.48,97.65 L627.01,97.65 L627.53,97.65 L628.05,97.65 L628.58,97.64 L629.10,97.63 L629.63,97.63 L630.15,97.62 L630.67,97.62 L631.20,97.63 L631.72,97.64 L632.25,97.65 L632.77,97.67 L633.30,97.68 L633.82,97.69 L634.34,97.70 L634.87,97.71 L635.39,97.72 L635.92,97.73 L636.44,97.73 L636.96,97.74 L637.49,97.75 L638.01,97.76 L638.54,97.77 L639.06,97.78 L639.59,97.78 L640.11,97.78 L640.63,97.77 L641.16,97.76 L641.68,97.75 L642.21,97.73 L642.73,97.71 L643.25,97.69 L643.78,97.67 L644.30,97.64 L644.83,97.62 L645.35,97.61 L645.88,97.60 L646.40,97.60 L646.92,97.60 L647.45,97.61 L647.97,97.62 L648.50,97.63 L649.02,97.63 L649.54,97.63 L650.07,97.63 L650.59,97.62 L651.12,97.61 L651.64,97.59 L652.16,97.57 L652.69,97.54 L653.21,97.51 L653.74,97.47 L654.26,97.43 L654.79,97.40 L655.31,97.39 L655.83,97.42 L656.36,97.46 L656.88,97.51 L657.41,97.56 L657.93,97.59 L658.45,97.61 L658.98,97.62 L659.50,97.62 L660.03,97.62 L660.55,97.61 L661.08,97.60 L661.60,97.60 L662.12,97.60 L662.65,97.61 L663.17,97.62 L663.70,97.62 L664.22,97.63 L664.74,97.62 L665.27,97.62 L665.79,97.61 L666.32,97.60 L666.84,97.58 L667.37,97.57 L667.89,97.57 L668.41,97.57 L668.94,97.57 L669.46,97.58 L669.99,97.60 L670.51,97.61 L671.03,97.62 L671.56,97.62 L672.08,97.61 L672.61,97.60 L673.13,97.59 L673.66,97.59 L674.18,97.59 L674.70,97.60 L675.23,97.61 L675.75,97.62 L676.28,97.63 L676.80,97.63"/>
<path stroke="#84e1f3" stroke-width="1.8" d="M383.80,76.72 L384.32,76.72 L384.85,76.71 L385.37,76.70 L385.90,76.70 L386.42,76.70 L386.94,76.70 L387.47,76.71 L387.99,76.72 L388.52,76.74 L389.04,76.75 L389.57,76.76 L390.09,76.76 L390.61,76.76 L391.14,76.75 L391.66,76.74 L392.19,76.73 L392.71,76.71 L393.23,76.70 L393.76,76.68 L394.28,76.66 L394.81,76.64 L395.33,76.63 L395.86,76.62 L396.38,76.62 L396.90,76.63 L397.43,76.64 L397.95,76.65 L398.48,76.66 L399.00,76.66 L399.52,76.66 L400.05,76.65 L400.57,76.65 L401.10,76.64 L401.62,76.64 L402.15,76.65 L402.67,76.67 L403.19,76.69 L403.72,76.72 L404.24,76.74 L404.77,76.76 L405.29,76.77 L405.81,76.77 L406.34,76.76 L406.86,76.75 L407.39,76.74 L407.91,76.72 L408.44,76.71 L408.96,76.70 L409.48,76.69 L410.01,76.68 L410.53,76.67 L411.06,76.66 L411.58,76.65 L412.10,76.65 L412.63,76.65 L413.15,76.66 L413.68,76.66 L414.20,76.67 L414.72,76.68 L415.25,76.69 L415.77,76.69 L416.30,76.68 L416.82,76.67 L417.35,76.66 L417.87,76.66 L418.39,76.65 L418.92,76.65 L419.44,76.64 L419.97,76.63 L420.49,76.62 L421.01,76.61 L421.54,76.59 L422.06,76.58 L422.59,76.58 L423.11,76.57 L423.64,76.57 L424.16,76.57 L424.68,76.58 L425.21,76.58 L425.73,76.59 L426.26,76.59 L426.78,76.60 L427.30,76.61 L427.83,76.61 L428.35,76.61 L428.88,76.61 L429.40,76.60 L429.93,76.59 L430.45,76.58 L430.97,76.56 L431.50,76.56 L432.02,76.56 L432.55,76.56 L433.07,76.57 L433.59,76.57 L434.12,76.57 L434.64,76.58 L435.17,76.58 L435.69,76.58 L436.22,76.58 L436.74,76.58 L437.26,76.57 L437.79,76.57 L438.31,76.57 L438.84,76.57 L439.36,76.57 L439.88,76.56 L440.41,76.56 L440.93,76.56 L441.46,76.56 L441.98,76.56 L442.50,76.55 L443.03,76.55 L443.55,76.54 L444.08,76.54 L444.60,76.54 L445.13,76.54 L445.65,76.54 L446.17,76.55 L446.70,76.56 L447.22,76.57 L447.75,76.58 L448.27,76.58 L448.79,76.58 L449.32,76.56 L449.84,76.55 L450.37,76.53 L450.89,76.50 L451.42,76.48 L451.94,76.45 L452.46,76.42 L452.99,76.38 L453.51,76.36 L454.04,76.35 L454.56,76.37 L455.08,76.39 L455.61,76.41 L456.13,76.43 L456.66,76.45 L457.18,76.46 L457.71,76.47 L458.23,76.48 L458.75,76.49 L459.28,76.50 L459.80,76.50 L460.33,76.51 L460.85,76.52 L461.37,76.52 L461.90,76.52 L462.42,76.51 L462.95,76.50 L463.47,76.49 L463.99,76.49 L464.52,76.48 L465.04,76.48 L465.57,76.48 L466.09,76.49 L466.62,76.50 L467.14,76.50 L467.66,76.49 L468.19,76.48 L468.71,76.47 L469.24,76.46 L469.76,76.47 L470.28,76.47 L470.81,76.48 L471.33,76.49 L471.86,76.50 L472.38,76.52 L472.91,76.53 L473.43,76.54 L473.95,76.54 L474.48,76.54 L475.00,76.53 L475.53,76.53 L476.05,76.51 L476.57,76.50 L477.10,76.49 L477.62,76.48 L478.15,76.47 L478.67,76.48 L479.20,76.49 L479.72,76.50 L480.24,76.52 L480.77,76.53 L481.29,76.53 L481.82,76.53 L482.34,76.53 L482.86,76.52 L483.39,76.51 L483.91,76.51 L484.44,76.50 L484.96,76.49 L485.49,76.49 L486.01,76.49 L486.53,76.49 L487.06,76.49 L487.58,76.49 L488.11,76.48 L488.63,76.48 L489.15,76.48 L489.68,76.48 L490.20,76.49 L490.73,76.49 L491.25,76.50 L491.77,76.51 L492.30,76.51 L492.82,76.52 L493.35,76.51 L493.87,76.49 L494.40,76.46 L494.92,76.42 L495.44,76.38 L495.97,76.37 L496.49,76.39 L497.02,76.41 L497.54,76.44 L498.06,76.45 L498.59,76.46 L499.11,76.46 L499.64,76.46 L500.16,76.45 L500.69,76.45 L501.21,76.45 L501.73,76.44 L502.26,76.45 L502.78,76.45 L503.31,76.45 L503.83,76.46 L504.35,76.46 L504.88,76.47 L505.40,76.47 L505.93,76.47 L506.45,76.47 L506.98,76.46 L507.50,76.44 L508.02,76.42 L508.55,76.40 L509.07,76.38 L509.60,76.36 L510.12,76.35 L510.64,76.35 L511.17,76.35 L511.69,76.35 L512.22,76.35 L512.74,76.35 L513.27,76.34 L513.79,76.34 L514.31,76.34 L514.84,76.35 L515.36,76.36 L515.89,76.38 L516.41,76.40 L516.93,76.42 L517.46,76.43 L517.98,76.43 L518.51,76.41 L519.03,76.37 L519.55,76.30 L520.08,76.24 L520.60,76.22 L521.13,76.25 L521.65,76.28 L522.18,76.31 L522.70,76.33 L523.22,76.34 L523.75,76.34 L524.27,76.34 L524.80,76.34 L525.32,76.35 L525.84,76.35 L526.37,76.36 L526.89,76.36 L527.42,76.37 L527.94,76.37 L528.47,76.37 L528.99,76.37 L529.51,76.37 L530.04,76.38 L530.56,76.40 L531.09,76.41 L531.61,76.42 L532.13,76.42 L532.66,76.42 L533.18,76.41 L533.71,76.40 L534.23,76.38 L534.76,76.35 L535.28,76.32 L535.80,76.28 L536.33,76.25 L536.85,76.23 L537.38,76.23 L537.90,76.25 L538.42,76.28 L538.95,76.31 L539.47,76.33 L540.00,76.34 L540.52,76.34 L541.05,76.33 L541.57,76.32 L542.09,76.30 L542.62,76.28 L543.14,76.26 L543.67,76.25 L544.19,76.25 L544.71,76.25 L545.24,76.25 L545.76,76.26 L546.29,76.27 L546.81,76.28 L547.33,76.29 L547.86,76.30 L548.38,76.31 L548.91,76.31 L549.43,76.30 L549.96,76.28 L550.48,76.24 L551.00,76.17 L551.53,76.17 L552.05,76.24 L552.58,76.31 L553.10,76.35 L553.62,76.36 L554.15,76.36 L554.67,76.34 L555.20,76.31 L555.72,76.29 L556.25,76.31 L556.77,76.35 L557.29,76.37 L557.82,76.37 L558.34,76.37 L558.87,76.36 L559.39,76.35 L559.91,76.34 L560.44,76.32 L560.96,76.31 L561.49,76.29 L562.01,76.27 L562.54,76.24 L563.06,76.20 L563.58,76.16 L564.11,76.14 L564.63,76.19 L565.16,76.25 L565.68,76.30 L566.20,76.33 L566.73,76.35 L567.25,76.36 L567.78,76.36 L568.30,76.36 L568.83,76.36 L569.35,76.35 L569.87,76.34 L570.40,76.31 L570.92,76.27 L571.45,76.22 L571.97,76.19 L572.49,76.21 L573.02,76.24 L573.54,76.28 L574.07,76.30 L574.59,76.31 L575.11,76.32 L575.64,76.33 L576.16,76.33 L576.69,76.33 L577.21,76.34 L577.74,76.34 L578.26,76.35 L578.78,76.35 L579.31,76.35 L579.83,76.34 L580.36,76.34 L580.88,76.34 L581.40,76.34 L581.93,76.35 L582.45,76.35 L582.98,76.36 L583.50,76.37 L584.03,76.37 L584.55,76.36 L585.07,76.35 L585.60,76.34 L586.12,76.33 L586.65,76.32 L587.17,76.30 L587.69,76.29 L588.22,76.29 L588.74,76.29 L589.27,76.29 L589.79,76.28 L590.32,76.27 L590.84,76.26 L591.36,76.26 L591.89,76.25 L592.41,76.24 L592.94,76.24 L593.46,76.23 L593.98,76.24 L594.51,76.25 L595.03,76.25 L595.56,76.26 L596.08,76.27 L596.61,76.27 L597.13,76.27 L597.65,76.27 L598.18,76.27 L598.70,76.26 L599.23,76.26 L599.75,76.25 L600.27,76.26 L600.80,76.27 L601.32,76.29 L601.85,76.30 L602.37,76.30 L602.89,76.30 L603.42,76.30 L603.94,76.30 L604.47,76.29 L604.99,76.28 L605.52,76.27 L606.04,76.27 L606.56,76.26 L607.09,76.26 L607.61,76.26 L608.14,76.26 L608.66,76.26 L609.18,76.27 L609.71,76.29 L610.23,76.30 L610.76,76.30 L611.28,76.29 L611.81,76.27 L612.33,76.25 L612.85,76.22 L613.38,76.20 L613.90,76.18 L614.43,76.16 L614.95,76.16 L615.47,76.15 L616.00,76.15 L616.52,76.16 L617.05,76.16 L617.57,76.16 L618.10,76.16 L618.62,76.16 L619.14,76.15 L619.67,76.14 L620.19,76.14 L620.72,76.14 L621.24,76.14 L621.76,76.15 L622.29,76.16 L622.81,76.17 L623.34,76.18 L623.86,76.19 L624.38,76.19 L624.91,76.19 L625.43,76.18 L625.96,76.16 L626.48,76.14 L627.01,76.13 L627.53,76.12 L628.05,76.11 L628.58,76.11 L629.10,76.12 L629.63,76.14 L630.15,76.16 L630.67,76.18 L631.20,76.19 L631.72,76.20 L632.25,76.21 L632.77,76.20 L633.30,76.20 L633.82,76.19 L634.34,76.19 L634.87,76.20 L635.39,76.20 L635.92,76.19 L636.44,76.18 L636.96,76.17 L637.49,76.15 L638.01,76.14 L638.54,76.14 L639.06,76.14 L639.59,76.16 L640.11,76.17 L640.63,76.19 L641.16,76.20 L641.68,76.19 L642.21,76.18 L642.73,76.17 L643.25,76.16 L643.78,76.15 L644.30,76.15 L644.83,76.15 L645.35,76.16 L645.88,76.17 L646.40,76.18 L646.92,76.18 L647.45,76.18 L647.97,76.17 L648.50,76.16 L649.02,76.15 L649.54,76.13 L650.07,76.11 L650.59,76.09 L651.12,76.08 L651.64,76.07 L652.16,76.07 L652.69,76.08 L653.21,76.09 L653.74,76.10 L654.26,76.11 L654.79,76.12 L655.31,76.12 L655.83,76.12 L656.36,76.11 L656.88,76.10 L657.41,76.09 L657.93,76.08 L658.45,76.08 L658.98,76.09 L659.50,76.10 L660.03,76.12 L660.55,76.14 L661.08,76.14 L661.60,76.15 L662.12,76.14 L662.65,76.14 L663.17,76.13 L663.70,76.12 L664.22,76.11 L664.74,76.10 L665.27,76.10 L665.79,76.10 L666.32,76.09 L666.84,76.08 L667.37,76.07 L667.89,76.06 L668.41,76.06 L668.94,76.07 L669.46,76.08 L669.99,76.10 L670.51,76.12 L671.03,76.14 L671.56,76.15 L672.08,76.16 L672.61,76.15 L673.13,76.14 L673.66,76.13 L674.18,76.12 L674.70,76.12 L675.23,76.12 L675.75,76.12 L676.28,76.12 L676.80,76.13"/>
</g>
<rect x="3.0" y="369.25" width="317.0" height="2.3" fill="#000"/>
<rect x="21.95" y="369.3" width="2.1" height="7.8" fill="#000"/>
<rect x="34.61" y="369.3" width="2.1" height="6.4" fill="#000"/>
<rect x="47.27" y="369.3" width="2.1" height="6.4" fill="#000"/>
<rect x="59.93" y="369.3" width="2.1" height="6.4" fill="#000"/>
<rect x="72.59" y="369.3" width="2.1" height="6.4" fill="#000"/>
<rect x="85.25" y="369.3" width="2.1" height="7.8" fill="#000"/>
<rect x="97.91" y="369.3" width="2.1" height="6.4" fill="#000"/>
<rect x="110.57" y="369.3" width="2.1" height="6.4" fill="#000"/>
<rect x="123.23" y="369.3" width="2.1" height="6.4" fill="#000"/>
<rect x="135.89" y="369.3" width="2.1" height="6.4" fill="#000"/>
<rect x="148.55" y="369.3" width="2.1" height="7.8" fill="#000"/>
<rect x="161.21" y="369.3" width="2.1" height="6.4" fill="#000"/>
<rect x="173.87" y="369.3" width="2.1" height="6.4" fill="#000"/>
<rect x="186.53" y="369.3" width="2.1" height="6.4" fill="#000"/>
<rect x="199.19" y="369.3" width="2.1" height="6.4" fill="#000"/>
<rect x="211.85" y="369.3" width="2.1" height="7.8" fill="#000"/>
<rect x="224.51" y="369.3" width="2.1" height="6.4" fill="#000"/>
<rect x="237.17" y="369.3" width="2.1" height="6.4" fill="#000"/>
<rect x="249.83" y="369.3" width="2.1" height="6.4" fill="#000"/>
<rect x="262.49" y="369.3" width="2.1" height="6.4" fill="#000"/>
<rect x="275.15" y="369.3" width="2.1" height="7.8" fill="#000"/>
<rect x="287.81" y="369.3" width="2.1" height="6.4" fill="#000"/>
<rect x="300.47" y="369.3" width="2.1" height="6.4" fill="#000"/>
<rect x="313.13" y="369.3" width="2.1" height="6.4" fill="#000"/>
<rect x="380.6" y="369.25" width="302.4" height="2.3" fill="#000"/>
<rect x="394.65" y="369.3" width="2.1" height="7.8" fill="#000"/>
<rect x="406.81" y="369.3" width="2.1" height="6.4" fill="#000"/>
<rect x="418.97" y="369.3" width="2.1" height="6.4" fill="#000"/>
<rect x="431.13" y="369.3" width="2.1" height="6.4" fill="#000"/>
<rect x="443.29" y="369.3" width="2.1" height="6.4" fill="#000"/>
<rect x="455.45" y="369.3" width="2.1" height="7.8" fill="#000"/>
<rect x="467.61" y="369.3" width="2.1" height="6.4" fill="#000"/>
<rect x="479.77" y="369.3" width="2.1" height="6.4" fill="#000"/>
<rect x="491.93" y="369.3" width="2.1" height="6.4" fill="#000"/>
<rect x="504.09" y="369.3" width="2.1" height="6.4" fill="#000"/>
<rect x="516.25" y="369.3" width="2.1" height="7.8" fill="#000"/>
<rect x="528.41" y="369.3" width="2.1" height="6.4" fill="#000"/>
<rect x="540.57" y="369.3" width="2.1" height="6.4" fill="#000"/>
<rect x="552.73" y="369.3" width="2.1" height="6.4" fill="#000"/>
<rect x="564.89" y="369.3" width="2.1" height="6.4" fill="#000"/>
<rect x="577.05" y="369.3" width="2.1" height="7.8" fill="#000"/>
<rect x="589.21" y="369.3" width="2.1" height="6.4" fill="#000"/>
<rect x="601.37" y="369.3" width="2.1" height="6.4" fill="#000"/>
<rect x="613.53" y="369.3" width="2.1" height="6.4" fill="#000"/>
<rect x="625.69" y="369.3" width="2.1" height="6.4" fill="#000"/>
<rect x="637.85" y="369.3" width="2.1" height="7.8" fill="#000"/>
<rect x="650.01" y="369.3" width="2.1" height="6.4" fill="#000"/>
<rect x="662.17" y="369.3" width="2.1" height="6.4" fill="#000"/>
<rect x="674.33" y="369.3" width="2.1" height="6.4" fill="#000"/>
<g font-family="Liberation Sans, Arial, sans-serif" font-weight="bold" fill="#000" font-size="16.3">
<text x="13.4" y="393.0" textLength="17.6" lengthAdjust="spacingAndGlyphs">15</text>
<text x="76.7" y="393.0" textLength="17.6" lengthAdjust="spacingAndGlyphs">14</text>
<text x="140.0" y="393.0" textLength="17.6" lengthAdjust="spacingAndGlyphs">13</text>
<text x="203.3" y="393.0" textLength="17.6" lengthAdjust="spacingAndGlyphs">12</text>
<text x="266.6" y="393.0" textLength="17.6" lengthAdjust="spacingAndGlyphs">11</text>
</g>
<g font-family="Liberation Sans, Arial, sans-serif" font-weight="bold" fill="#000" font-size="15.7">
<text x="387.5" y="393.0" textLength="17.4" lengthAdjust="spacingAndGlyphs">15</text>
<text x="448.3" y="393.0" textLength="17.4" lengthAdjust="spacingAndGlyphs">14</text>
<text x="509.1" y="393.0" textLength="17.4" lengthAdjust="spacingAndGlyphs">13</text>
<text x="569.9" y="393.0" textLength="17.4" lengthAdjust="spacingAndGlyphs">12</text>
<text x="630.7" y="393.0" textLength="17.4" lengthAdjust="spacingAndGlyphs">11</text>
</g>
<g font-family="Liberation Sans, Arial, sans-serif" font-weight="bold" fill="#000" font-size="16.8">
<text x="332.3" y="367.9" textLength="36.3" lengthAdjust="spacingAndGlyphs">0.5 h</text>
<text x="332.3" y="338.9" textLength="36.3" lengthAdjust="spacingAndGlyphs">1.0 h</text>
<text x="332.3" y="303.8" textLength="36.3" lengthAdjust="spacingAndGlyphs">1.5 h</text>
<text x="332.3" y="274.3" textLength="36.3" lengthAdjust="spacingAndGlyphs">2.0 h</text>
<text x="332.3" y="245.1" textLength="36.3" lengthAdjust="spacingAndGlyphs">2.5 h</text>
<text x="332.3" y="216.5" textLength="36.3" lengthAdjust="spacingAndGlyphs">3.0 h</text>
<text x="332.3" y="186.7" textLength="36.3" lengthAdjust="spacingAndGlyphs">3.5 h</text>
<text x="332.3" y="156.7" textLength="36.3" lengthAdjust="spacingAndGlyphs">4.0 h</text>
<text x="332.3" y="129.4" textLength="36.3" lengthAdjust="spacingAndGlyphs">4.5 h</text>
<text x="332.3" y="102.5" textLength="36.3" lengthAdjust="spacingAndGlyphs">5.0 h</text>
<text x="332.3" y="78.7" textLength="36.3" lengthAdjust="spacingAndGlyphs">5.5 h</text>
</g>
<g font-family="Liberation Sans, Arial, sans-serif" font-weight="bold" fill="#000" font-size="15.5">
<text x="9.5" y="41.0" textLength="21.2" lengthAdjust="spacingAndGlyphs">(A)</text>
<text y="41.0"><tspan x="63.2" textLength="55.4" lengthAdjust="spacingAndGlyphs">without</tspan> <tspan x="124.5" textLength="45.9" lengthAdjust="spacingAndGlyphs">RNase</tspan> <tspan x="176.0" textLength="61.1" lengthAdjust="spacingAndGlyphs">inhibitor</tspan> <tspan x="242.8" textLength="55.3" lengthAdjust="spacingAndGlyphs">cocktail</tspan></text>
<text x="381.0" y="41.0" textLength="19.5" lengthAdjust="spacingAndGlyphs">(B)</text>
<text y="41.0"><tspan x="435.3" textLength="32.0" lengthAdjust="spacingAndGlyphs">with</tspan> <tspan x="472.6" textLength="45.3" lengthAdjust="spacingAndGlyphs">RNase</tspan> <tspan x="523.4" textLength="61.2" lengthAdjust="spacingAndGlyphs">inhibitor</tspan> <tspan x="590.3" textLength="55.2" lengthAdjust="spacingAndGlyphs">cocktail</tspan></text>
<text y="14.7"><tspan x="278.2" textLength="60.5" lengthAdjust="spacingAndGlyphs">in-lysate</tspan> <tspan x="344.6" textLength="67.4" lengthAdjust="spacingAndGlyphs">(aptamer</tspan><tspan x="413.0" y="9.3" font-size="8.8" stroke="#000" stroke-width="0.2" textLength="35.5" lengthAdjust="spacingAndGlyphs">complex</tspan><tspan x="449.3" y="14.7">)</tspan></text>
</g>
<g font-family="Liberation Sans, Arial, sans-serif" font-weight="bold" fill="#000">
<text><tspan x="141.2" y="407.8" font-size="10.5">1</tspan><tspan x="147.2" y="413.6" font-size="18.6" textLength="74.8" lengthAdjust="spacingAndGlyphs">H (ppm)</tspan></text>
<text><tspan x="508.6" y="406.7" font-size="10.2">1</tspan><tspan x="515.2" y="412.5" font-size="18" textLength="71.4" lengthAdjust="spacingAndGlyphs">H (ppm)</tspan></text>
</g>
</svg>
</body></html>
